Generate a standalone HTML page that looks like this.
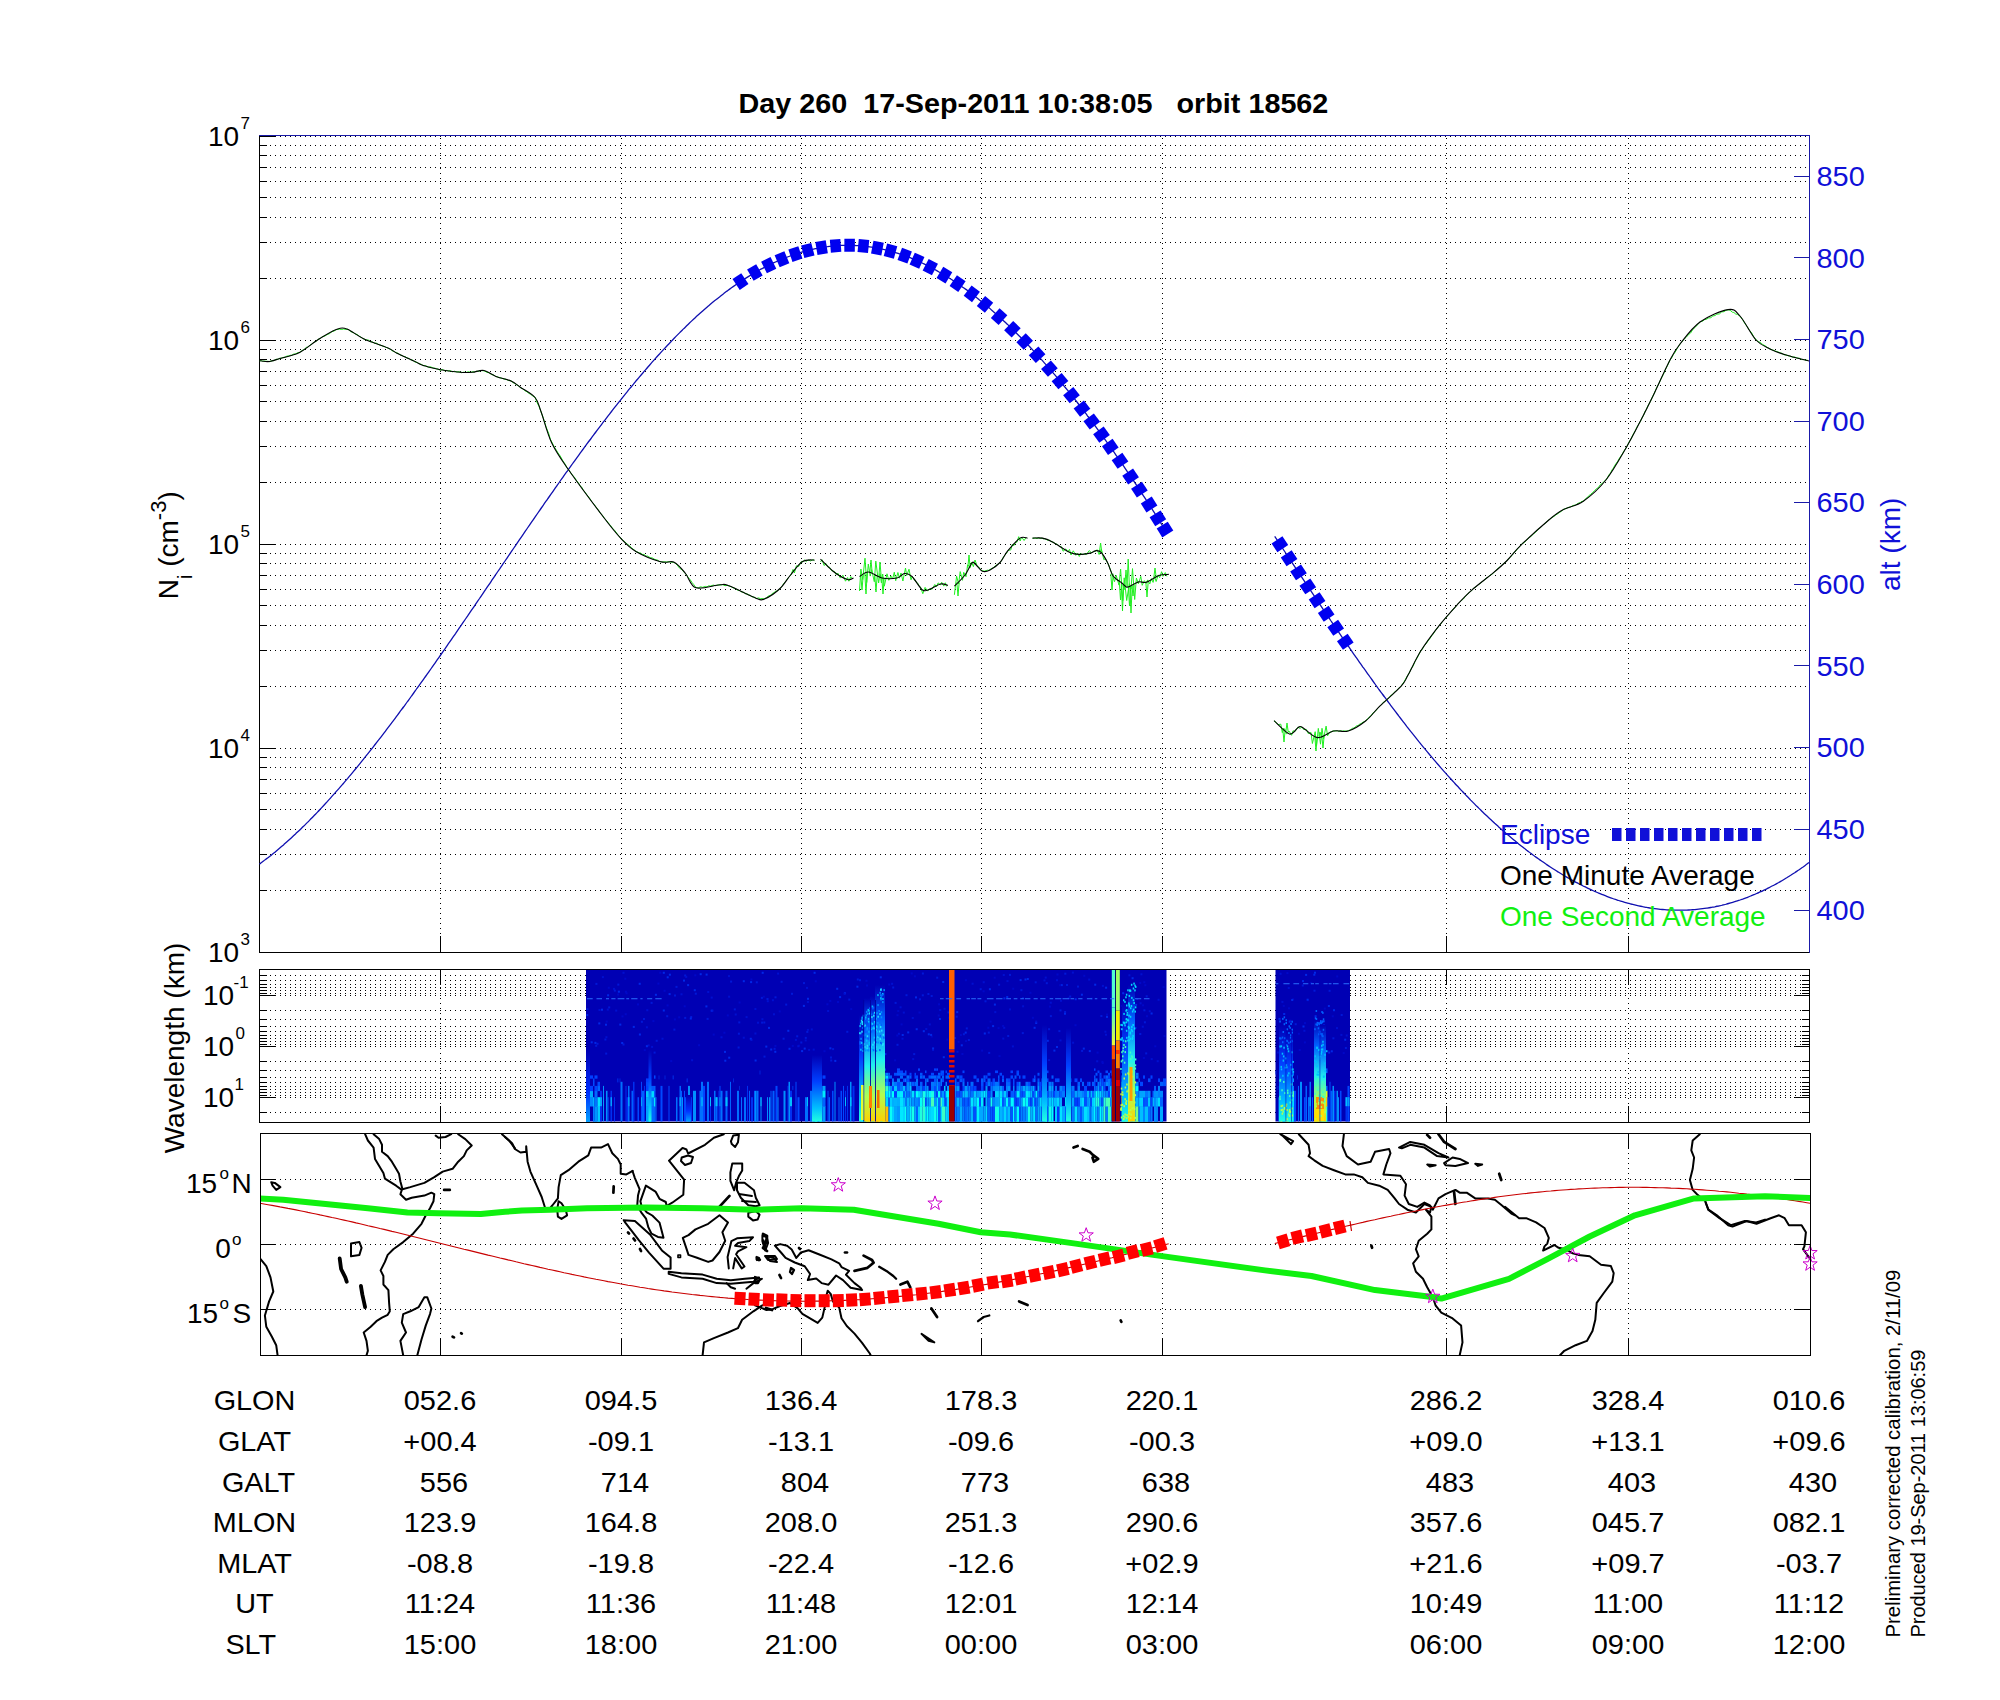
<!DOCTYPE html><html><head><meta charset="utf-8"><style>html,body{margin:0;padding:0;background:#fff;width:2000px;height:1700px;overflow:hidden}svg{display:block}text{font-family:"Liberation Sans",sans-serif;white-space:pre}</style></head><body>
<svg width="2000" height="1700" viewBox="0 0 2000 1700">
<rect width="2000" height="1700" fill="#fff"/>
<line x1="260" y1="890.5" x2="1809" y2="890.5" stroke="#000" stroke-width="1" stroke-dasharray="1 4"/>
<line x1="259" y1="890.5" x2="267" y2="890.5" stroke="#000" stroke-width="1"/>
<line x1="260" y1="854.5" x2="1809" y2="854.5" stroke="#000" stroke-width="1" stroke-dasharray="1 4"/>
<line x1="259" y1="854.5" x2="267" y2="854.5" stroke="#000" stroke-width="1"/>
<line x1="260" y1="829.5" x2="1809" y2="829.5" stroke="#000" stroke-width="1" stroke-dasharray="1 4"/>
<line x1="259" y1="829.5" x2="267" y2="829.5" stroke="#000" stroke-width="1"/>
<line x1="260" y1="809.5" x2="1809" y2="809.5" stroke="#000" stroke-width="1" stroke-dasharray="1 4"/>
<line x1="259" y1="809.5" x2="267" y2="809.5" stroke="#000" stroke-width="1"/>
<line x1="260" y1="793.5" x2="1809" y2="793.5" stroke="#000" stroke-width="1" stroke-dasharray="1 4"/>
<line x1="259" y1="793.5" x2="267" y2="793.5" stroke="#000" stroke-width="1"/>
<line x1="260" y1="779.5" x2="1809" y2="779.5" stroke="#000" stroke-width="1" stroke-dasharray="1 4"/>
<line x1="259" y1="779.5" x2="267" y2="779.5" stroke="#000" stroke-width="1"/>
<line x1="260" y1="767.5" x2="1809" y2="767.5" stroke="#000" stroke-width="1" stroke-dasharray="1 4"/>
<line x1="259" y1="767.5" x2="267" y2="767.5" stroke="#000" stroke-width="1"/>
<line x1="260" y1="757.5" x2="1809" y2="757.5" stroke="#000" stroke-width="1" stroke-dasharray="1 4"/>
<line x1="259" y1="757.5" x2="267" y2="757.5" stroke="#000" stroke-width="1"/>
<line x1="260" y1="748.5" x2="1809" y2="748.5" stroke="#000" stroke-width="1" stroke-dasharray="1 4"/>
<line x1="259" y1="748.5" x2="275" y2="748.5" stroke="#000" stroke-width="1"/>
<line x1="260" y1="686.5" x2="1809" y2="686.5" stroke="#000" stroke-width="1" stroke-dasharray="1 4"/>
<line x1="259" y1="686.5" x2="267" y2="686.5" stroke="#000" stroke-width="1"/>
<line x1="260" y1="650.5" x2="1809" y2="650.5" stroke="#000" stroke-width="1" stroke-dasharray="1 4"/>
<line x1="259" y1="650.5" x2="267" y2="650.5" stroke="#000" stroke-width="1"/>
<line x1="260" y1="625.5" x2="1809" y2="625.5" stroke="#000" stroke-width="1" stroke-dasharray="1 4"/>
<line x1="259" y1="625.5" x2="267" y2="625.5" stroke="#000" stroke-width="1"/>
<line x1="260" y1="605.5" x2="1809" y2="605.5" stroke="#000" stroke-width="1" stroke-dasharray="1 4"/>
<line x1="259" y1="605.5" x2="267" y2="605.5" stroke="#000" stroke-width="1"/>
<line x1="260" y1="589.5" x2="1809" y2="589.5" stroke="#000" stroke-width="1" stroke-dasharray="1 4"/>
<line x1="259" y1="589.5" x2="267" y2="589.5" stroke="#000" stroke-width="1"/>
<line x1="260" y1="575.5" x2="1809" y2="575.5" stroke="#000" stroke-width="1" stroke-dasharray="1 4"/>
<line x1="259" y1="575.5" x2="267" y2="575.5" stroke="#000" stroke-width="1"/>
<line x1="260" y1="563.5" x2="1809" y2="563.5" stroke="#000" stroke-width="1" stroke-dasharray="1 4"/>
<line x1="259" y1="563.5" x2="267" y2="563.5" stroke="#000" stroke-width="1"/>
<line x1="260" y1="553.5" x2="1809" y2="553.5" stroke="#000" stroke-width="1" stroke-dasharray="1 4"/>
<line x1="259" y1="553.5" x2="267" y2="553.5" stroke="#000" stroke-width="1"/>
<line x1="260" y1="544.5" x2="1809" y2="544.5" stroke="#000" stroke-width="1" stroke-dasharray="1 4"/>
<line x1="259" y1="544.5" x2="275" y2="544.5" stroke="#000" stroke-width="1"/>
<line x1="260" y1="482.5" x2="1809" y2="482.5" stroke="#000" stroke-width="1" stroke-dasharray="1 4"/>
<line x1="259" y1="482.5" x2="267" y2="482.5" stroke="#000" stroke-width="1"/>
<line x1="260" y1="446.5" x2="1809" y2="446.5" stroke="#000" stroke-width="1" stroke-dasharray="1 4"/>
<line x1="259" y1="446.5" x2="267" y2="446.5" stroke="#000" stroke-width="1"/>
<line x1="260" y1="421.5" x2="1809" y2="421.5" stroke="#000" stroke-width="1" stroke-dasharray="1 4"/>
<line x1="259" y1="421.5" x2="267" y2="421.5" stroke="#000" stroke-width="1"/>
<line x1="260" y1="401.5" x2="1809" y2="401.5" stroke="#000" stroke-width="1" stroke-dasharray="1 4"/>
<line x1="259" y1="401.5" x2="267" y2="401.5" stroke="#000" stroke-width="1"/>
<line x1="260" y1="385.5" x2="1809" y2="385.5" stroke="#000" stroke-width="1" stroke-dasharray="1 4"/>
<line x1="259" y1="385.5" x2="267" y2="385.5" stroke="#000" stroke-width="1"/>
<line x1="260" y1="371.5" x2="1809" y2="371.5" stroke="#000" stroke-width="1" stroke-dasharray="1 4"/>
<line x1="259" y1="371.5" x2="267" y2="371.5" stroke="#000" stroke-width="1"/>
<line x1="260" y1="359.5" x2="1809" y2="359.5" stroke="#000" stroke-width="1" stroke-dasharray="1 4"/>
<line x1="259" y1="359.5" x2="267" y2="359.5" stroke="#000" stroke-width="1"/>
<line x1="260" y1="349.5" x2="1809" y2="349.5" stroke="#000" stroke-width="1" stroke-dasharray="1 4"/>
<line x1="259" y1="349.5" x2="267" y2="349.5" stroke="#000" stroke-width="1"/>
<line x1="260" y1="340.5" x2="1809" y2="340.5" stroke="#000" stroke-width="1" stroke-dasharray="1 4"/>
<line x1="259" y1="340.5" x2="275" y2="340.5" stroke="#000" stroke-width="1"/>
<line x1="260" y1="278.5" x2="1809" y2="278.5" stroke="#000" stroke-width="1" stroke-dasharray="1 4"/>
<line x1="259" y1="278.5" x2="267" y2="278.5" stroke="#000" stroke-width="1"/>
<line x1="260" y1="242.5" x2="1809" y2="242.5" stroke="#000" stroke-width="1" stroke-dasharray="1 4"/>
<line x1="259" y1="242.5" x2="267" y2="242.5" stroke="#000" stroke-width="1"/>
<line x1="260" y1="217.5" x2="1809" y2="217.5" stroke="#000" stroke-width="1" stroke-dasharray="1 4"/>
<line x1="259" y1="217.5" x2="267" y2="217.5" stroke="#000" stroke-width="1"/>
<line x1="260" y1="197.5" x2="1809" y2="197.5" stroke="#000" stroke-width="1" stroke-dasharray="1 4"/>
<line x1="259" y1="197.5" x2="267" y2="197.5" stroke="#000" stroke-width="1"/>
<line x1="260" y1="181.5" x2="1809" y2="181.5" stroke="#000" stroke-width="1" stroke-dasharray="1 4"/>
<line x1="259" y1="181.5" x2="267" y2="181.5" stroke="#000" stroke-width="1"/>
<line x1="260" y1="167.5" x2="1809" y2="167.5" stroke="#000" stroke-width="1" stroke-dasharray="1 4"/>
<line x1="259" y1="167.5" x2="267" y2="167.5" stroke="#000" stroke-width="1"/>
<line x1="260" y1="155.5" x2="1809" y2="155.5" stroke="#000" stroke-width="1" stroke-dasharray="1 4"/>
<line x1="259" y1="155.5" x2="267" y2="155.5" stroke="#000" stroke-width="1"/>
<line x1="260" y1="145.5" x2="1809" y2="145.5" stroke="#000" stroke-width="1" stroke-dasharray="1 4"/>
<line x1="259" y1="145.5" x2="267" y2="145.5" stroke="#000" stroke-width="1"/>
<line x1="260" y1="136.5" x2="1809" y2="136.5" stroke="#000" stroke-width="1" stroke-dasharray="1 4"/>
<line x1="259" y1="136.5" x2="275" y2="136.5" stroke="#000" stroke-width="1"/>
<line x1="440.5" y1="138" x2="440.5" y2="952" stroke="#000" stroke-width="1" stroke-dasharray="1 4"/>
<line x1="440.5" y1="936" x2="440.5" y2="952" stroke="#000" stroke-width="1"/>
<line x1="621.5" y1="138" x2="621.5" y2="952" stroke="#000" stroke-width="1" stroke-dasharray="1 4"/>
<line x1="621.5" y1="936" x2="621.5" y2="952" stroke="#000" stroke-width="1"/>
<line x1="801.5" y1="138" x2="801.5" y2="952" stroke="#000" stroke-width="1" stroke-dasharray="1 4"/>
<line x1="801.5" y1="936" x2="801.5" y2="952" stroke="#000" stroke-width="1"/>
<line x1="981.5" y1="138" x2="981.5" y2="952" stroke="#000" stroke-width="1" stroke-dasharray="1 4"/>
<line x1="981.5" y1="936" x2="981.5" y2="952" stroke="#000" stroke-width="1"/>
<line x1="1162.5" y1="138" x2="1162.5" y2="952" stroke="#000" stroke-width="1" stroke-dasharray="1 4"/>
<line x1="1162.5" y1="936" x2="1162.5" y2="952" stroke="#000" stroke-width="1"/>
<line x1="1446.5" y1="138" x2="1446.5" y2="952" stroke="#000" stroke-width="1" stroke-dasharray="1 4"/>
<line x1="1446.5" y1="936" x2="1446.5" y2="952" stroke="#000" stroke-width="1"/>
<line x1="1628.5" y1="138" x2="1628.5" y2="952" stroke="#000" stroke-width="1" stroke-dasharray="1 4"/>
<line x1="1628.5" y1="936" x2="1628.5" y2="952" stroke="#000" stroke-width="1"/>
<line x1="1794" y1="910.5" x2="1809" y2="910.5" stroke="#1a1aa8" stroke-width="1"/>
<line x1="1794" y1="829.5" x2="1809" y2="829.5" stroke="#1a1aa8" stroke-width="1"/>
<line x1="1794" y1="747.5" x2="1809" y2="747.5" stroke="#1a1aa8" stroke-width="1"/>
<line x1="1794" y1="665.5" x2="1809" y2="665.5" stroke="#1a1aa8" stroke-width="1"/>
<line x1="1794" y1="584.5" x2="1809" y2="584.5" stroke="#1a1aa8" stroke-width="1"/>
<line x1="1794" y1="502.5" x2="1809" y2="502.5" stroke="#1a1aa8" stroke-width="1"/>
<line x1="1794" y1="421.5" x2="1809" y2="421.5" stroke="#1a1aa8" stroke-width="1"/>
<line x1="1794" y1="339.5" x2="1809" y2="339.5" stroke="#1a1aa8" stroke-width="1"/>
<line x1="1794" y1="257.5" x2="1809" y2="257.5" stroke="#1a1aa8" stroke-width="1"/>
<line x1="1794" y1="176.5" x2="1809" y2="176.5" stroke="#1a1aa8" stroke-width="1"/>
<line x1="259" y1="952.5" x2="1810" y2="952.5" stroke="#000" stroke-width="1"/>
<line x1="259.5" y1="135" x2="259.5" y2="953" stroke="#000" stroke-width="1"/>
<line x1="259" y1="135.5" x2="1810" y2="135.5" stroke="#1a1aa8" stroke-width="1"/>
<line x1="1809.5" y1="135" x2="1809.5" y2="953" stroke="#1a1aa8" stroke-width="1"/>
<path d="M259.5,864.1C260.2,863.6 262.2,862.1 263.5,861.1C264.8,860.1 266.2,859.1 267.5,858.1C268.8,857 270.2,856 271.5,854.9C272.8,853.8 274.2,852.8 275.5,851.7C276.8,850.6 278.2,849.4 279.5,848.3C280.8,847.2 282.2,846 283.5,844.9C284.8,843.7 286.2,842.5 287.5,841.3C288.8,840.1 290.2,838.9 291.5,837.7C292.8,836.5 294.2,835.2 295.5,834C296.8,832.7 298.2,831.5 299.5,830.2C300.8,828.9 302.2,827.6 303.5,826.3C304.8,825 306.2,823.7 307.5,822.4C308.8,821 310.2,819.7 311.5,818.3C312.8,816.9 314.2,815.6 315.5,814.2C316.8,812.8 318.2,811.4 319.5,810C320.8,808.6 322.2,807.1 323.5,805.7C324.8,804.3 326.2,802.8 327.5,801.4C328.8,799.9 330.2,798.4 331.5,796.9C332.8,795.4 334.2,793.9 335.5,792.4C336.8,790.9 338.2,789.4 339.5,787.9C340.8,786.3 342.2,784.8 343.5,783.3C344.8,781.7 346.2,780.1 347.5,778.6C348.8,777 350.2,775.4 351.5,773.8C352.8,772.2 354.2,770.6 355.5,769C356.8,767.4 358.2,765.7 359.5,764.1C360.8,762.5 362.2,760.8 363.5,759.2C364.8,757.5 366.2,755.8 367.5,754.2C368.8,752.5 370.2,750.8 371.5,749.1C372.8,747.4 374.2,745.7 375.5,744C376.8,742.3 378.2,740.6 379.5,738.9C380.8,737.2 382.2,735.4 383.5,733.7C384.8,731.9 386.2,730.2 387.5,728.4C388.8,726.7 390.2,724.9 391.5,723.1C392.8,721.4 394.2,719.6 395.5,717.8C396.8,716 398.2,714.2 399.5,712.4C400.8,710.6 402.2,708.8 403.5,707C404.8,705.2 406.2,703.4 407.5,701.5C408.8,699.7 410.2,697.9 411.5,696C412.8,694.2 414.2,692.3 415.5,690.5C416.8,688.6 418.2,686.8 419.5,684.9C420.8,683.1 422.2,681.2 423.5,679.3C424.8,677.4 426.2,675.6 427.5,673.7C428.8,671.8 430.2,669.9 431.5,668C432.8,666.1 434.2,664.2 435.5,662.3C436.8,660.4 438.2,658.5 439.5,656.6C440.8,654.7 442.2,652.8 443.5,650.9C444.8,649 446.2,647.1 447.5,645.1C448.8,643.2 450.2,641.3 451.5,639.3C452.8,637.4 454.2,635.5 455.5,633.6C456.8,631.6 458.2,629.7 459.5,627.7C460.8,625.8 462.2,623.9 463.5,621.9C464.8,620 466.2,618 467.5,616.1C468.8,614.1 470.2,612.2 471.5,610.2C472.8,608.3 474.2,606.3 475.5,604.3C476.8,602.4 478.2,600.4 479.5,598.5C480.8,596.5 482.2,594.6 483.5,592.6C484.8,590.6 486.2,588.7 487.5,586.7C488.8,584.8 490.2,582.8 491.5,580.8C492.8,578.9 494.2,576.9 495.5,574.9C496.8,573 498.2,571 499.5,569.1C500.8,567.1 502.2,565.1 503.5,563.2C504.8,561.2 506.2,559.3 507.5,557.3C508.8,555.3 510.2,553.4 511.5,551.4C512.8,549.5 514.2,547.5 515.5,545.6C516.8,543.6 518.2,541.7 519.5,539.7C520.8,537.8 522.2,535.8 523.5,533.9C524.8,531.9 526.2,530 527.5,528C528.8,526.1 530.2,524.1 531.5,522.2C532.8,520.3 534.2,518.3 535.5,516.4C536.8,514.5 538.2,512.5 539.5,510.6C540.8,508.7 542.2,506.8 543.5,504.9C544.8,502.9 546.2,501 547.5,499.1C548.8,497.2 550.2,495.3 551.5,493.4C552.8,491.5 554.2,489.6 555.5,487.7C556.8,485.8 558.2,483.9 559.5,482C560.8,480.1 562.2,478.3 563.5,476.4C564.8,474.5 566.2,472.6 567.5,470.8C568.8,468.9 570.2,467 571.5,465.2C572.8,463.3 574.2,461.5 575.5,459.6C576.8,457.8 578.2,456 579.5,454.1C580.8,452.3 582.2,450.5 583.5,448.7C584.8,446.8 586.2,445 587.5,443.2C588.8,441.4 590.2,439.6 591.5,437.8C592.8,436 594.2,434.3 595.5,432.5C596.8,430.7 598.2,428.9 599.5,427.2C600.8,425.4 602.2,423.7 603.5,421.9C604.8,420.2 606.2,418.4 607.5,416.7C608.8,415 610.2,413.2 611.5,411.5C612.8,409.8 614.2,408.1 615.5,406.4C616.8,404.7 618.2,403 619.5,401.3C620.8,399.7 622.2,398 623.5,396.3C624.8,394.7 626.2,393 627.5,391.4C628.8,389.7 630.2,388.1 631.5,386.5C632.8,384.9 634.2,383.3 635.5,381.6C636.8,380 638.2,378.5 639.5,376.9C640.8,375.3 642.2,373.7 643.5,372.2C644.8,370.6 646.2,369.1 647.5,367.5C648.8,366 650.2,364.4 651.5,362.9C652.8,361.4 654.2,359.9 655.5,358.4C656.8,356.9 658.2,355.4 659.5,354C660.8,352.5 662.2,351 663.5,349.6C664.8,348.2 666.2,346.7 667.5,345.3C668.8,343.9 670.2,342.5 671.5,341.1C672.8,339.7 674.2,338.3 675.5,336.9C676.8,335.6 678.2,334.2 679.5,332.9C680.8,331.5 682.2,330.2 683.5,328.9C684.8,327.6 686.2,326.3 687.5,325C688.8,323.7 690.2,322.4 691.5,321.1C692.8,319.9 694.2,318.6 695.5,317.4C696.8,316.2 698.2,315 699.5,313.8C700.8,312.6 702.2,311.4 703.5,310.2C704.8,309 706.2,307.9 707.5,306.7C708.8,305.6 710.2,304.5 711.5,303.3C712.8,302.2 714.2,301.1 715.5,300.1C716.8,299 718.2,297.9 719.5,296.9C720.8,295.8 722.2,294.8 723.5,293.8C724.8,292.7 726.2,291.7 727.5,290.7C728.8,289.8 730.2,288.8 731.5,287.8C732.8,286.9 734.2,285.9 735.5,285C736.8,284.1 738.2,283.2 739.5,282.3C740.8,281.4 742.2,280.5 743.5,279.6C744.8,278.8 746.2,277.9 747.5,277.1C748.8,276.3 750.2,275.5 751.5,274.7C752.8,273.9 754.2,273.1 755.5,272.3C756.8,271.5 758.2,270.8 759.5,270C760.8,269.3 762.2,268.6 763.5,267.9C764.8,267.2 766.2,266.5 767.5,265.8C768.8,265.2 770.2,264.5 771.5,263.9C772.8,263.2 774.2,262.6 775.5,262C776.8,261.4 778.2,260.8 779.5,260.2C780.8,259.6 782.2,259.1 783.5,258.5C784.8,258 786.2,257.5 787.5,257C788.8,256.5 790.2,256 791.5,255.5C792.8,255 794.2,254.6 795.5,254.1C796.8,253.7 798.2,253.2 799.5,252.8C800.8,252.4 802.2,252 803.5,251.7C804.8,251.3 806.2,250.9 807.5,250.6C808.8,250.2 810.2,249.9 811.5,249.6C812.8,249.3 814.2,249 815.5,248.7C816.8,248.4 818.2,248.2 819.5,247.9C820.8,247.7 822.2,247.5 823.5,247.2C824.8,247 826.2,246.8 827.5,246.7C828.8,246.5 830.2,246.3 831.5,246.2C832.8,246 834.2,245.9 835.5,245.8C836.8,245.7 838.2,245.6 839.5,245.5C840.8,245.5 842.2,245.4 843.5,245.4C844.8,245.3 846.2,245.3 847.5,245.3C848.8,245.3 850.2,245.3 851.5,245.3C852.8,245.4 854.2,245.4 855.5,245.5C856.8,245.5 858.2,245.6 859.5,245.7C860.8,245.8 862.2,245.9 863.5,246.1C864.8,246.2 866.2,246.3 867.5,246.5C868.8,246.7 870.2,246.9 871.5,247.1C872.8,247.3 874.2,247.5 875.5,247.7C876.8,248 878.2,248.2 879.5,248.5C880.8,248.8 882.2,249 883.5,249.4C884.8,249.7 886.2,250 887.5,250.3C888.8,250.7 890.2,251 891.5,251.4C892.8,251.8 894.2,252.2 895.5,252.6C896.8,253 898.2,253.4 899.5,253.9C900.8,254.3 902.2,254.8 903.5,255.3C904.8,255.7 906.2,256.2 907.5,256.7C908.8,257.3 910.2,257.8 911.5,258.3C912.8,258.9 914.2,259.4 915.5,260C916.8,260.6 918.2,261.2 919.5,261.8C920.8,262.4 922.2,263 923.5,263.7C924.8,264.3 926.2,265 927.5,265.7C928.8,266.3 930.2,267 931.5,267.7C932.8,268.4 934.2,269.2 935.5,269.9C936.8,270.6 938.2,271.4 939.5,272.2C940.8,272.9 942.2,273.7 943.5,274.5C944.8,275.3 946.2,276.1 947.5,277C948.8,277.8 950.2,278.7 951.5,279.5C952.8,280.4 954.2,281.3 955.5,282.2C956.8,283 958.2,284 959.5,284.9C960.8,285.8 962.2,286.7 963.5,287.7C964.8,288.7 966.2,289.6 967.5,290.6C968.8,291.6 970.2,292.6 971.5,293.6C972.8,294.6 974.2,295.6 975.5,296.7C976.8,297.7 978.2,298.8 979.5,299.9C980.8,300.9 982.2,302 983.5,303.1C984.8,304.2 986.2,305.3 987.5,306.5C988.8,307.6 990.2,308.7 991.5,309.9C992.8,311 994.2,312.2 995.5,313.4C996.8,314.6 998.2,315.8 999.5,317C1000.8,318.2 1002.2,319.4 1003.5,320.7C1004.8,321.9 1006.2,323.2 1007.5,324.4C1008.8,325.7 1010.2,327 1011.5,328.3C1012.8,329.6 1014.2,330.9 1015.5,332.2C1016.8,333.5 1018.2,334.9 1019.5,336.2C1020.8,337.6 1022.2,338.9 1023.5,340.3C1024.8,341.7 1026.2,343 1027.5,344.4C1028.8,345.8 1030.2,347.3 1031.5,348.7C1032.8,350.1 1034.2,351.5 1035.5,353C1036.8,354.5 1038.2,355.9 1039.5,357.4C1040.8,358.9 1042.2,360.4 1043.5,361.9C1044.8,363.4 1046.2,364.9 1047.5,366.4C1048.8,367.9 1050.2,369.5 1051.5,371C1052.8,372.6 1054.2,374.1 1055.5,375.7C1056.8,377.3 1058.2,378.9 1059.5,380.5C1060.8,382.1 1062.2,383.7 1063.5,385.3C1064.8,386.9 1066.2,388.6 1067.5,390.2C1068.8,391.8 1070.2,393.5 1071.5,395.2C1072.8,396.8 1074.2,398.5 1075.5,400.2C1076.8,401.9 1078.2,403.6 1079.5,405.3C1080.8,407 1082.2,408.8 1083.5,410.5C1084.8,412.2 1086.2,414 1087.5,415.8C1088.8,417.5 1090.2,419.3 1091.5,421.1C1092.8,422.8 1094.2,424.6 1095.5,426.4C1096.8,428.3 1098.2,430.1 1099.5,431.9C1100.8,433.7 1102.2,435.6 1103.5,437.4C1104.8,439.2 1106.2,441.1 1107.5,443C1108.8,444.8 1110.2,446.7 1111.5,448.6C1112.8,450.5 1114.2,452.4 1115.5,454.3C1116.8,456.2 1118.2,458.1 1119.5,460.1C1120.8,462 1122.2,463.9 1123.5,465.9C1124.8,467.8 1126.2,469.8 1127.5,471.8C1128.8,473.7 1130.2,475.7 1131.5,477.7C1132.8,479.7 1134.2,481.7 1135.5,483.7C1136.8,485.7 1138.2,487.7 1139.5,489.7C1140.8,491.8 1142.2,493.8 1143.5,495.9C1144.8,497.9 1146.2,500 1147.5,502C1148.8,504.1 1150.2,506.2 1151.5,508.2C1152.8,510.3 1154.2,512.4 1155.5,514.5C1156.8,516.6 1158.2,518.7 1159.5,520.8C1160.8,523 1162.6,525.8 1163.5,527.2C1164.4,528.7 1164.8,529.2 1165,529.6" fill="none" stroke="#1010b0" stroke-width="1.3"/>
<path d="M1274.7,536.4C1275.4,537.4 1277.4,540.4 1278.7,542.4C1280,544.4 1281.4,546.5 1282.7,548.5C1284,550.5 1285.4,552.5 1286.7,554.5C1288,556.5 1289.4,558.6 1290.7,560.6C1292,562.6 1293.4,564.6 1294.7,566.6C1296,568.6 1297.4,570.6 1298.7,572.7C1300,574.7 1301.4,576.7 1302.7,578.7C1304,580.7 1305.4,582.7 1306.7,584.7C1308,586.7 1309.4,588.7 1310.7,590.7C1312,592.7 1313.4,594.7 1314.7,596.7C1316,598.7 1317.4,600.7 1318.7,602.7C1320,604.7 1321.4,606.6 1322.7,608.6C1324,610.6 1325.4,612.6 1326.7,614.6C1328,616.5 1329.4,618.5 1330.7,620.5C1332,622.4 1333.4,624.4 1334.7,626.4C1336,628.3 1337.4,630.3 1338.7,632.2C1340,634.2 1341.4,636.1 1342.7,638.1C1344,640 1345.4,641.9 1346.7,643.9C1348,645.8 1349.4,647.7 1350.7,649.6C1352,651.6 1353.4,653.5 1354.7,655.4C1356,657.3 1357.4,659.2 1358.7,661.1C1360,663 1361.4,664.9 1362.7,666.8C1364,668.6 1365.4,670.5 1366.7,672.4C1368,674.3 1369.4,676.1 1370.7,678C1372,679.8 1373.4,681.7 1374.7,683.5C1376,685.4 1377.4,687.2 1378.7,689.1C1380,690.9 1381.4,692.7 1382.7,694.5C1384,696.3 1385.4,698.1 1386.7,699.9C1388,701.7 1389.4,703.5 1390.7,705.3C1392,707.1 1393.4,708.9 1394.7,710.6C1396,712.4 1397.4,714.1 1398.7,715.9C1400,717.6 1401.4,719.4 1402.7,721.1C1404,722.8 1405.4,724.5 1406.7,726.3C1408,728 1409.4,729.7 1410.7,731.4C1412,733 1413.4,734.7 1414.7,736.4C1416,738.1 1417.4,739.7 1418.7,741.4C1420,743 1421.4,744.7 1422.7,746.3C1424,747.9 1425.4,749.5 1426.7,751.1C1428,752.7 1429.4,754.3 1430.7,755.9C1432,757.5 1433.4,759.1 1434.7,760.6C1436,762.2 1437.4,763.8 1438.7,765.3C1440,766.8 1441.4,768.4 1442.7,769.9C1444,771.4 1445.4,772.9 1446.7,774.4C1448,775.9 1449.4,777.4 1450.7,778.8C1452,780.3 1453.4,781.8 1454.7,783.2C1456,784.7 1457.4,786.1 1458.7,787.5C1460,789 1461.4,790.4 1462.7,791.8C1464,793.2 1465.4,794.6 1466.7,796C1468,797.4 1469.4,798.7 1470.7,800.1C1472,801.4 1473.4,802.8 1474.7,804.1C1476,805.5 1477.4,806.8 1478.7,808.1C1480,809.4 1481.4,810.7 1482.7,812C1484,813.3 1485.4,814.6 1486.7,815.8C1488,817.1 1489.4,818.3 1490.7,819.6C1492,820.8 1493.4,822 1494.7,823.3C1496,824.5 1497.4,825.7 1498.7,826.9C1500,828.1 1501.4,829.3 1502.7,830.4C1504,831.6 1505.4,832.8 1506.7,833.9C1508,835 1509.4,836.2 1510.7,837.3C1512,838.4 1513.4,839.5 1514.7,840.6C1516,841.7 1517.4,842.8 1518.7,843.9C1520,844.9 1521.4,846 1522.7,847.1C1524,848.1 1525.4,849.1 1526.7,850.2C1528,851.2 1529.4,852.2 1530.7,853.2C1532,854.2 1533.4,855.2 1534.7,856.2C1536,857.1 1537.4,858.1 1538.7,859C1540,860 1541.4,860.9 1542.7,861.8C1544,862.8 1545.4,863.7 1546.7,864.6C1548,865.5 1549.4,866.4 1550.7,867.2C1552,868.1 1553.4,869 1554.7,869.8C1556,870.7 1557.4,871.5 1558.7,872.3C1560,873.1 1561.4,874 1562.7,874.8C1564,875.5 1565.4,876.3 1566.7,877.1C1568,877.9 1569.4,878.6 1570.7,879.4C1572,880.1 1573.4,880.9 1574.7,881.6C1576,882.3 1577.4,883 1578.7,883.7C1580,884.4 1581.4,885.1 1582.7,885.7C1584,886.4 1585.4,887 1586.7,887.7C1588,888.3 1589.4,889 1590.7,889.6C1592,890.2 1593.4,890.8 1594.7,891.4C1596,892 1597.4,892.5 1598.7,893.1C1600,893.7 1601.4,894.2 1602.7,894.7C1604,895.3 1605.4,895.8 1606.7,896.3C1608,896.8 1609.4,897.3 1610.7,897.8C1612,898.3 1613.4,898.7 1614.7,899.2C1616,899.6 1617.4,900.1 1618.7,900.5C1620,900.9 1621.4,901.3 1622.7,901.7C1624,902.1 1625.4,902.5 1626.7,902.9C1628,903.3 1629.4,903.6 1630.7,904C1632,904.3 1633.4,904.6 1634.7,904.9C1636,905.3 1637.4,905.6 1638.7,905.8C1640,906.1 1641.4,906.4 1642.7,906.7C1644,906.9 1645.4,907.2 1646.7,907.4C1648,907.6 1649.4,907.9 1650.7,908.1C1652,908.3 1653.4,908.5 1654.7,908.6C1656,908.8 1657.4,909 1658.7,909.1C1660,909.3 1661.4,909.4 1662.7,909.5C1664,909.6 1665.4,909.7 1666.7,909.8C1668,909.9 1669.4,910 1670.7,910C1672,910.1 1673.4,910.2 1674.7,910.2C1676,910.2 1677.4,910.2 1678.7,910.2C1680,910.2 1681.4,910.2 1682.7,910.2C1684,910.2 1685.4,910.1 1686.7,910.1C1688,910 1689.4,910 1690.7,909.9C1692,909.8 1693.4,909.7 1694.7,909.6C1696,909.5 1697.4,909.3 1698.7,909.2C1700,909.1 1701.4,908.9 1702.7,908.7C1704,908.6 1705.4,908.4 1706.7,908.2C1708,908 1709.4,907.8 1710.7,907.5C1712,907.3 1713.4,907 1714.7,906.8C1716,906.5 1717.4,906.2 1718.7,906C1720,905.7 1721.4,905.4 1722.7,905C1724,904.7 1725.4,904.4 1726.7,904C1728,903.7 1729.4,903.3 1730.7,902.9C1732,902.5 1733.4,902.1 1734.7,901.7C1736,901.3 1737.4,900.9 1738.7,900.4C1740,900 1741.4,899.5 1742.7,899.1C1744,898.6 1745.4,898.1 1746.7,897.6C1748,897.1 1749.4,896.6 1750.7,896C1752,895.5 1753.4,894.9 1754.7,894.4C1756,893.8 1757.4,893.2 1758.7,892.6C1760,892 1761.4,891.4 1762.7,890.8C1764,890.2 1765.4,889.5 1766.7,888.9C1768,888.2 1769.4,887.5 1770.7,886.8C1772,886.1 1773.4,885.4 1774.7,884.7C1776,884 1777.4,883.2 1778.7,882.5C1780,881.7 1781.4,881 1782.7,880.2C1784,879.4 1785.4,878.6 1786.7,877.8C1788,876.9 1789.4,876.1 1790.7,875.3C1792,874.4 1793.4,873.5 1794.7,872.7C1796,871.8 1797.4,870.9 1798.7,870C1800,869 1801.4,868.1 1802.7,867.2C1804,866.2 1805.6,865.1 1806.7,864.3C1807.8,863.5 1808.8,862.7 1809.2,862.4" fill="none" stroke="#1010b0" stroke-width="1.3"/>
<path d="M259.8,360.9 L261.2,360.5 L262.5,361.3 L264.3,361 L266.3,361.3 L268.2,361.3 L269.5,361.7 L272.1,360.7 L273.6,360.7 L276.3,359.2 L278.2,359.6 L279.4,358.2 L281.1,358.3 L282.5,357.6 L285,357.1 L287.1,356 L288.9,356 L290.2,355.3 L291.8,355.3 L293.6,354.1 L295.8,353.9 L297.5,352.7 L299.8,352.5 L301.9,350.6 L304.5,349.4 L306.2,347.3 L307.6,347.2 L310,345.1 L311.9,344 L314.2,341.9 L316.3,341.4 L318,339.3 L320.2,338.7 L322.1,336.8 L324.8,336.1 L327.1,334.5 L329.4,333.7 L332.2,331.4 L333.9,331.2 L336.1,329.6 L338.1,329.4 L339.5,329.2 L341.9,329.4 L343.5,329 L346.1,329.4 L348,329.2 L350.6,331.6 L353.2,332.4 L355,333.9 L357.7,334.7 L359.1,336.2 L360.7,336.9 L362.7,338.5 L364.3,339 L366.1,340 L368.2,340 L370.6,341.7 L372.7,341.9 L374,343.3 L376.5,343.2 L379,344.8 L380.8,345.2 L383,346.2 L384.3,346.5 L385.8,347.4 L387.1,347.6 L388.5,348.4 L390.3,349.2 L392.9,351.2 L394.3,351.5 L396.1,352.9 L397.5,353 L400.3,355 L402.2,355.5 L403.6,356.5 L405.2,356.5 L406.7,357.8 L409.4,358.6 L410.8,359.9 L412.1,359.9 L414.8,361.9 L417.2,362.4 L418.9,363.6 L421.4,364.4 L423.8,365.8 L425.4,365.5 L428.2,367.2 L430.6,366.8 L433,368 L435.1,368.2 L436.3,368.8 L438,369 L440.3,370.3 L442.2,369.4 L445,370.9 L446.7,370.4 L448.3,370.9 L449.8,370.6 L452.5,371.8 L454.4,371.2 L456.9,372 L459.2,371.7 L461.6,372.7 L463.6,372.2 L466.1,372.5 L468.5,371.7 L470.4,372.5 L473.1,371.7 L474.6,372 L476,371.2 L478.5,371.4 L481,370.4 L483.3,370.8 L485.3,371.1 L486.6,372.4 L488.8,372.6 L491.5,374.5 L494.1,375.1 L495.6,376.5 L497.3,376.7 L499.4,377.7 L501.3,378 L504,379.1 L505.9,379.2 L508.5,380.5 L511.2,380.9 L513.3,382.8 L514.5,383.1 L516,384.4 L518.5,385.8 L520.4,387.7 L522.5,388.6 L524.5,390.5 L527,391.8 L529.1,393.5 L530.7,394.1 L532.7,396.2 L535.2,397.3 L537.1,402.7 L539.1,406.7 L541.4,412.9 L543.4,418.4 L546.1,427 L548.8,433.8 L550.4,439.4 L553.1,444.5 L554.5,447.3 L556.4,450.2 L558,453 L560.3,456.1 L562.9,460.9 L565.2,464.2 L566.7,467.4 L569.4,470.8 L572.1,474.8 L574.1,476.7 L576.7,480.9 L578.5,483 L580.3,485.8 L582,487.6 L583.2,490 L585.1,492.2 L586.9,494.9 L588.9,497.2 L591.7,501.6 L594.4,504.7 L596,507.1 L598.5,510.2 L599.9,512.5 L602.5,515.4 L604.2,518 L606.8,520.9 L609.2,524.1 L610.4,525.2 L612.3,528 L615,530.8 L617.5,534.3 L620.1,537.3 L622.7,540.3 L624.4,541.3 L627.1,544.1 L628.5,544.8 L630.1,546.6 L631.5,547.6 L633.1,549.2 L634.7,550.1 L636.4,552 L637.9,552.1 L639.1,553 L640.3,552.9 L642.4,554.4 L644.4,554.5 L645.8,556.1 L647.6,556.1 L650.2,557.7 L652.2,557.9 L655,559.6 L657.5,560.1 L659.7,561.7 L661.5,561.7 L662.9,562 L665.3,561.8 L666.7,562.1 L669.3,561.6 L671.5,562.3 L673.1,562 L675.1,563.2 L677,564.8 L679.7,568.3 L681.8,569.6 L684.5,572.7 L686.3,574.5 L688.1,577.3 L690.1,579.6 L692.1,582.6 L693.8,584.6 L695.6,587.3 L696.8,587.5 L698.4,587.8 L700.5,586.8 L702.7,587.3 L705.3,586.4 L707,587 L708.5,585.8 L710.7,586 L713.2,585.1 L715.4,585.7 L717.9,584.9 L720,585 L722.5,584.6 L725,585.7 L727.7,585.3 L730,586.4 L731.2,586.7 L733,587.8 L735.5,588.5 L737.7,590.2 L740,590.6 L741.2,591.9 L743.6,592.3 L745.7,593.9 L747,593.7 L748.6,594.9 L750.2,595.2 L751.8,596.7 L754.5,597.3 L756.3,598.5 L758.6,597.9 L760.8,598.8 L762.1,598.4 L763.7,599.1 L765.4,598.1 L766.6,597.7 L768.3,596.1 L770.6,595.3 L772.2,593.5 L774.2,592.7 L775.6,591 L777.1,591.1 L779.8,588.5 L781.7,586.7 L784.5,582.5 L786.1,580.8 L788.8,577 L791,575.1 L793,569.4 L794.4,573 L796.4,565.8 L798.7,566.5 L801.4,561.4 L802.6,561.9 L804.6,560 L806.3,561.6 L808,559.9 L810.6,560.9 L813,559.7 L814.4,560.6" fill="none" stroke="#20f020" stroke-width="1"/>
<path d="M820.5,561.9 L822.2,559.8 L824,565.5 L826.1,563.6 L828,567.2 L829.3,567 L831.8,570.8 L834.5,571.5 L836.2,574.6 L837.7,573 L840.4,578.1 L842.9,575.2 L845.5,581.2 L847.6,577.5 L848.9,581.2 L850.8,576.6 L853.1,579" fill="none" stroke="#20f020" stroke-width="1"/>
<path d="M859.5,591 L860.9,569 L862.7,579.5 L865,558.2 L866.7,582.5 L868.3,564 L870.2,576.1 L871.6,569.7 L874.3,581.7 L875.8,561.1 L878.6,583 L880,573.6 L881.4,582.8 L882.7,574 L884.3,586.2 L887,573.8 L888.8,580.3 L890.9,575.9 L892.6,579 L894.3,572.2 L895.7,580.7 L897.9,572.5 L899.4,578.2 L901,573 L902.9,581 L905.5,568 L906.7,575.5 L909,569.2 L911,579.8 L912.2,576.5 L914.9,580.7 L917.5,582.9 L919.1,585.7 L920.5,587.1 L922.8,593.7 L925.1,587.4 L927.6,591.1 L929.6,588.7 L932.1,589.2 L934.8,584.5 L936.5,586.8 L938.1,582.9 L940.4,584.8 L941.7,582.3 L943.8,586.1 L945.4,582.8 L946.6,586.4" fill="none" stroke="#20f020" stroke-width="1"/>
<path d="M954.4,594.8 L956.6,576.2 L958.6,584 L960.2,571.6 L962.5,580.3 L963.7,572.3 L966,576.7 L967.6,564.9 L970.3,567 L971.6,562.1 L973.4,566.6 L975,560 L977.3,566.4 L978.9,567 L980.6,569.8 L982.1,570.8 L984.6,571.1 L987.3,570.2 L988.8,570.3 L990.7,569.1 L993.4,567.6 L995.2,566 L998,564.1 L999.2,563 L1001.1,561.4 L1003.7,556.6 L1006.5,553.3 L1008.2,550.4 L1010.9,549.8 L1012.2,544.5 L1014,545.5 L1015.7,542 L1016.9,542.2 L1018.7,536.7 L1020.1,541 L1021.6,537.1 L1024.1,540.5 L1026,537.6" fill="none" stroke="#20f020" stroke-width="1"/>
<path d="M1032.5,538.3 L1035.2,538 L1037,538.6 L1038.2,537.9 L1040.7,538.5 L1042,538 L1043.3,538.9 L1044.9,538.6 L1047.5,540.2 L1049.2,540.1 L1051.3,541.6 L1053.7,542.4 L1055.3,543.7 L1057.7,544.5 L1059.9,547 L1061.2,546.4 L1063.1,551.2 L1065.9,548.9 L1067.5,552.1 L1069.5,549.4 L1071,555 L1073.3,550.8 L1075.8,555.3 L1077.5,553 L1079.3,556.5 L1080.6,553.6 L1083,554.8 L1084.3,553.4 L1086.4,554.5 L1089.2,550.6 L1091.9,553.1 L1093.3,551.3 L1095.3,551.4 L1097.2,549.7 L1099.1,554.5 L1101.3,549.1 L1103.9,559.8 L1105.3,558.5 L1107,561.9 L1108.8,565.2 L1110.3,569.6 L1111.9,573.3 L1114.5,581.7 L1116.2,575.4 L1119,585.1 L1120.6,569 L1122.8,600.7 L1124.2,577.8 L1126.7,600.5 L1129.3,583.7 L1131,588.9 L1132.5,568.6 L1134.7,599.5 L1136.4,578 L1138.4,583.7 L1140.8,576.4 L1142.2,585.3 L1144.4,580.7 L1146.2,583.4 L1147.7,579.9 L1149.8,583.9 L1151.4,578.6 L1153.1,582.4 L1154.6,576 L1156.1,581.5 L1158.2,574.9 L1159.6,577.7 L1161.6,571.7 L1163,576.3 L1165.3,572.6 L1166.9,576.4" fill="none" stroke="#20f020" stroke-width="1"/>
<path d="M1274,720.9 L1276.1,722.3 L1278,724.6 L1280.8,724.2 L1282.3,732.6 L1283.8,728.1 L1286.5,734.1 L1289,731 L1291.6,735.3 L1293,730.8 L1295.1,731.5 L1297.8,727.2 L1300,728.4 L1302,726.8 L1303.6,729.5 L1306.3,729.4 L1308.3,733.6 L1311,732.5 L1312.4,743.5 L1315.2,731.7 L1316.5,746.1 L1318.3,728.4 L1320.5,744.2 L1322,728.3 L1323.5,738.8 L1326.1,726.1 L1327.6,735.8 L1329.4,732.4 L1331.2,732 L1332.8,730.9 L1335.4,731.1 L1337.5,730.6 L1338.8,731.5 L1340.2,730.7 L1342.3,731.3 L1344,730.8 L1346.1,731.2 L1348.4,730.7 L1350.3,729.9 L1352.4,728.3 L1354,728 L1356.5,725.9 L1358,725.6 L1359.3,724.4 L1361.2,723.5 L1363.1,722 L1364.4,721.9 L1365.7,720.4 L1368.2,718.6 L1369.5,716.7 L1371.3,715.6 L1372.7,713.1 L1375.5,711.1 L1378,707.9 L1380.7,705.5 L1383.5,702.1 L1384.9,701.7 L1387.6,698.7 L1389.4,697.6 L1390.8,695.3 L1392.5,694.7 L1393.9,692.6 L1396.6,690.5 L1398.2,688.6 L1399.9,687.4 L1401.4,685.6 L1404.1,681.8 L1406.7,677 L1409.2,673 L1411.2,668.7 L1413,666.2 L1415.1,661.4 L1417.7,656.9 L1420.5,651.2 L1422.3,649.3 L1424,646 L1426.1,643.8 L1428.5,640.1 L1430,638.7 L1431.3,636 L1432.9,634.6 L1435.6,630.1 L1437.9,627.5 L1439.1,625.6 L1440.6,624.3 L1442.4,621.5 L1445.1,618.9 L1446.6,616.6 L1447.9,615.6 L1449.6,613.4 L1451.4,611.6 L1453.5,608.7 L1455.1,607.6 L1457,604.8 L1459.7,602.3 L1461.2,600.6 L1463.4,599 L1465.8,595.8 L1467.5,594.5 L1469.7,591.9 L1471.5,590.8 L1473.4,588.3 L1475.7,587.1 L1478.4,584.7 L1480.4,583.4 L1482,581.8 L1484.5,580 L1486.5,577.7 L1488,577.3 L1490.1,575.1 L1492.4,574.1 L1493.9,572.2 L1495.5,570.9 L1498.2,568.1 L1500.5,566.5 L1503.1,563.7 L1505,562.8 L1506.9,560.5 L1508.3,559.3 L1509.6,557.6 L1512,555.5 L1514.5,551.9 L1516.1,550.8 L1518,548 L1520.1,546.3 L1522.3,543.3 L1523.8,543 L1525.1,541.3 L1526.6,540.4 L1529.4,537.1 L1531.1,536.5 L1532.8,534.3 L1535.5,532.4 L1537.8,529.6 L1540.5,527.7 L1543.1,524.8 L1545.6,523.1 L1548,520.4 L1549.7,519.4 L1551.9,517.6 L1554.6,516 L1555.8,514.9 L1558.5,513.3 L1559.9,512 L1561.2,511.6 L1563.4,509.3 L1565.8,508.7 L1567.9,507.5 L1570.4,507.1 L1573,505.5 L1575.6,505 L1578.3,503.2 L1579.9,502.8 L1581.1,501.6 L1583.6,501.2 L1586.1,498.2 L1587.8,497.1 L1589.2,495.3 L1590.7,494.4 L1592.6,492.4 L1594.2,491.2 L1596.5,488.6 L1598.2,487.8 L1600.2,484.8 L1602.4,483.3 L1604.3,481.3 L1606.7,478.9 L1609.1,474.7 L1610.6,473 L1612,469.9 L1613.4,468.1 L1614.9,465.2 L1617.7,461.3 L1619.7,457.8 L1622.2,454.2 L1624.2,450.7 L1626.7,446.9 L1629.4,441.4 L1630.9,439.1 L1632.9,434.9 L1635.2,430.9 L1637.6,425.8 L1640.1,421.9 L1641.9,418.1 L1643.7,415.1 L1645,411.4 L1646.3,409.6 L1647.9,405.7 L1649.9,402.4 L1652.5,396.8 L1654.4,393.1 L1656.8,387.3 L1659.1,383.2 L1660.8,379.3 L1663.4,374.4 L1665.7,368.9 L1667.6,365.4 L1669.8,360.4 L1671.7,357.8 L1673.3,354.6 L1675,352.4 L1677.5,347.8 L1679,345.8 L1680.7,343 L1682.1,341.8 L1683.7,339.4 L1686,337.5 L1688.8,334.3 L1690.6,333 L1693,329.2 L1694.9,327.7 L1697.2,325 L1698.7,323.7 L1699.9,321.8 L1702.4,321.3 L1704.4,319.7 L1706.4,319.3 L1708.5,318 L1710.9,317.7 L1712.8,316 L1715.2,315.5 L1716.8,314.2 L1719.4,313.9 L1721.7,311.9 L1724,311.7 L1725.9,310.4 L1728.1,309.8 L1730,310.2 L1732.3,312.2 L1733.9,312.5 L1735.8,314.1 L1737.7,314.4 L1740.4,316.7 L1742.6,319.5 L1744.5,322.9 L1747.2,326.7 L1749.3,330.1 L1751.7,333 L1753.8,336.8 L1755.9,339.5 L1758.2,341.7 L1760.5,342.4 L1762.5,344.4 L1765.2,345.8 L1767.5,347.6 L1769.9,348.8 L1772.7,350.2 L1774,350.3 L1775.8,351.3 L1777.7,351.7 L1780,353 L1781.6,353.2 L1784,354.8 L1786.1,354.9 L1788.6,355.9 L1790.1,356 L1792.5,357.2 L1794.7,357 L1796.8,358 L1799.6,358.3 L1801.8,359.6 L1804.3,359.5 L1806,360.5 L1807.4,360.1" fill="none" stroke="#20f020" stroke-width="1"/>
<path d="M1119.3,582 L1120.5,600 L1121.7,582" fill="none" stroke="#20f020" stroke-width="1"/>
<path d="M1121.3,583.6 L1122.5,611 L1123.7,583.6" fill="none" stroke="#20f020" stroke-width="1"/>
<path d="M1122.8,584.9 L1124,590 L1125.2,584.9" fill="none" stroke="#20f020" stroke-width="1"/>
<path d="M1124.8,586.7 L1126,570 L1127.2,586.7" fill="none" stroke="#20f020" stroke-width="1"/>
<path d="M1127,586.6 L1128.2,559 L1129.4,586.6" fill="none" stroke="#20f020" stroke-width="1"/>
<path d="M1128.3,586.3 L1129.5,606 L1130.7,586.3" fill="none" stroke="#20f020" stroke-width="1"/>
<path d="M1129.8,585.8 L1131,613 L1132.2,585.8" fill="none" stroke="#20f020" stroke-width="1"/>
<path d="M1131.8,584.8 L1133,596 L1134.2,584.8" fill="none" stroke="#20f020" stroke-width="1"/>
<path d="M956.8,582.4 L958,596 L959.2,582.4" fill="none" stroke="#20f020" stroke-width="1"/>
<path d="M1099.4,552.3 L1100.6,543 L1101.8,552.3" fill="none" stroke="#20f020" stroke-width="1"/>
<path d="M967.8,568.1 L969,555 L970.2,568.1" fill="none" stroke="#20f020" stroke-width="1"/>
<path d="M864.8,573.2 L866,594 L867.2,573.2" fill="none" stroke="#20f020" stroke-width="1"/>
<path d="M869.8,573.1 L871,560 L872.2,573.1" fill="none" stroke="#20f020" stroke-width="1"/>
<path d="M874.8,575.3 L876,592 L877.2,575.3" fill="none" stroke="#20f020" stroke-width="1"/>
<path d="M878.8,577.1 L880,562 L881.2,577.1" fill="none" stroke="#20f020" stroke-width="1"/>
<path d="M860.8,575.2 L862,590 L863.2,575.2" fill="none" stroke="#20f020" stroke-width="1"/>
<path d="M1282.8,729.3 L1284,742 L1285.2,729.3" fill="none" stroke="#20f020" stroke-width="1"/>
<path d="M1285.8,731.9 L1287,723 L1288.2,731.9" fill="none" stroke="#20f020" stroke-width="1"/>
<path d="M1314.8,736.6 L1316,751 L1317.2,736.6" fill="none" stroke="#20f020" stroke-width="1"/>
<path d="M1318.8,736.5 L1320,732 L1321.2,736.5" fill="none" stroke="#20f020" stroke-width="1"/>
<path d="M1321.8,735.3 L1323,748 L1324.2,735.3" fill="none" stroke="#20f020" stroke-width="1"/>
<path d="M881.8,578 L883,594 L884.2,578" fill="none" stroke="#20f020" stroke-width="1"/>
<path d="M1110.8,573.8 L1112,590 L1113.2,573.8" fill="none" stroke="#20f020" stroke-width="1"/>
<path d="M1145.8,581.9 L1147,597 L1148.2,581.9" fill="none" stroke="#20f020" stroke-width="1"/>
<path d="M1153.8,577.6 L1155,568 L1156.2,577.6" fill="none" stroke="#20f020" stroke-width="1"/>
<path d="M259.8,360.8C261.4,360.9 266.1,361.9 269.5,361.5C272.9,361.1 275,360 280,358.5C285,357 293,355.8 299.5,352.5C306,349.2 312.8,342.9 319,339C325.2,335.1 332.2,330.9 337,329.2C341.8,327.6 343,327.6 347.5,329.2C352,330.9 357.2,335.9 364,339C370.8,342.1 382.5,345.6 388,348C393.5,350.4 392.5,351 397,353.2C401.5,355.5 410.8,359.5 415,361.5C419.2,363.5 418.2,363.9 422.5,365.2C426.8,366.6 434.2,368.6 440.5,369.8C446.8,370.9 454.8,371.9 460,372.3C465.2,372.7 468,372.6 472,372.3C476,372 480,369.8 484,370.5C488,371.2 491.5,374.8 496,376.5C500.5,378.2 507,379.2 511,381C515,382.8 516,384.2 520,387C524,389.8 531.5,393.4 535,397.5C538.5,401.6 538.2,404 541,411.5C543.8,419 547,432.8 551.5,442.4C556,452 559.4,456.6 568,469C576.6,481.4 594.1,504.8 603,516.5C611.9,528.2 616,533.3 621.5,539.1C627,544.9 629.4,547.7 635.9,551.5C642.4,555.3 654.2,560 660.6,561.8C667,563.6 670.1,560.3 674.2,562.2C678.4,564.2 681.9,569.2 685.5,573.5C689.1,577.8 690.2,585.9 696,587.8C701.8,589.6 714.5,585.1 720,584.8C725.5,584.4 723,583.5 729,585.8C735,588 750,596.1 756,598.2C762,600.4 761,600.3 765,598.7C769,597.1 775.8,592.5 780,588.5C784.2,584.5 786.8,579.5 790.5,575C794.2,570.5 798.5,564 802.5,561.5C806.5,559 812.5,560.2 814.5,560" fill="none" stroke="#000" stroke-width="1.1"/>
<path d="M820.5,559.2C822.8,561.4 829.5,568.6 834,572C838.5,575.4 844.2,578.5 847.5,579.5C850.8,580.5 852.5,578.2 853.5,578" fill="none" stroke="#000" stroke-width="1.1"/>
<path d="M859.5,576.5C861,575.8 864.8,571.8 868.5,572C872.2,572.2 877.2,577 882,578C886.8,579 893.2,578.8 897,578C900.8,577.2 902,573.8 904.5,573.5C907,573.2 909,573.8 912,576.5C915,579.2 919.5,587.9 922.5,590C925.5,592.1 927,590.2 930,589.2C933,588.2 937.5,584.6 940.5,584C943.5,583.4 946.8,585.2 948,585.5" fill="none" stroke="#000" stroke-width="1.1"/>
<path d="M954.4,586.2C956.2,584.4 962.1,578.9 965,575C967.9,571.1 970.2,565 971.9,563.1C973.6,561.2 973.2,562.4 975,563.8C976.8,565.1 980,570.2 982.5,571.2C985,572.3 987.1,571.5 990,570C992.9,568.5 997.1,565.6 1000,562.5C1002.9,559.4 1004.2,555.3 1007.5,551.2C1010.8,547.2 1016.7,540.3 1020,538.1C1023.3,535.9 1026.2,538.1 1027.5,538.1" fill="none" stroke="#000" stroke-width="1.1"/>
<path d="M1032.5,538.1C1034.2,538.1 1039.2,537.5 1042.5,538.1C1045.8,538.7 1047.9,539.5 1052.5,541.9C1057.1,544.3 1065.4,550.4 1070,552.5C1074.6,554.6 1076.7,554.3 1080,554.4C1083.3,554.5 1087.3,553.7 1090,553.1C1092.7,552.5 1094.4,550.7 1096.2,550.6C1098.1,550.5 1099.4,550.5 1101.2,552.5C1103.1,554.5 1105.6,558.8 1107.5,562.5C1109.4,566.2 1110.8,572.1 1112.5,575C1114.2,577.9 1116,578.8 1117.5,580C1119,581.2 1119.8,581.4 1121.2,582.5C1122.7,583.6 1124.8,586.3 1126.2,586.9C1127.7,587.5 1127.9,587.1 1130,586.2C1132.1,585.4 1136,582.6 1138.8,581.9C1141.5,581.2 1142.9,583.3 1146.2,582.2C1149.6,581.2 1155,576.9 1158.8,575.6C1162.5,574.3 1167.1,574.6 1168.8,574.4" fill="none" stroke="#000" stroke-width="1.1"/>
<path d="M1274,720.7C1276.6,722.9 1285.4,732.9 1289.4,734C1293.4,735.1 1296,728.5 1298.2,727.4C1300.4,726.3 1299.4,725.7 1302.6,727.4C1305.8,729.1 1312.2,737 1317.4,737.6C1322.6,738.2 1328.4,732.1 1333.5,731C1338.6,729.9 1342.8,732.7 1348.2,731C1353.6,729.3 1360.6,724.9 1365.9,720.7C1371.2,716.5 1374.1,711.7 1380,705.9C1385.9,700.1 1396.5,691.3 1401.2,686.1C1405.9,680.9 1404.9,680.7 1408.2,674.8C1411.5,668.9 1415.7,659 1420.9,650.8C1426.1,642.6 1433.2,633.2 1439.3,625.4C1445.4,617.6 1452.3,610.1 1457.7,604.2C1463.1,598.3 1465.9,595.3 1471.8,590.1C1477.7,584.9 1487,578.1 1492.9,573.2C1498.8,568.3 1502.4,565.2 1507.1,560.5C1511.8,555.8 1514.2,551.7 1521.2,544.9C1528.2,538.1 1542.4,525.4 1549.4,519.5C1556.5,513.6 1557.8,512.6 1563.5,509.6C1569.2,506.6 1576.2,506.1 1583.3,501.2C1590.4,496.3 1598.8,488.9 1605.9,480C1613,471.1 1620,458.3 1626,448C1632,437.7 1637.7,426.3 1642,418C1646.3,409.7 1647.3,407.7 1652,398C1656.7,388.3 1665.3,369 1670,360C1674.7,351 1675,350.3 1680,344C1685,337.7 1692,327.7 1700,322C1708,316.3 1721.3,310.6 1728,309.6C1734.7,308.6 1735.3,310.9 1740,316C1744.7,321.1 1751,334.5 1756,340C1761,345.5 1765,346.5 1770,349C1775,351.5 1779.5,353 1786,355C1792.5,357 1805.2,360 1809,361" fill="none" stroke="#000" stroke-width="1.1"/>
<rect x="-5.25" y="-6.5" width="10.5" height="13" fill="#0000f0" transform="translate(740.5,281.6) rotate(-33.6)"/>
<rect x="-5.25" y="-6.5" width="10.5" height="13" fill="#0000f0" transform="translate(754.9,272.6) rotate(-30.1)"/>
<rect x="-5.25" y="-6.5" width="10.5" height="13" fill="#0000f0" transform="translate(768.7,265.2) rotate(-26.4)"/>
<rect x="-5.25" y="-6.5" width="10.5" height="13" fill="#0000f0" transform="translate(782,259.2) rotate(-22.6)"/>
<rect x="-5.25" y="-6.5" width="10.5" height="13" fill="#0000f0" transform="translate(795.4,254.1) rotate(-18.4)"/>
<rect x="-5.25" y="-6.5" width="10.5" height="13" fill="#0000f0" transform="translate(807.8,250.5) rotate(-14.4)"/>
<rect x="-5.25" y="-6.5" width="10.5" height="13" fill="#0000f0" transform="translate(821.6,247.6) rotate(-9.6)"/>
<rect x="-5.25" y="-6.5" width="10.5" height="13" fill="#0000f0" transform="translate(835.6,245.8) rotate(-4.6)"/>
<rect x="-5.25" y="-6.5" width="10.5" height="13" fill="#0000f0" transform="translate(849.6,245.3) rotate(0.5)"/>
<rect x="-5.25" y="-6.5" width="10.5" height="13" fill="#0000f0" transform="translate(863.4,246) rotate(5.6)"/>
<rect x="-5.25" y="-6.5" width="10.5" height="13" fill="#0000f0" transform="translate(877.4,248.1) rotate(10.8)"/>
<rect x="-5.25" y="-6.5" width="10.5" height="13" fill="#0000f0" transform="translate(890.5,251.1) rotate(15.4)"/>
<rect x="-5.25" y="-6.5" width="10.5" height="13" fill="#0000f0" transform="translate(904.7,255.7) rotate(20.1)"/>
<rect x="-5.25" y="-6.5" width="10.5" height="13" fill="#0000f0" transform="translate(917,260.7) rotate(23.9)"/>
<rect x="-5.25" y="-6.5" width="10.5" height="13" fill="#0000f0" transform="translate(930.3,267.1) rotate(27.6)"/>
<rect x="-5.25" y="-6.5" width="10.5" height="13" fill="#0000f0" transform="translate(944.4,275.1) rotate(31.2)"/>
<rect x="-5.25" y="-6.5" width="10.5" height="13" fill="#0000f0" transform="translate(957.6,283.6) rotate(34.3)"/>
<rect x="-5.25" y="-6.5" width="10.5" height="13" fill="#0000f0" transform="translate(971.8,293.8) rotate(37.3)"/>
<rect x="-5.25" y="-6.5" width="10.5" height="13" fill="#0000f0" transform="translate(985,304.4) rotate(39.8)"/>
<rect x="-5.25" y="-6.5" width="10.5" height="13" fill="#0000f0" transform="translate(999.1,316.6) rotate(42.2)"/>
<rect x="-5.25" y="-6.5" width="10.5" height="13" fill="#0000f0" transform="translate(1012.4,329.2) rotate(44.3)"/>
<rect x="-5.25" y="-6.5" width="10.5" height="13" fill="#0000f0" transform="translate(1024.7,341.5) rotate(46)"/>
<rect x="-5.25" y="-6.5" width="10.5" height="13" fill="#0000f0" transform="translate(1037.1,354.7) rotate(47.6)"/>
<rect x="-5.25" y="-6.5" width="10.5" height="13" fill="#0000f0" transform="translate(1049.4,368.6) rotate(49.1)"/>
<rect x="-5.25" y="-6.5" width="10.5" height="13" fill="#0000f0" transform="translate(1060,381.1) rotate(50.2)"/>
<rect x="-5.25" y="-6.5" width="10.5" height="13" fill="#0000f0" transform="translate(1071.5,395.2) rotate(51.4)"/>
<rect x="-5.25" y="-6.5" width="10.5" height="13" fill="#0000f0" transform="translate(1082,408.6) rotate(52.4)"/>
<rect x="-5.25" y="-6.5" width="10.5" height="13" fill="#0000f0" transform="translate(1091.8,421.5) rotate(53.2)"/>
<rect x="-5.25" y="-6.5" width="10.5" height="13" fill="#0000f0" transform="translate(1101.5,434.6) rotate(54)"/>
<rect x="-5.25" y="-6.5" width="10.5" height="13" fill="#0000f0" transform="translate(1110.3,446.9) rotate(54.7)"/>
<rect x="-5.25" y="-6.5" width="10.5" height="13" fill="#0000f0" transform="translate(1120,460.8) rotate(55.4)"/>
<rect x="-5.25" y="-6.5" width="10.5" height="13" fill="#0000f0" transform="translate(1130.6,476.4) rotate(56.1)"/>
<rect x="-5.25" y="-6.5" width="10.5" height="13" fill="#0000f0" transform="translate(1139.4,489.6) rotate(56.7)"/>
<rect x="-5.25" y="-6.5" width="10.5" height="13" fill="#0000f0" transform="translate(1149.1,504.5) rotate(57.2)"/>
<rect x="-5.25" y="-6.5" width="10.5" height="13" fill="#0000f0" transform="translate(1157.9,518.3) rotate(57.7)"/>
<rect x="-5.25" y="-6.5" width="10.5" height="13" fill="#0000f0" transform="translate(1165,529.6) rotate(58.1)"/>
<rect x="-5.25" y="-6.5" width="10.5" height="13" fill="#0000f0" transform="translate(1279.9,544.2) rotate(56.6)"/>
<rect x="-5.25" y="-6.5" width="10.5" height="13" fill="#0000f0" transform="translate(1289.1,558.2) rotate(56.5)"/>
<rect x="-5.25" y="-6.5" width="10.5" height="13" fill="#0000f0" transform="translate(1298.5,572.4) rotate(56.5)"/>
<rect x="-5.25" y="-6.5" width="10.5" height="13" fill="#0000f0" transform="translate(1307.8,586.4) rotate(56.3)"/>
<rect x="-5.25" y="-6.5" width="10.5" height="13" fill="#0000f0" transform="translate(1317.1,600.3) rotate(56.2)"/>
<rect x="-5.25" y="-6.5" width="10.5" height="13" fill="#0000f0" transform="translate(1326.2,613.8) rotate(56)"/>
<rect x="-5.25" y="-6.5" width="10.5" height="13" fill="#0000f0" transform="translate(1335.7,627.8) rotate(55.7)"/>
<rect x="-5.25" y="-6.5" width="10.5" height="13" fill="#0000f0" transform="translate(1345.3,641.8) rotate(55.4)"/>
<line x1="260" y1="975.5" x2="1809" y2="975.5" stroke="#000" stroke-width="1" stroke-dasharray="1 4"/>
<line x1="260" y1="980.5" x2="1809" y2="980.5" stroke="#000" stroke-width="1" stroke-dasharray="1 4"/>
<line x1="260" y1="984.5" x2="1809" y2="984.5" stroke="#000" stroke-width="1" stroke-dasharray="1 4"/>
<line x1="260" y1="987.5" x2="1809" y2="987.5" stroke="#000" stroke-width="1" stroke-dasharray="1 4"/>
<line x1="260" y1="990.5" x2="1809" y2="990.5" stroke="#000" stroke-width="1" stroke-dasharray="1 4"/>
<line x1="260" y1="993.5" x2="1809" y2="993.5" stroke="#000" stroke-width="1" stroke-dasharray="1 4"/>
<line x1="260" y1="995.5" x2="1809" y2="995.5" stroke="#000" stroke-width="1" stroke-dasharray="1 4"/>
<line x1="260" y1="1010.5" x2="1809" y2="1010.5" stroke="#000" stroke-width="1" stroke-dasharray="1 4"/>
<line x1="260" y1="1019.5" x2="1809" y2="1019.5" stroke="#000" stroke-width="1" stroke-dasharray="1 4"/>
<line x1="260" y1="1026.5" x2="1809" y2="1026.5" stroke="#000" stroke-width="1" stroke-dasharray="1 4"/>
<line x1="260" y1="1031.5" x2="1809" y2="1031.5" stroke="#000" stroke-width="1" stroke-dasharray="1 4"/>
<line x1="260" y1="1035.5" x2="1809" y2="1035.5" stroke="#000" stroke-width="1" stroke-dasharray="1 4"/>
<line x1="260" y1="1038.5" x2="1809" y2="1038.5" stroke="#000" stroke-width="1" stroke-dasharray="1 4"/>
<line x1="260" y1="1041.5" x2="1809" y2="1041.5" stroke="#000" stroke-width="1" stroke-dasharray="1 4"/>
<line x1="260" y1="1044.5" x2="1809" y2="1044.5" stroke="#000" stroke-width="1" stroke-dasharray="1 4"/>
<line x1="260" y1="1046.5" x2="1809" y2="1046.5" stroke="#000" stroke-width="1" stroke-dasharray="1 4"/>
<line x1="260" y1="1061.5" x2="1809" y2="1061.5" stroke="#000" stroke-width="1" stroke-dasharray="1 4"/>
<line x1="260" y1="1070.5" x2="1809" y2="1070.5" stroke="#000" stroke-width="1" stroke-dasharray="1 4"/>
<line x1="260" y1="1077.5" x2="1809" y2="1077.5" stroke="#000" stroke-width="1" stroke-dasharray="1 4"/>
<line x1="260" y1="1082.5" x2="1809" y2="1082.5" stroke="#000" stroke-width="1" stroke-dasharray="1 4"/>
<line x1="260" y1="1086.5" x2="1809" y2="1086.5" stroke="#000" stroke-width="1" stroke-dasharray="1 4"/>
<line x1="260" y1="1089.5" x2="1809" y2="1089.5" stroke="#000" stroke-width="1" stroke-dasharray="1 4"/>
<line x1="260" y1="1092.5" x2="1809" y2="1092.5" stroke="#000" stroke-width="1" stroke-dasharray="1 4"/>
<line x1="260" y1="1095.5" x2="1809" y2="1095.5" stroke="#000" stroke-width="1" stroke-dasharray="1 4"/>
<line x1="260" y1="1097.5" x2="1809" y2="1097.5" stroke="#000" stroke-width="1" stroke-dasharray="1 4"/>
<line x1="260" y1="1112.5" x2="1809" y2="1112.5" stroke="#000" stroke-width="1" stroke-dasharray="1 4"/>
<line x1="440.5" y1="973" x2="440.5" y2="1122" stroke="#000" stroke-width="1" stroke-dasharray="1 4"/>
<line x1="621.5" y1="973" x2="621.5" y2="1122" stroke="#000" stroke-width="1" stroke-dasharray="1 4"/>
<line x1="801.5" y1="973" x2="801.5" y2="1122" stroke="#000" stroke-width="1" stroke-dasharray="1 4"/>
<line x1="981.5" y1="973" x2="981.5" y2="1122" stroke="#000" stroke-width="1" stroke-dasharray="1 4"/>
<line x1="1162.5" y1="973" x2="1162.5" y2="1122" stroke="#000" stroke-width="1" stroke-dasharray="1 4"/>
<line x1="1446.5" y1="973" x2="1446.5" y2="1122" stroke="#000" stroke-width="1" stroke-dasharray="1 4"/>
<line x1="1628.5" y1="973" x2="1628.5" y2="1122" stroke="#000" stroke-width="1" stroke-dasharray="1 4"/>
<line x1="259" y1="975.5" x2="267" y2="975.5" stroke="#000" stroke-width="1"/>
<line x1="1802" y1="975.5" x2="1810" y2="975.5" stroke="#000" stroke-width="1"/>
<line x1="259" y1="980.5" x2="267" y2="980.5" stroke="#000" stroke-width="1"/>
<line x1="1802" y1="980.5" x2="1810" y2="980.5" stroke="#000" stroke-width="1"/>
<line x1="259" y1="984.5" x2="267" y2="984.5" stroke="#000" stroke-width="1"/>
<line x1="1802" y1="984.5" x2="1810" y2="984.5" stroke="#000" stroke-width="1"/>
<line x1="259" y1="987.5" x2="267" y2="987.5" stroke="#000" stroke-width="1"/>
<line x1="1802" y1="987.5" x2="1810" y2="987.5" stroke="#000" stroke-width="1"/>
<line x1="259" y1="990.5" x2="267" y2="990.5" stroke="#000" stroke-width="1"/>
<line x1="1802" y1="990.5" x2="1810" y2="990.5" stroke="#000" stroke-width="1"/>
<line x1="259" y1="993.5" x2="267" y2="993.5" stroke="#000" stroke-width="1"/>
<line x1="1802" y1="993.5" x2="1810" y2="993.5" stroke="#000" stroke-width="1"/>
<line x1="259" y1="995.5" x2="275" y2="995.5" stroke="#000" stroke-width="1"/>
<line x1="1794" y1="995.5" x2="1810" y2="995.5" stroke="#000" stroke-width="1"/>
<line x1="259" y1="1010.5" x2="267" y2="1010.5" stroke="#000" stroke-width="1"/>
<line x1="1802" y1="1010.5" x2="1810" y2="1010.5" stroke="#000" stroke-width="1"/>
<line x1="259" y1="1019.5" x2="267" y2="1019.5" stroke="#000" stroke-width="1"/>
<line x1="1802" y1="1019.5" x2="1810" y2="1019.5" stroke="#000" stroke-width="1"/>
<line x1="259" y1="1026.5" x2="267" y2="1026.5" stroke="#000" stroke-width="1"/>
<line x1="1802" y1="1026.5" x2="1810" y2="1026.5" stroke="#000" stroke-width="1"/>
<line x1="259" y1="1031.5" x2="267" y2="1031.5" stroke="#000" stroke-width="1"/>
<line x1="1802" y1="1031.5" x2="1810" y2="1031.5" stroke="#000" stroke-width="1"/>
<line x1="259" y1="1035.5" x2="267" y2="1035.5" stroke="#000" stroke-width="1"/>
<line x1="1802" y1="1035.5" x2="1810" y2="1035.5" stroke="#000" stroke-width="1"/>
<line x1="259" y1="1038.5" x2="267" y2="1038.5" stroke="#000" stroke-width="1"/>
<line x1="1802" y1="1038.5" x2="1810" y2="1038.5" stroke="#000" stroke-width="1"/>
<line x1="259" y1="1041.5" x2="267" y2="1041.5" stroke="#000" stroke-width="1"/>
<line x1="1802" y1="1041.5" x2="1810" y2="1041.5" stroke="#000" stroke-width="1"/>
<line x1="259" y1="1044.5" x2="267" y2="1044.5" stroke="#000" stroke-width="1"/>
<line x1="1802" y1="1044.5" x2="1810" y2="1044.5" stroke="#000" stroke-width="1"/>
<line x1="259" y1="1046.5" x2="275" y2="1046.5" stroke="#000" stroke-width="1"/>
<line x1="1794" y1="1046.5" x2="1810" y2="1046.5" stroke="#000" stroke-width="1"/>
<line x1="259" y1="1061.5" x2="267" y2="1061.5" stroke="#000" stroke-width="1"/>
<line x1="1802" y1="1061.5" x2="1810" y2="1061.5" stroke="#000" stroke-width="1"/>
<line x1="259" y1="1070.5" x2="267" y2="1070.5" stroke="#000" stroke-width="1"/>
<line x1="1802" y1="1070.5" x2="1810" y2="1070.5" stroke="#000" stroke-width="1"/>
<line x1="259" y1="1077.5" x2="267" y2="1077.5" stroke="#000" stroke-width="1"/>
<line x1="1802" y1="1077.5" x2="1810" y2="1077.5" stroke="#000" stroke-width="1"/>
<line x1="259" y1="1082.5" x2="267" y2="1082.5" stroke="#000" stroke-width="1"/>
<line x1="1802" y1="1082.5" x2="1810" y2="1082.5" stroke="#000" stroke-width="1"/>
<line x1="259" y1="1086.5" x2="267" y2="1086.5" stroke="#000" stroke-width="1"/>
<line x1="1802" y1="1086.5" x2="1810" y2="1086.5" stroke="#000" stroke-width="1"/>
<line x1="259" y1="1089.5" x2="267" y2="1089.5" stroke="#000" stroke-width="1"/>
<line x1="1802" y1="1089.5" x2="1810" y2="1089.5" stroke="#000" stroke-width="1"/>
<line x1="259" y1="1092.5" x2="267" y2="1092.5" stroke="#000" stroke-width="1"/>
<line x1="1802" y1="1092.5" x2="1810" y2="1092.5" stroke="#000" stroke-width="1"/>
<line x1="259" y1="1095.5" x2="267" y2="1095.5" stroke="#000" stroke-width="1"/>
<line x1="1802" y1="1095.5" x2="1810" y2="1095.5" stroke="#000" stroke-width="1"/>
<line x1="259" y1="1097.5" x2="275" y2="1097.5" stroke="#000" stroke-width="1"/>
<line x1="1794" y1="1097.5" x2="1810" y2="1097.5" stroke="#000" stroke-width="1"/>
<line x1="259" y1="1112.5" x2="267" y2="1112.5" stroke="#000" stroke-width="1"/>
<line x1="1802" y1="1112.5" x2="1810" y2="1112.5" stroke="#000" stroke-width="1"/>
<line x1="440.5" y1="969" x2="440.5" y2="985" stroke="#000" stroke-width="1"/>
<line x1="440.5" y1="1106" x2="440.5" y2="1122" stroke="#000" stroke-width="1"/>
<line x1="621.5" y1="969" x2="621.5" y2="985" stroke="#000" stroke-width="1"/>
<line x1="621.5" y1="1106" x2="621.5" y2="1122" stroke="#000" stroke-width="1"/>
<line x1="801.5" y1="969" x2="801.5" y2="985" stroke="#000" stroke-width="1"/>
<line x1="801.5" y1="1106" x2="801.5" y2="1122" stroke="#000" stroke-width="1"/>
<line x1="981.5" y1="969" x2="981.5" y2="985" stroke="#000" stroke-width="1"/>
<line x1="981.5" y1="1106" x2="981.5" y2="1122" stroke="#000" stroke-width="1"/>
<line x1="1162.5" y1="969" x2="1162.5" y2="985" stroke="#000" stroke-width="1"/>
<line x1="1162.5" y1="1106" x2="1162.5" y2="1122" stroke="#000" stroke-width="1"/>
<line x1="1446.5" y1="969" x2="1446.5" y2="985" stroke="#000" stroke-width="1"/>
<line x1="1446.5" y1="1106" x2="1446.5" y2="1122" stroke="#000" stroke-width="1"/>
<line x1="1628.5" y1="969" x2="1628.5" y2="985" stroke="#000" stroke-width="1"/>
<line x1="1628.5" y1="1106" x2="1628.5" y2="1122" stroke="#000" stroke-width="1"/>
<defs><linearGradient id="sg1" x1="0" y1="0" x2="0" y2="1"><stop offset="0" stop-color="#0000b4"/><stop offset="0.6" stop-color="#0030ff"/><stop offset="1" stop-color="#00a0ff"/></linearGradient><linearGradient id="sg2" x1="0" y1="0" x2="0" y2="1"><stop offset="0" stop-color="#0000b4"/><stop offset="0.4" stop-color="#0040ff"/><stop offset="0.8" stop-color="#00c0ff"/><stop offset="1" stop-color="#20ffe0"/></linearGradient><linearGradient id="sg3" x1="0" y1="0" x2="0" y2="1"><stop offset="0" stop-color="#0000b4"/><stop offset="0.25" stop-color="#0060ff"/><stop offset="0.55" stop-color="#20f0f0"/><stop offset="0.8" stop-color="#b0ff50"/><stop offset="1" stop-color="#ffd000"/></linearGradient><linearGradient id="sgA" x1="0" y1="0" x2="0" y2="1"><stop offset="0" stop-color="#40ffd0"/><stop offset="1" stop-color="#f0ff30"/></linearGradient></defs>
<rect x="586" y="969.5" width="580.5" height="152.0" fill="#0000b4"/>
<rect x="1275.5" y="969.5" width="74.5" height="152.0" fill="#0000b4"/>
<rect x="946.3" y="1038.6" width="2" height="2" fill="#0008c8"/>
<rect x="1072.1" y="1041.7" width="2" height="2" fill="#0010d0"/>
<rect x="961.4" y="1053.0" width="2" height="2" fill="#0008c8"/>
<rect x="801.1" y="1050.1" width="2" height="2" fill="#0028e8"/>
<rect x="900.6" y="1023.4" width="2" height="2" fill="#0008c8"/>
<rect x="1009.0" y="1008.4" width="2" height="2" fill="#0010d0"/>
<rect x="1116.1" y="1040.8" width="2" height="2" fill="#0010d0"/>
<rect x="1026.8" y="978.0" width="2" height="2" fill="#0028e8"/>
<rect x="659.3" y="971.7" width="2" height="2" fill="#0008c8"/>
<rect x="707.2" y="991.0" width="2" height="2" fill="#0010d0"/>
<rect x="1090.7" y="997.7" width="2" height="2" fill="#0010d0"/>
<rect x="897.9" y="1032.8" width="2" height="2" fill="#0010d0"/>
<rect x="691.1" y="1059.2" width="2" height="2" fill="#0010d0"/>
<rect x="1145.2" y="1052.4" width="2" height="2" fill="#0018d8"/>
<rect x="598.5" y="1009.0" width="2" height="2" fill="#0010d0"/>
<rect x="738.6" y="1001.5" width="2" height="2" fill="#0008c8"/>
<rect x="930.8" y="1035.5" width="2" height="2" fill="#0008c8"/>
<rect x="765.3" y="1045.6" width="2" height="2" fill="#0028e8"/>
<rect x="988.9" y="988.2" width="2" height="2" fill="#0028e8"/>
<rect x="993.7" y="976.7" width="2" height="2" fill="#0008c8"/>
<rect x="1135.1" y="1003.9" width="2" height="2" fill="#0028e8"/>
<rect x="596.5" y="1042.8" width="2" height="2" fill="#0018d8"/>
<rect x="803.7" y="1047.6" width="2" height="2" fill="#0028e8"/>
<rect x="613.0" y="987.9" width="2" height="2" fill="#0010d0"/>
<rect x="654.9" y="993.8" width="2" height="2" fill="#0028e8"/>
<rect x="785.2" y="1003.6" width="2" height="2" fill="#0018d8"/>
<rect x="1034.7" y="981.3" width="2" height="2" fill="#0018d8"/>
<rect x="1083.3" y="974.8" width="2" height="2" fill="#0008c8"/>
<rect x="706.6" y="1017.9" width="2" height="2" fill="#0018d8"/>
<rect x="1117.1" y="1002.3" width="2" height="2" fill="#0008c8"/>
<rect x="766.8" y="1000.2" width="2" height="2" fill="#0010d0"/>
<rect x="1048.1" y="1028.2" width="2" height="2" fill="#0018d8"/>
<rect x="1162.6" y="986.1" width="2" height="2" fill="#0008c8"/>
<rect x="632.8" y="1025.9" width="2" height="2" fill="#0028e8"/>
<rect x="604.4" y="1038.5" width="2" height="2" fill="#0018d8"/>
<rect x="1064.0" y="1012.7" width="2" height="2" fill="#0028e8"/>
<rect x="670.2" y="1060.1" width="2" height="2" fill="#0008c8"/>
<rect x="1049.8" y="1001.7" width="2" height="2" fill="#0010d0"/>
<rect x="661.5" y="1037.7" width="2" height="2" fill="#0010d0"/>
<rect x="950.7" y="1042.8" width="2" height="2" fill="#0008c8"/>
<rect x="683.7" y="1005.3" width="2" height="2" fill="#0008c8"/>
<rect x="1074.7" y="998.2" width="2" height="2" fill="#0028e8"/>
<rect x="1119.4" y="1027.6" width="2" height="2" fill="#0010d0"/>
<rect x="1150.6" y="1012.5" width="2" height="2" fill="#0028e8"/>
<rect x="984.5" y="1000.3" width="2" height="2" fill="#0018d8"/>
<rect x="754.4" y="1008.0" width="2" height="2" fill="#0010d0"/>
<rect x="651.1" y="1045.9" width="2" height="2" fill="#0010d0"/>
<rect x="948.7" y="1016.7" width="2" height="2" fill="#0018d8"/>
<rect x="690.2" y="1016.0" width="2" height="2" fill="#0018d8"/>
<rect x="622.5" y="1043.5" width="2" height="2" fill="#0018d8"/>
<rect x="987.8" y="1031.6" width="2" height="2" fill="#0018d8"/>
<rect x="796.2" y="1035.3" width="2" height="2" fill="#0018d8"/>
<rect x="1069.2" y="995.5" width="2" height="2" fill="#0018d8"/>
<rect x="1139.6" y="1002.3" width="2" height="2" fill="#0010d0"/>
<rect x="921.9" y="972.5" width="2" height="2" fill="#0018d8"/>
<rect x="774.5" y="996.3" width="2" height="2" fill="#0018d8"/>
<rect x="1058.4" y="1030.1" width="2" height="2" fill="#0018d8"/>
<rect x="787.3" y="1029.8" width="2" height="2" fill="#0028e8"/>
<rect x="788.5" y="1047.8" width="2" height="2" fill="#0028e8"/>
<rect x="1150.7" y="1058.1" width="2" height="2" fill="#0010d0"/>
<rect x="892.2" y="986.5" width="2" height="2" fill="#0018d8"/>
<rect x="1128.3" y="1014.7" width="2" height="2" fill="#0008c8"/>
<rect x="1002.3" y="1037.6" width="2" height="2" fill="#0010d0"/>
<rect x="942.8" y="1056.2" width="2" height="2" fill="#0028e8"/>
<rect x="761.1" y="1021.6" width="2" height="2" fill="#0018d8"/>
<rect x="1002.8" y="974.0" width="2" height="2" fill="#0010d0"/>
<rect x="925.3" y="1028.0" width="2" height="2" fill="#0010d0"/>
<rect x="712.7" y="1033.6" width="2" height="2" fill="#0008c8"/>
<rect x="1156.7" y="1060.2" width="2" height="2" fill="#0010d0"/>
<rect x="617.3" y="983.6" width="2" height="2" fill="#0018d8"/>
<rect x="1146.0" y="1015.2" width="2" height="2" fill="#0008c8"/>
<rect x="826.4" y="1003.3" width="2" height="2" fill="#0008c8"/>
<rect x="927.4" y="993.0" width="2" height="2" fill="#0018d8"/>
<rect x="586.4" y="1008.2" width="2" height="2" fill="#0018d8"/>
<rect x="1081.1" y="1049.9" width="2" height="2" fill="#0018d8"/>
<rect x="1143.9" y="1021.3" width="2" height="2" fill="#0018d8"/>
<rect x="640.9" y="1020.8" width="2" height="2" fill="#0018d8"/>
<rect x="1136.2" y="998.0" width="2" height="2" fill="#0018d8"/>
<rect x="1059.5" y="1009.4" width="2" height="2" fill="#0018d8"/>
<rect x="856.4" y="985.7" width="2" height="2" fill="#0028e8"/>
<rect x="912.2" y="1058.1" width="2" height="2" fill="#0010d0"/>
<rect x="938.1" y="1003.3" width="2" height="2" fill="#0008c8"/>
<rect x="806.9" y="1001.0" width="2" height="2" fill="#0010d0"/>
<rect x="774.3" y="1050.8" width="2" height="2" fill="#0028e8"/>
<rect x="834.3" y="1059.9" width="2" height="2" fill="#0028e8"/>
<rect x="754.6" y="1059.5" width="2" height="2" fill="#0028e8"/>
<rect x="808.1" y="1048.9" width="2" height="2" fill="#0010d0"/>
<rect x="930.7" y="995.0" width="2" height="2" fill="#0018d8"/>
<rect x="873.1" y="1009.1" width="2" height="2" fill="#0018d8"/>
<rect x="1132.8" y="999.3" width="2" height="2" fill="#0018d8"/>
<rect x="668.9" y="973.7" width="2" height="2" fill="#0028e8"/>
<rect x="728.0" y="975.1" width="2" height="2" fill="#0010d0"/>
<rect x="1064.3" y="972.7" width="2" height="2" fill="#0018d8"/>
<rect x="726.8" y="1014.4" width="2" height="2" fill="#0008c8"/>
<rect x="728.1" y="995.7" width="2" height="2" fill="#0010d0"/>
<rect x="1003.4" y="997.4" width="2" height="2" fill="#0028e8"/>
<rect x="937.7" y="1014.5" width="2" height="2" fill="#0008c8"/>
<rect x="595.4" y="982.9" width="2" height="2" fill="#0018d8"/>
<rect x="894.6" y="1001.9" width="2" height="2" fill="#0018d8"/>
<rect x="1009.0" y="973.9" width="2" height="2" fill="#0018d8"/>
<rect x="794.9" y="1038.9" width="2" height="2" fill="#0010d0"/>
<rect x="607.1" y="994.3" width="2" height="2" fill="#0028e8"/>
<rect x="982.7" y="981.2" width="2" height="2" fill="#0010d0"/>
<rect x="594.4" y="1041.9" width="2" height="2" fill="#0028e8"/>
<rect x="930.1" y="1033.9" width="2" height="2" fill="#0028e8"/>
<rect x="1082.8" y="1047.6" width="2" height="2" fill="#0028e8"/>
<rect x="812.7" y="1048.6" width="2" height="2" fill="#0010d0"/>
<rect x="1106.0" y="1013.6" width="2" height="2" fill="#0008c8"/>
<rect x="761.7" y="971.8" width="2" height="2" fill="#0028e8"/>
<rect x="922.8" y="1030.2" width="2" height="2" fill="#0028e8"/>
<rect x="1112.8" y="984.4" width="2" height="2" fill="#0028e8"/>
<rect x="988.2" y="1051.9" width="2" height="2" fill="#0018d8"/>
<rect x="897.2" y="1010.0" width="2" height="2" fill="#0008c8"/>
<rect x="625.6" y="992.3" width="2" height="2" fill="#0008c8"/>
<rect x="1044.0" y="1031.6" width="2" height="2" fill="#0008c8"/>
<rect x="778.7" y="1010.4" width="2" height="2" fill="#0008c8"/>
<rect x="1163.5" y="1035.0" width="2" height="2" fill="#0008c8"/>
<rect x="657.4" y="982.6" width="2" height="2" fill="#0008c8"/>
<rect x="998.1" y="983.7" width="2" height="2" fill="#0018d8"/>
<rect x="994.3" y="1011.1" width="2" height="2" fill="#0010d0"/>
<rect x="939.2" y="1009.0" width="2" height="2" fill="#0010d0"/>
<rect x="624.9" y="990.8" width="2" height="2" fill="#0008c8"/>
<rect x="967.9" y="1039.0" width="2" height="2" fill="#0018d8"/>
<rect x="619.3" y="1023.6" width="2" height="2" fill="#0028e8"/>
<rect x="1094.2" y="983.7" width="2" height="2" fill="#0028e8"/>
<rect x="638.9" y="1033.5" width="2" height="2" fill="#0028e8"/>
<rect x="869.2" y="1056.4" width="2" height="2" fill="#0018d8"/>
<rect x="1115.2" y="984.0" width="2" height="2" fill="#0018d8"/>
<rect x="673.4" y="1028.6" width="2" height="2" fill="#0018d8"/>
<rect x="1112.7" y="1021.7" width="2" height="2" fill="#0010d0"/>
<rect x="738.3" y="1021.4" width="2" height="2" fill="#0018d8"/>
<rect x="1067.7" y="997.2" width="2" height="2" fill="#0010d0"/>
<rect x="1053.4" y="1049.6" width="2" height="2" fill="#0028e8"/>
<rect x="1012.2" y="987.7" width="2" height="2" fill="#0008c8"/>
<rect x="964.9" y="979.2" width="2" height="2" fill="#0008c8"/>
<rect x="638.7" y="982.8" width="2" height="2" fill="#0028e8"/>
<rect x="724.0" y="1050.9" width="2" height="2" fill="#0028e8"/>
<rect x="1143.3" y="981.2" width="2" height="2" fill="#0008c8"/>
<rect x="899.6" y="1006.3" width="2" height="2" fill="#0010d0"/>
<rect x="1132.5" y="1010.4" width="2" height="2" fill="#0010d0"/>
<rect x="1019.6" y="979.1" width="2" height="2" fill="#0028e8"/>
<rect x="1060.7" y="984.1" width="2" height="2" fill="#0028e8"/>
<rect x="791.0" y="992.8" width="2" height="2" fill="#0018d8"/>
<rect x="1124.3" y="1035.3" width="2" height="2" fill="#0028e8"/>
<rect x="804.8" y="1036.9" width="2" height="2" fill="#0018d8"/>
<rect x="960.8" y="1044.3" width="2" height="2" fill="#0028e8"/>
<rect x="1142.1" y="1004.3" width="2" height="2" fill="#0008c8"/>
<rect x="928.8" y="1023.4" width="2" height="2" fill="#0010d0"/>
<rect x="814.8" y="980.3" width="2" height="2" fill="#0008c8"/>
<rect x="693.8" y="989.2" width="2" height="2" fill="#0028e8"/>
<rect x="1100.4" y="1015.0" width="2" height="2" fill="#0018d8"/>
<rect x="586.3" y="1014.1" width="2" height="2" fill="#0028e8"/>
<rect x="773.0" y="1013.3" width="2" height="2" fill="#0010d0"/>
<rect x="675.5" y="985.9" width="2" height="2" fill="#0018d8"/>
<rect x="1088.8" y="1050.1" width="2" height="2" fill="#0028e8"/>
<rect x="674.0" y="994.5" width="2" height="2" fill="#0018d8"/>
<rect x="1059.5" y="1039.4" width="2" height="2" fill="#0010d0"/>
<rect x="605.2" y="1052.6" width="2" height="2" fill="#0018d8"/>
<rect x="1120.8" y="1004.9" width="2" height="2" fill="#0008c8"/>
<rect x="983.8" y="1032.5" width="2" height="2" fill="#0028e8"/>
<rect x="1077.0" y="985.6" width="2" height="2" fill="#0018d8"/>
<rect x="754.4" y="1032.5" width="2" height="2" fill="#0010d0"/>
<rect x="605.4" y="1036.2" width="2" height="2" fill="#0010d0"/>
<rect x="965.8" y="1027.4" width="2" height="2" fill="#0018d8"/>
<rect x="979.7" y="988.2" width="2" height="2" fill="#0018d8"/>
<rect x="749.8" y="1037.8" width="2" height="2" fill="#0028e8"/>
<rect x="680.5" y="993.3" width="2" height="2" fill="#0010d0"/>
<rect x="1130.1" y="1030.0" width="2" height="2" fill="#0028e8"/>
<rect x="1006.2" y="996.0" width="2" height="2" fill="#0028e8"/>
<rect x="621.2" y="1042.0" width="2" height="2" fill="#0028e8"/>
<rect x="684.2" y="974.5" width="2" height="2" fill="#0018d8"/>
<rect x="1129.5" y="1036.3" width="2" height="2" fill="#0010d0"/>
<rect x="1106.0" y="1015.9" width="2" height="2" fill="#0028e8"/>
<rect x="617.1" y="993.5" width="2" height="2" fill="#0008c8"/>
<rect x="873.8" y="1042.2" width="2" height="2" fill="#0008c8"/>
<rect x="733.8" y="1008.4" width="2" height="2" fill="#0018d8"/>
<rect x="956.5" y="1050.7" width="2" height="2" fill="#0010d0"/>
<rect x="689.8" y="1017.5" width="2" height="2" fill="#0028e8"/>
<rect x="694.8" y="992.7" width="2" height="2" fill="#0018d8"/>
<rect x="1043.5" y="979.4" width="2" height="2" fill="#0010d0"/>
<rect x="932.1" y="1049.0" width="2" height="2" fill="#0010d0"/>
<rect x="947.5" y="1011.4" width="2" height="2" fill="#0018d8"/>
<rect x="867.5" y="1023.2" width="2" height="2" fill="#0028e8"/>
<rect x="888.2" y="983.5" width="2" height="2" fill="#0008c8"/>
<rect x="1114.2" y="999.3" width="2" height="2" fill="#0028e8"/>
<rect x="1101.7" y="1062.0" width="2" height="2" fill="#0008c8"/>
<rect x="666.2" y="1015.2" width="2" height="2" fill="#0018d8"/>
<rect x="1060.0" y="999.8" width="2" height="2" fill="#0010d0"/>
<rect x="896.5" y="1014.2" width="2" height="2" fill="#0008c8"/>
<rect x="1048.1" y="1059.1" width="2" height="2" fill="#0010d0"/>
<rect x="745.6" y="1016.1" width="2" height="2" fill="#0010d0"/>
<rect x="613.8" y="989.6" width="2" height="2" fill="#0018d8"/>
<rect x="1096.6" y="1051.6" width="2" height="2" fill="#0008c8"/>
<rect x="829.3" y="999.9" width="2" height="2" fill="#0008c8"/>
<rect x="1104.4" y="1030.7" width="2" height="2" fill="#0010d0"/>
<rect x="918.5" y="1011.5" width="2" height="2" fill="#0008c8"/>
<rect x="1007.2" y="1035.0" width="2" height="2" fill="#0018d8"/>
<rect x="647.6" y="1044.4" width="2" height="2" fill="#0010d0"/>
<rect x="771.9" y="999.2" width="2" height="2" fill="#0010d0"/>
<rect x="737.9" y="1032.7" width="2" height="2" fill="#0018d8"/>
<rect x="605.7" y="1020.6" width="2" height="2" fill="#0008c8"/>
<rect x="601.9" y="976.1" width="2" height="2" fill="#0010d0"/>
<rect x="1064.1" y="1011.0" width="2" height="2" fill="#0018d8"/>
<rect x="1135.1" y="1026.9" width="2" height="2" fill="#0010d0"/>
<rect x="891.1" y="982.8" width="2" height="2" fill="#0010d0"/>
<rect x="777.1" y="972.6" width="2" height="2" fill="#0010d0"/>
<rect x="1006.5" y="980.1" width="2" height="2" fill="#0010d0"/>
<rect x="950.8" y="984.5" width="2" height="2" fill="#0028e8"/>
<rect x="1045.8" y="982.2" width="2" height="2" fill="#0018d8"/>
<rect x="843.9" y="992.2" width="2" height="2" fill="#0028e8"/>
<rect x="685.2" y="975.9" width="2" height="2" fill="#0010d0"/>
<rect x="894.1" y="1059.3" width="2" height="2" fill="#0008c8"/>
<rect x="645.9" y="1045.2" width="2" height="2" fill="#0028e8"/>
<rect x="982.6" y="990.3" width="2" height="2" fill="#0008c8"/>
<rect x="605.0" y="1023.7" width="2" height="2" fill="#0028e8"/>
<rect x="993.9" y="1003.6" width="2" height="2" fill="#0028e8"/>
<rect x="710.7" y="996.6" width="2" height="2" fill="#0010d0"/>
<rect x="761.4" y="1018.2" width="2" height="2" fill="#0010d0"/>
<rect x="798.1" y="1044.7" width="2" height="2" fill="#0008c8"/>
<rect x="943.6" y="1007.8" width="2" height="2" fill="#0010d0"/>
<rect x="668.6" y="993.1" width="2" height="2" fill="#0028e8"/>
<rect x="607.8" y="986.8" width="2" height="2" fill="#0008c8"/>
<rect x="1022.0" y="997.0" width="2" height="2" fill="#0010d0"/>
<rect x="1046.8" y="1039.8" width="2" height="2" fill="#0028e8"/>
<rect x="981.1" y="1049.6" width="2" height="2" fill="#0008c8"/>
<rect x="1049.0" y="1005.6" width="2" height="2" fill="#0008c8"/>
<rect x="645.9" y="1026.3" width="2" height="2" fill="#0010d0"/>
<rect x="1056.5" y="973.5" width="2" height="2" fill="#0008c8"/>
<rect x="939.0" y="1018.0" width="2" height="2" fill="#0028e8"/>
<rect x="901.7" y="1034.0" width="2" height="2" fill="#0028e8"/>
<rect x="1154.3" y="1045.3" width="2" height="2" fill="#0008c8"/>
<rect x="896.5" y="1043.8" width="2" height="2" fill="#0018d8"/>
<rect x="1140.4" y="973.3" width="2" height="2" fill="#0010d0"/>
<rect x="750.4" y="978.5" width="2" height="2" fill="#0008c8"/>
<rect x="1033.6" y="1026.8" width="2" height="2" fill="#0028e8"/>
<rect x="763.5" y="1055.6" width="2" height="2" fill="#0018d8"/>
<rect x="1123.5" y="992.7" width="2" height="2" fill="#0008c8"/>
<rect x="1021.8" y="1032.1" width="2" height="2" fill="#0018d8"/>
<rect x="1105.0" y="1033.7" width="2" height="2" fill="#0010d0"/>
<rect x="865.5" y="979.8" width="2" height="2" fill="#0008c8"/>
<rect x="724.3" y="1059.7" width="2" height="2" fill="#0028e8"/>
<rect x="813.6" y="971.8" width="2" height="2" fill="#0028e8"/>
<rect x="804.7" y="1039.4" width="2" height="2" fill="#0010d0"/>
<rect x="1112.5" y="1027.0" width="2" height="2" fill="#0028e8"/>
<rect x="773.6" y="1047.8" width="2" height="2" fill="#0018d8"/>
<rect x="730.1" y="980.6" width="2" height="2" fill="#0018d8"/>
<rect x="762.8" y="995.7" width="2" height="2" fill="#0008c8"/>
<rect x="1105.1" y="986.7" width="2" height="2" fill="#0028e8"/>
<rect x="1029.4" y="991.8" width="2" height="2" fill="#0008c8"/>
<rect x="915.7" y="1028.2" width="2" height="2" fill="#0028e8"/>
<rect x="827.1" y="1010.0" width="2" height="2" fill="#0010d0"/>
<rect x="760.9" y="996.9" width="2" height="2" fill="#0018d8"/>
<rect x="694.3" y="974.3" width="2" height="2" fill="#0008c8"/>
<rect x="757.0" y="1021.7" width="2" height="2" fill="#0010d0"/>
<rect x="837.0" y="1001.0" width="2" height="2" fill="#0008c8"/>
<rect x="959.9" y="1034.0" width="2" height="2" fill="#0008c8"/>
<rect x="621.5" y="1015.4" width="2" height="2" fill="#0008c8"/>
<rect x="770.2" y="1048.5" width="2" height="2" fill="#0028e8"/>
<rect x="1122.1" y="992.2" width="2" height="2" fill="#0028e8"/>
<rect x="1071.9" y="971.6" width="2" height="2" fill="#0010d0"/>
<rect x="650.6" y="1001.9" width="2" height="2" fill="#0018d8"/>
<rect x="942.2" y="981.0" width="2" height="2" fill="#0028e8"/>
<rect x="1011.9" y="1045.4" width="2" height="2" fill="#0010d0"/>
<rect x="998.5" y="1055.1" width="2" height="2" fill="#0008c8"/>
<rect x="797.3" y="1045.2" width="2" height="2" fill="#0010d0"/>
<rect x="705.4" y="1005.4" width="2" height="2" fill="#0028e8"/>
<rect x="1101.4" y="1060.9" width="2" height="2" fill="#0008c8"/>
<rect x="728.2" y="1056.7" width="2" height="2" fill="#0028e8"/>
<rect x="803.0" y="982.1" width="2" height="2" fill="#0018d8"/>
<rect x="662.8" y="971.8" width="2" height="2" fill="#0028e8"/>
<rect x="1142.9" y="1057.0" width="2" height="2" fill="#0008c8"/>
<rect x="869.9" y="1056.4" width="2" height="2" fill="#0018d8"/>
<rect x="595.2" y="1044.8" width="2" height="2" fill="#0018d8"/>
<rect x="1020.4" y="989.2" width="2" height="2" fill="#0018d8"/>
<rect x="807.0" y="997.8" width="2" height="2" fill="#0028e8"/>
<rect x="957.7" y="1040.8" width="2" height="2" fill="#0008c8"/>
<rect x="919.0" y="998.3" width="2" height="2" fill="#0018d8"/>
<rect x="1131.6" y="977.2" width="2" height="2" fill="#0028e8"/>
<rect x="615.2" y="1009.6" width="2" height="2" fill="#0010d0"/>
<rect x="742.8" y="1036.7" width="2" height="2" fill="#0010d0"/>
<rect x="742.8" y="980.2" width="2" height="2" fill="#0028e8"/>
<rect x="836.2" y="987.8" width="2" height="2" fill="#0028e8"/>
<rect x="1080.9" y="993.7" width="2" height="2" fill="#0028e8"/>
<rect x="791.8" y="1044.9" width="2" height="2" fill="#0008c8"/>
<rect x="1059.2" y="984.2" width="2" height="2" fill="#0008c8"/>
<rect x="598.3" y="1022.4" width="2" height="2" fill="#0028e8"/>
<rect x="1088.2" y="978.6" width="2" height="2" fill="#0010d0"/>
<rect x="698.1" y="1044.2" width="2" height="2" fill="#0008c8"/>
<rect x="859.0" y="979.2" width="2" height="2" fill="#0018d8"/>
<rect x="932.1" y="1047.4" width="2" height="2" fill="#0028e8"/>
<rect x="879.8" y="976.3" width="2" height="2" fill="#0028e8"/>
<rect x="1031.9" y="1016.8" width="2" height="2" fill="#0008c8"/>
<rect x="710.7" y="1009.7" width="2" height="2" fill="#0028e8"/>
<rect x="1056.0" y="1046.0" width="2" height="2" fill="#0028e8"/>
<rect x="1115.5" y="1005.8" width="2" height="2" fill="#0010d0"/>
<rect x="1101.9" y="984.9" width="2" height="2" fill="#0010d0"/>
<rect x="830.2" y="1059.5" width="2" height="2" fill="#0018d8"/>
<rect x="711.4" y="1009.6" width="2" height="2" fill="#0018d8"/>
<rect x="666.6" y="1004.4" width="2" height="2" fill="#0008c8"/>
<rect x="971.6" y="982.7" width="2" height="2" fill="#0010d0"/>
<rect x="1024.5" y="978.5" width="2" height="2" fill="#0028e8"/>
<rect x="606.8" y="1008.6" width="2" height="2" fill="#0010d0"/>
<rect x="699.7" y="973.2" width="2" height="2" fill="#0028e8"/>
<rect x="1141.8" y="1025.7" width="2" height="2" fill="#0010d0"/>
<rect x="856.8" y="978.5" width="2" height="2" fill="#0018d8"/>
<rect x="1128.4" y="974.3" width="2" height="2" fill="#0010d0"/>
<rect x="1056.0" y="979.2" width="2" height="2" fill="#0010d0"/>
<rect x="1022.1" y="1005.3" width="2" height="2" fill="#0010d0"/>
<rect x="673.9" y="1018.4" width="2" height="2" fill="#0008c8"/>
<rect x="750.1" y="981.1" width="2" height="2" fill="#0028e8"/>
<rect x="802.9" y="1004.9" width="2" height="2" fill="#0028e8"/>
<rect x="902.8" y="1011.6" width="2" height="2" fill="#0010d0"/>
<rect x="1144.3" y="984.2" width="2" height="2" fill="#0008c8"/>
<rect x="901.5" y="1037.7" width="2" height="2" fill="#0010d0"/>
<rect x="723.4" y="1031.7" width="2" height="2" fill="#0008c8"/>
<rect x="590.7" y="1041.3" width="2" height="2" fill="#0028e8"/>
<rect x="720.5" y="1036.3" width="2" height="2" fill="#0010d0"/>
<rect x="1044.7" y="976.6" width="2" height="2" fill="#0010d0"/>
<rect x="608.2" y="1006.4" width="2" height="2" fill="#0018d8"/>
<rect x="1035.2" y="1022.0" width="2" height="2" fill="#0028e8"/>
<rect x="846.3" y="1030.8" width="2" height="2" fill="#0018d8"/>
<rect x="915.0" y="996.4" width="2" height="2" fill="#0028e8"/>
<rect x="1157.6" y="998.8" width="2" height="2" fill="#0010d0"/>
<rect x="927.8" y="1033.3" width="2" height="2" fill="#0028e8"/>
<rect x="617.9" y="990.7" width="2" height="2" fill="#0028e8"/>
<rect x="643.0" y="1018.0" width="2" height="2" fill="#0018d8"/>
<rect x="1066.0" y="984.0" width="2" height="2" fill="#0018d8"/>
<rect x="622.5" y="971.8" width="2" height="2" fill="#0010d0"/>
<rect x="913.9" y="975.3" width="2" height="2" fill="#0008c8"/>
<rect x="653.6" y="1051.6" width="2" height="2" fill="#0018d8"/>
<rect x="1145.7" y="995.3" width="2" height="2" fill="#0018d8"/>
<rect x="866.0" y="984.5" width="2" height="2" fill="#0008c8"/>
<rect x="737.6" y="1046.5" width="2" height="2" fill="#0018d8"/>
<rect x="810.8" y="1028.4" width="2" height="2" fill="#0010d0"/>
<rect x="992.1" y="1025.1" width="2" height="2" fill="#0028e8"/>
<rect x="1115.4" y="1047.2" width="2" height="2" fill="#0010d0"/>
<rect x="913.2" y="1053.1" width="2" height="2" fill="#0018d8"/>
<rect x="910.7" y="972.4" width="2" height="2" fill="#0008c8"/>
<rect x="987.3" y="1026.8" width="2" height="2" fill="#0008c8"/>
<rect x="601.0" y="1008.7" width="2" height="2" fill="#0028e8"/>
<rect x="1003.2" y="1026.8" width="2" height="2" fill="#0010d0"/>
<rect x="896.3" y="1034.5" width="2" height="2" fill="#0008c8"/>
<rect x="1002.1" y="1025.0" width="2" height="2" fill="#0008c8"/>
<rect x="624.7" y="1013.2" width="2" height="2" fill="#0008c8"/>
<rect x="1139.3" y="1033.0" width="2" height="2" fill="#0018d8"/>
<rect x="655.7" y="1039.8" width="2" height="2" fill="#0018d8"/>
<rect x="848.3" y="998.6" width="2" height="2" fill="#0018d8"/>
<rect x="884.4" y="1053.1" width="2" height="2" fill="#0028e8"/>
<rect x="806.3" y="1030.9" width="2" height="2" fill="#0018d8"/>
<rect x="768.0" y="1026.9" width="2" height="2" fill="#0028e8"/>
<rect x="637.0" y="1003.4" width="2" height="2" fill="#0008c8"/>
<rect x="956.2" y="1011.1" width="2" height="2" fill="#0028e8"/>
<rect x="687.1" y="984.1" width="2" height="2" fill="#0028e8"/>
<rect x="684.2" y="1016.9" width="2" height="2" fill="#0018d8"/>
<rect x="1113.7" y="984.6" width="2" height="2" fill="#0018d8"/>
<rect x="911.8" y="1017.0" width="2" height="2" fill="#0010d0"/>
<rect x="907.2" y="1031.4" width="2" height="2" fill="#0028e8"/>
<rect x="905.5" y="994.2" width="2" height="2" fill="#0018d8"/>
<rect x="755.8" y="981.3" width="2" height="2" fill="#0018d8"/>
<rect x="832.1" y="1048.1" width="2" height="2" fill="#0018d8"/>
<rect x="867.5" y="1035.7" width="2" height="2" fill="#0008c8"/>
<rect x="1139.2" y="982.0" width="2" height="2" fill="#0008c8"/>
<rect x="780.6" y="980.8" width="2" height="2" fill="#0018d8"/>
<rect x="1074.5" y="1024.2" width="2" height="2" fill="#0008c8"/>
<rect x="1035.2" y="1020.6" width="2" height="2" fill="#0010d0"/>
<rect x="954.1" y="1037.0" width="2" height="2" fill="#0018d8"/>
<rect x="643.8" y="1049.1" width="2" height="2" fill="#0008c8"/>
<rect x="766.5" y="998.0" width="2" height="2" fill="#0018d8"/>
<rect x="823.5" y="1050.2" width="2" height="2" fill="#0008c8"/>
<rect x="624.3" y="977.7" width="2" height="2" fill="#0008c8"/>
<rect x="1131.8" y="1043.0" width="2" height="2" fill="#0028e8"/>
<rect x="646.3" y="1009.2" width="2" height="2" fill="#0010d0"/>
<rect x="830.0" y="1056.5" width="2" height="2" fill="#0018d8"/>
<rect x="962.9" y="1033.2" width="2" height="2" fill="#0018d8"/>
<rect x="1125.8" y="1057.1" width="2" height="2" fill="#0028e8"/>
<rect x="806.0" y="986.9" width="2" height="2" fill="#0010d0"/>
<rect x="652.4" y="1020.1" width="2" height="2" fill="#0008c8"/>
<rect x="964.7" y="1031.6" width="2" height="2" fill="#0028e8"/>
<rect x="839.1" y="996.1" width="2" height="2" fill="#0028e8"/>
<rect x="1148.8" y="1010.2" width="2" height="2" fill="#0010d0"/>
<rect x="1096.2" y="1060.3" width="2" height="2" fill="#0010d0"/>
<rect x="806.9" y="1028.9" width="2" height="2" fill="#0010d0"/>
<rect x="774.4" y="1044.9" width="2" height="2" fill="#0008c8"/>
<rect x="666.7" y="976.3" width="2" height="2" fill="#0028e8"/>
<rect x="763.3" y="1021.5" width="2" height="2" fill="#0018d8"/>
<rect x="750.4" y="1038.8" width="2" height="2" fill="#0018d8"/>
<rect x="850.2" y="1008.1" width="2" height="2" fill="#0008c8"/>
<rect x="663.6" y="989.8" width="2" height="2" fill="#0008c8"/>
<rect x="843.6" y="992.7" width="2" height="2" fill="#0010d0"/>
<rect x="683.0" y="979.6" width="2" height="2" fill="#0028e8"/>
<rect x="734.7" y="1013.5" width="2" height="2" fill="#0010d0"/>
<rect x="1049.9" y="1015.1" width="2" height="2" fill="#0018d8"/>
<rect x="921.8" y="994.3" width="2" height="2" fill="#0018d8"/>
<rect x="989.6" y="1020.6" width="2" height="2" fill="#0008c8"/>
<rect x="705.6" y="973.6" width="2" height="2" fill="#0028e8"/>
<rect x="955.7" y="1015.7" width="2" height="2" fill="#0018d8"/>
<rect x="936.2" y="976.7" width="2" height="2" fill="#0018d8"/>
<rect x="662.8" y="1009.5" width="2" height="2" fill="#0028e8"/>
<rect x="800.3" y="1041.5" width="2" height="2" fill="#0018d8"/>
<rect x="965.0" y="1040.0" width="2" height="2" fill="#0008c8"/>
<rect x="586.6" y="1056.9" width="2" height="2" fill="#0018d8"/>
<rect x="1143.4" y="1009.3" width="2" height="2" fill="#0018d8"/>
<rect x="829.4" y="1047.3" width="2" height="2" fill="#0028e8"/>
<rect x="782.6" y="1037.7" width="2" height="2" fill="#0018d8"/>
<rect x="997.6" y="1027.1" width="2" height="2" fill="#0008c8"/>
<rect x="678.2" y="1016.3" width="2" height="2" fill="#0008c8"/>
<rect x="1314.6" y="1015.2" width="2" height="2" fill="#0028e8"/>
<rect x="1336.2" y="975.4" width="2" height="2" fill="#0008c8"/>
<rect x="1310.2" y="982.3" width="2" height="2" fill="#0010d0"/>
<rect x="1287.8" y="987.0" width="2" height="2" fill="#0010d0"/>
<rect x="1323.8" y="1007.6" width="2" height="2" fill="#0008c8"/>
<rect x="1303.4" y="1029.8" width="2" height="2" fill="#0010d0"/>
<rect x="1322.3" y="1054.8" width="2" height="2" fill="#0010d0"/>
<rect x="1323.1" y="1024.1" width="2" height="2" fill="#0018d8"/>
<rect x="1307.0" y="999.2" width="2" height="2" fill="#0008c8"/>
<rect x="1302.5" y="1025.5" width="2" height="2" fill="#0028e8"/>
<rect x="1332.4" y="1037.3" width="2" height="2" fill="#0018d8"/>
<rect x="1314.0" y="971.7" width="2" height="2" fill="#0028e8"/>
<rect x="1279.6" y="972.8" width="2" height="2" fill="#0010d0"/>
<rect x="1283.2" y="1013.0" width="2" height="2" fill="#0028e8"/>
<rect x="1340.7" y="1014.0" width="2" height="2" fill="#0018d8"/>
<rect x="1313.3" y="973.7" width="2" height="2" fill="#0028e8"/>
<rect x="1336.0" y="1027.1" width="2" height="2" fill="#0010d0"/>
<rect x="1277.0" y="1051.5" width="2" height="2" fill="#0010d0"/>
<rect x="1345.7" y="1034.5" width="2" height="2" fill="#0010d0"/>
<rect x="1282.8" y="1004.9" width="2" height="2" fill="#0008c8"/>
<rect x="1288.0" y="1007.3" width="2" height="2" fill="#0008c8"/>
<rect x="1306.6" y="998.7" width="2" height="2" fill="#0028e8"/>
<rect x="1303.9" y="1041.4" width="2" height="2" fill="#0008c8"/>
<rect x="1340.4" y="1033.9" width="2" height="2" fill="#0010d0"/>
<rect x="1285.1" y="1053.0" width="2" height="2" fill="#0010d0"/>
<rect x="1305.1" y="973.9" width="2" height="2" fill="#0028e8"/>
<rect x="1313.5" y="989.7" width="2" height="2" fill="#0018d8"/>
<rect x="1330.8" y="1050.3" width="2" height="2" fill="#0028e8"/>
<rect x="1333.0" y="1009.2" width="2" height="2" fill="#0028e8"/>
<rect x="1328.6" y="989.8" width="2" height="2" fill="#0018d8"/>
<rect x="1327.4" y="1050.0" width="2" height="2" fill="#0008c8"/>
<rect x="1289.4" y="1019.8" width="2" height="2" fill="#0010d0"/>
<rect x="1302.0" y="980.1" width="2" height="2" fill="#0028e8"/>
<rect x="1301.8" y="984.5" width="2" height="2" fill="#0018d8"/>
<rect x="1288.7" y="1020.7" width="2" height="2" fill="#0028e8"/>
<rect x="1344.2" y="1038.7" width="2" height="2" fill="#0028e8"/>
<rect x="1344.9" y="1047.0" width="2" height="2" fill="#0018d8"/>
<rect x="1328.2" y="1051.6" width="2" height="2" fill="#0028e8"/>
<rect x="1286.4" y="972.1" width="2" height="2" fill="#0008c8"/>
<rect x="1327.9" y="1005.0" width="2" height="2" fill="#0028e8"/>
<rect x="1294.7" y="1023.2" width="2" height="2" fill="#0018d8"/>
<rect x="1319.6" y="1020.1" width="2" height="2" fill="#0010d0"/>
<rect x="1304.0" y="1022.1" width="2" height="2" fill="#0008c8"/>
<rect x="1292.1" y="998.2" width="2" height="2" fill="#0008c8"/>
<rect x="1331.8" y="1015.3" width="2" height="2" fill="#0008c8"/>
<rect x="1323.7" y="1025.3" width="2" height="2" fill="#0008c8"/>
<rect x="1281.4" y="1000.9" width="2" height="2" fill="#0010d0"/>
<rect x="1298.7" y="1049.0" width="2" height="2" fill="#0008c8"/>
<rect x="1297.9" y="1032.8" width="2" height="2" fill="#0008c8"/>
<rect x="1342.7" y="1052.1" width="2" height="2" fill="#0008c8"/>
<rect x="1278.5" y="1017.9" width="2" height="2" fill="#0028e8"/>
<rect x="1291.2" y="999.0" width="2" height="2" fill="#0028e8"/>
<rect x="586" y="1106.1" width="2" height="15.7" fill="#009dff"/>
<rect x="586" y="1097.2" width="2" height="9.3" fill="#0095ff"/>
<rect x="586" y="1090.8" width="2" height="6.7" fill="#00bcff"/>
<rect x="586" y="1085.9" width="2" height="5.2" fill="#004cff"/>
<rect x="586" y="1081.8" width="2" height="4.3" fill="#0056ff"/>
<rect x="586" y="1078.4" width="2" height="3.7" fill="#0040ff"/>
<rect x="588" y="1106.1" width="2" height="15.7" fill="#00aaff"/>
<rect x="588" y="1097.2" width="2" height="9.3" fill="#007fff"/>
<rect x="588" y="1085.9" width="2" height="5.2" fill="#0075ff"/>
<rect x="590" y="1097.2" width="3" height="9.3" fill="#0089ff"/>
<rect x="590" y="1090.8" width="3" height="6.7" fill="#00adff"/>
<rect x="590" y="1085.9" width="3" height="5.2" fill="#003fff"/>
<rect x="590" y="1075.4" width="3" height="3.3" fill="#003fff"/>
<rect x="593" y="1106.1" width="1.5" height="15.7" fill="#007cff"/>
<rect x="593" y="1097.2" width="1.5" height="9.3" fill="#00b4ff"/>
<rect x="593" y="1081.8" width="1.5" height="4.3" fill="#004bff"/>
<rect x="593" y="1078.4" width="1.5" height="3.7" fill="#0046ff"/>
<rect x="594.5" y="1106.1" width="3" height="15.7" fill="#0093ff"/>
<rect x="594.5" y="1097.2" width="3" height="9.3" fill="#0072ff"/>
<rect x="594.5" y="1090.8" width="3" height="6.7" fill="#0069ff"/>
<rect x="594.5" y="1085.9" width="3" height="5.2" fill="#0045ff"/>
<rect x="594.5" y="1075.4" width="3" height="3.3" fill="#0044ff"/>
<rect x="597.5" y="1106.1" width="2.5" height="15.7" fill="#00cbff"/>
<rect x="597.5" y="1097.2" width="2.5" height="9.3" fill="#00e6ff"/>
<rect x="597.5" y="1085.9" width="2.5" height="5.2" fill="#0067ff"/>
<rect x="597.5" y="1081.8" width="2.5" height="4.3" fill="#0048ff"/>
<rect x="600.0" y="1090.8" width="2" height="30.7" fill="#0030f0"/>
<rect x="600.0" y="1097.2" width="2" height="9.0" fill="#00a0ff"/>
<rect x="603.0" y="1085.9" width="1" height="35.6" fill="#0090ff"/>
<rect x="603.0" y="1097.2" width="1" height="9.0" fill="#00a0ff"/>
<rect x="606.0" y="1090.8" width="1.5" height="30.7" fill="#0090ff"/>
<rect x="607.5" y="1097.2" width="1" height="24.3" fill="#0060ff"/>
<rect x="610.5" y="1090.8" width="1.5" height="30.7" fill="#0030f0"/>
<rect x="610.5" y="1097.2" width="1.5" height="9.0" fill="#00a0ff"/>
<rect x="614.0" y="1097.2" width="1" height="24.3" fill="#0030f0"/>
<rect x="617.0" y="1078.4" width="1.5" height="4" fill="#0020d8"/>
<rect x="619.5" y="1078.4" width="1" height="4" fill="#0020d8"/>
<rect x="620.5" y="1081.8" width="2" height="39.7" fill="#0070ff"/>
<rect x="625.5" y="1085.9" width="1" height="35.6" fill="#0030f0"/>
<rect x="626.5" y="1097.2" width="1.5" height="24.3" fill="#0030f0"/>
<rect x="628.0" y="1085.9" width="1.5" height="35.6" fill="#0070ff"/>
<rect x="628.0" y="1097.2" width="1.5" height="9.0" fill="#00a0ff"/>
<rect x="631.5" y="1090.8" width="1.5" height="30.7" fill="#0060ff"/>
<rect x="633.0" y="1081.8" width="1.5" height="39.7" fill="#0030f0"/>
<rect x="637.5" y="1097.2" width="1.5" height="24.3" fill="#0048ff"/>
<rect x="641.0" y="1081.8" width="1" height="39.7" fill="#0048ff"/>
<rect x="641.0" y="1097.2" width="1" height="9.0" fill="#00a0ff"/>
<rect x="642.0" y="1090.8" width="2" height="30.7" fill="#0060ff"/>
<rect x="644.0" y="1085.9" width="1" height="35.6" fill="#0030f0"/>
<rect x="646.0" y="1106.1" width="3" height="15.7" fill="#00a1ff"/>
<rect x="646.0" y="1097.2" width="3" height="9.3" fill="#00acff"/>
<rect x="646.0" y="1090.8" width="3" height="6.7" fill="#00ccff"/>
<rect x="646.0" y="1085.9" width="3" height="5.2" fill="#0041ff"/>
<rect x="646.0" y="1081.8" width="3" height="4.3" fill="#0049ff"/>
<rect x="646.0" y="1078.4" width="3" height="3.7" fill="#003dff"/>
<rect x="649.0" y="1106.1" width="2" height="15.7" fill="#00dfff"/>
<rect x="649.0" y="1097.2" width="2" height="9.3" fill="#00c0ff"/>
<rect x="649.0" y="1090.8" width="2" height="6.7" fill="#00cdff"/>
<rect x="649.0" y="1085.9" width="2" height="5.2" fill="#0099ff"/>
<rect x="651.0" y="1106.1" width="3" height="15.7" fill="#0068ff"/>
<rect x="651.0" y="1097.2" width="3" height="9.3" fill="#0074ff"/>
<rect x="651.0" y="1090.8" width="3" height="6.7" fill="#00d8ff"/>
<rect x="651.0" y="1085.9" width="3" height="5.2" fill="#0055ff"/>
<rect x="654.0" y="1106.1" width="1.5" height="15.7" fill="#0062ff"/>
<rect x="654.0" y="1097.2" width="1.5" height="9.3" fill="#00e6ff"/>
<rect x="654.0" y="1090.8" width="1.5" height="6.7" fill="#005aff"/>
<rect x="654.0" y="1085.9" width="1.5" height="5.2" fill="#005eff"/>
<rect x="654.0" y="1075.4" width="1.5" height="3.3" fill="#0046ff"/>
<rect x="655.5" y="1097.2" width="1" height="24.3" fill="#0070ff"/>
<rect x="658.5" y="1075.4" width="1" height="4" fill="#0020d8"/>
<rect x="660.5" y="1085.9" width="2" height="35.6" fill="#0048ff"/>
<rect x="664.5" y="1075.4" width="1" height="4" fill="#0020d8"/>
<rect x="668.5" y="1085.9" width="1" height="35.6" fill="#0048ff"/>
<rect x="672.5" y="1075.4" width="1.5" height="4" fill="#0020d8"/>
<rect x="676.0" y="1097.2" width="1.5" height="24.3" fill="#0070ff"/>
<rect x="679.5" y="1085.9" width="1.5" height="35.6" fill="#0060ff"/>
<rect x="679.5" y="1097.2" width="1.5" height="9.0" fill="#00a0ff"/>
<rect x="681.0" y="1090.8" width="1" height="30.7" fill="#0060ff"/>
<rect x="682.0" y="1097.2" width="1" height="24.3" fill="#0090ff"/>
<rect x="684.0" y="1090.8" width="1" height="30.7" fill="#0048ff"/>
<rect x="685.0" y="1097.2" width="1.5" height="24.3" fill="#0048ff"/>
<rect x="686.5" y="1078.4" width="1.5" height="4" fill="#0020d8"/>
<rect x="688.0" y="1085.9" width="2" height="35.6" fill="#0090ff"/>
<rect x="690.0" y="1097.2" width="1" height="24.3" fill="#0030f0"/>
<rect x="691.0" y="1097.2" width="1" height="24.3" fill="#0030f0"/>
<rect x="693.0" y="1090.8" width="2" height="30.7" fill="#0090ff"/>
<rect x="695.0" y="1090.8" width="1" height="30.7" fill="#0090ff"/>
<rect x="699.5" y="1090.8" width="1.5" height="30.7" fill="#0070ff"/>
<rect x="701.0" y="1081.8" width="2" height="39.7" fill="#0070ff"/>
<rect x="701.0" y="1097.2" width="2" height="9.0" fill="#00a0ff"/>
<rect x="703.0" y="1085.9" width="2" height="35.6" fill="#0048ff"/>
<rect x="707.0" y="1081.8" width="2" height="39.7" fill="#0070ff"/>
<rect x="710.0" y="1097.2" width="1" height="24.3" fill="#0030f0"/>
<rect x="710.0" y="1097.2" width="1" height="9.0" fill="#00c0ff"/>
<rect x="714.0" y="1090.8" width="1.5" height="30.7" fill="#0070ff"/>
<rect x="715.5" y="1097.2" width="2" height="24.3" fill="#0060ff"/>
<rect x="715.5" y="1097.2" width="2" height="9.0" fill="#00c0ff"/>
<rect x="718.5" y="1090.8" width="1" height="30.7" fill="#0030f0"/>
<rect x="719.5" y="1085.9" width="1" height="35.6" fill="#0048ff"/>
<rect x="719.5" y="1097.2" width="1" height="9.0" fill="#00a0ff"/>
<rect x="720.5" y="1090.8" width="2" height="30.7" fill="#0070ff"/>
<rect x="725.5" y="1090.8" width="2" height="30.7" fill="#0060ff"/>
<rect x="725.5" y="1097.2" width="2" height="9.0" fill="#00c0ff"/>
<rect x="730.0" y="1081.8" width="1" height="39.7" fill="#0060ff"/>
<rect x="733.0" y="1078.4" width="1" height="4" fill="#0020d8"/>
<rect x="737.0" y="1090.8" width="2" height="30.7" fill="#0070ff"/>
<rect x="739.0" y="1085.9" width="1" height="4" fill="#0020d8"/>
<rect x="741.0" y="1097.2" width="1" height="24.3" fill="#0070ff"/>
<rect x="744.0" y="1097.2" width="2" height="24.3" fill="#0070ff"/>
<rect x="747.0" y="1085.9" width="1" height="35.6" fill="#0030f0"/>
<rect x="749.0" y="1090.8" width="1" height="30.7" fill="#0060ff"/>
<rect x="751.0" y="1097.2" width="2" height="24.3" fill="#0030f0"/>
<rect x="754.0" y="1090.8" width="1" height="30.7" fill="#0060ff"/>
<rect x="755.0" y="1090.8" width="1.5" height="30.7" fill="#0090ff"/>
<rect x="756.5" y="1090.8" width="2" height="30.7" fill="#0070ff"/>
<rect x="759.5" y="1070.5" width="1" height="4" fill="#0020d8"/>
<rect x="760.5" y="1097.2" width="1" height="24.3" fill="#0090ff"/>
<rect x="760.5" y="1097.2" width="1" height="9.0" fill="#00c0ff"/>
<rect x="767.0" y="1097.2" width="1" height="24.3" fill="#0090ff"/>
<rect x="769.0" y="1097.2" width="1.5" height="24.3" fill="#0090ff"/>
<rect x="770.5" y="1090.8" width="1" height="30.7" fill="#0060ff"/>
<rect x="772.5" y="1090.8" width="2" height="30.7" fill="#0060ff"/>
<rect x="775.5" y="1085.9" width="2" height="35.6" fill="#0048ff"/>
<rect x="777.5" y="1097.2" width="1" height="24.3" fill="#0090ff"/>
<rect x="783.5" y="1090.8" width="2" height="30.7" fill="#0090ff"/>
<rect x="787.5" y="1085.9" width="1" height="35.6" fill="#0030f0"/>
<rect x="788.5" y="1081.8" width="1.5" height="39.7" fill="#0090ff"/>
<rect x="790.0" y="1090.8" width="2" height="30.7" fill="#0030f0"/>
<rect x="790.0" y="1097.2" width="2" height="9.0" fill="#00c0ff"/>
<rect x="792.0" y="1085.9" width="1.5" height="4" fill="#0020d8"/>
<rect x="795.5" y="1081.8" width="1" height="39.7" fill="#0048ff"/>
<rect x="797.5" y="1097.2" width="2" height="24.3" fill="#0048ff"/>
<rect x="805.0" y="1097.2" width="2" height="24.3" fill="#0070ff"/>
<rect x="807.0" y="1097.2" width="1" height="24.3" fill="#0070ff"/>
<rect x="807.0" y="1097.2" width="1" height="9.0" fill="#00c0ff"/>
<rect x="810.0" y="1090.8" width="2" height="30.7" fill="#0070ff"/>
<rect x="813.0" y="1106.1" width="2" height="15.7" fill="#00a1ff"/>
<rect x="813.0" y="1097.2" width="2" height="9.3" fill="#0dfff1"/>
<rect x="813.0" y="1090.8" width="2" height="6.7" fill="#00e5ff"/>
<rect x="813.0" y="1081.8" width="2" height="4.3" fill="#005bff"/>
<rect x="813.0" y="1078.4" width="2" height="3.7" fill="#005cff"/>
<rect x="813.0" y="1075.4" width="2" height="3.3" fill="#0041ff"/>
<rect x="815.0" y="1106.1" width="2.5" height="15.7" fill="#19ffe5"/>
<rect x="815.0" y="1097.2" width="2.5" height="9.3" fill="#0082ff"/>
<rect x="815.0" y="1090.8" width="2.5" height="6.7" fill="#0074ff"/>
<rect x="815.0" y="1081.8" width="2.5" height="4.3" fill="#0057ff"/>
<rect x="815.0" y="1075.4" width="2.5" height="3.3" fill="#004aff"/>
<rect x="817.5" y="1106.1" width="2" height="15.7" fill="#0047ff"/>
<rect x="817.5" y="1097.2" width="2" height="9.3" fill="#00ccff"/>
<rect x="817.5" y="1090.8" width="2" height="6.7" fill="#00e7ff"/>
<rect x="817.5" y="1085.9" width="2" height="5.2" fill="#0042ff"/>
<rect x="817.5" y="1075.4" width="2" height="3.3" fill="#0046ff"/>
<rect x="819.5" y="1106.1" width="1.5" height="15.7" fill="#00d0ff"/>
<rect x="819.5" y="1097.2" width="1.5" height="9.3" fill="#00e9ff"/>
<rect x="819.5" y="1090.8" width="1.5" height="6.7" fill="#0089ff"/>
<rect x="819.5" y="1085.9" width="1.5" height="5.2" fill="#005dff"/>
<rect x="819.5" y="1081.8" width="1.5" height="4.3" fill="#003dff"/>
<rect x="819.5" y="1075.4" width="1.5" height="3.3" fill="#004cff"/>
<rect x="821.0" y="1106.1" width="1.5" height="15.7" fill="#00a1ff"/>
<rect x="821.0" y="1097.2" width="1.5" height="9.3" fill="#04fffa"/>
<rect x="821.0" y="1090.8" width="1.5" height="6.7" fill="#00ceff"/>
<rect x="821.0" y="1085.9" width="1.5" height="5.2" fill="#0063ff"/>
<rect x="822.5" y="1106.1" width="3" height="15.7" fill="#009eff"/>
<rect x="822.5" y="1097.2" width="3" height="9.3" fill="#0064ff"/>
<rect x="822.5" y="1090.8" width="3" height="6.7" fill="#00e9ff"/>
<rect x="822.5" y="1085.9" width="3" height="5.2" fill="#00a2ff"/>
<rect x="822.5" y="1075.4" width="3" height="3.3" fill="#0040ff"/>
<rect x="827.5" y="1090.8" width="1" height="30.7" fill="#0048ff"/>
<rect x="828.5" y="1097.2" width="1.5" height="24.3" fill="#0060ff"/>
<rect x="832.0" y="1090.8" width="1.5" height="30.7" fill="#0048ff"/>
<rect x="834.5" y="1081.8" width="1" height="39.7" fill="#0090ff"/>
<rect x="838.5" y="1097.2" width="1" height="24.3" fill="#0060ff"/>
<rect x="840.5" y="1090.8" width="1.5" height="30.7" fill="#0048ff"/>
<rect x="843.0" y="1085.9" width="1" height="35.6" fill="#0048ff"/>
<rect x="845.0" y="1090.8" width="1" height="30.7" fill="#0030f0"/>
<rect x="845.0" y="1097.2" width="1" height="9.0" fill="#00c0ff"/>
<rect x="847.0" y="1085.9" width="1" height="35.6" fill="#0030f0"/>
<rect x="850.0" y="1081.8" width="1.5" height="39.7" fill="#0090ff"/>
<rect x="850.0" y="1097.2" width="1.5" height="9.0" fill="#00c0ff"/>
<rect x="852.5" y="1085.9" width="2" height="35.6" fill="#0030f0"/>
<rect x="859.5" y="1090.8" width="1" height="30.7" fill="#0060ff"/>
<rect x="861.5" y="1106.1" width="2" height="15.7" fill="#00c4ff"/>
<rect x="861.5" y="1097.2" width="2" height="9.3" fill="#12ffec"/>
<rect x="861.5" y="1090.8" width="2" height="6.7" fill="#00afff"/>
<rect x="861.5" y="1085.9" width="2" height="5.2" fill="#007dff"/>
<rect x="861.5" y="1081.8" width="2" height="4.3" fill="#00efff"/>
<rect x="861.5" y="1072.8" width="2" height="2.9" fill="#0087ff"/>
<rect x="861.5" y="1068.4" width="2" height="2.4" fill="#0081ff"/>
<rect x="863.5" y="1106.1" width="2.5" height="15.7" fill="#00cdff"/>
<rect x="863.5" y="1097.2" width="2.5" height="9.3" fill="#24ffda"/>
<rect x="863.5" y="1090.8" width="2.5" height="6.7" fill="#ffd700"/>
<rect x="863.5" y="1085.9" width="2.5" height="5.2" fill="#00dcff"/>
<rect x="863.5" y="1081.8" width="2.5" height="4.3" fill="#0074ff"/>
<rect x="863.5" y="1078.4" width="2.5" height="3.7" fill="#00f1ff"/>
<rect x="863.5" y="1075.4" width="2.5" height="3.3" fill="#00d0ff"/>
<rect x="863.5" y="1070.5" width="2.5" height="2.6" fill="#00abff"/>
<rect x="863.5" y="1066.5" width="2.5" height="2.2" fill="#006dff"/>
<rect x="866.0" y="1106.1" width="2.5" height="15.7" fill="#c9ff35"/>
<rect x="866.0" y="1097.2" width="2.5" height="9.3" fill="#20ffde"/>
<rect x="866.0" y="1090.8" width="2.5" height="6.7" fill="#0efff0"/>
<rect x="866.0" y="1085.9" width="2.5" height="5.2" fill="#00f1ff"/>
<rect x="866.0" y="1078.4" width="2.5" height="3.7" fill="#007bff"/>
<rect x="866.0" y="1072.8" width="2.5" height="2.9" fill="#008dff"/>
<rect x="866.0" y="1070.5" width="2.5" height="2.6" fill="#009bff"/>
<rect x="866.0" y="1068.4" width="2.5" height="2.4" fill="#008aff"/>
<rect x="868.5" y="1106.1" width="3" height="15.7" fill="#e1ff1d"/>
<rect x="868.5" y="1097.2" width="3" height="9.3" fill="#97ff67"/>
<rect x="868.5" y="1090.8" width="3" height="6.7" fill="#007fff"/>
<rect x="868.5" y="1085.9" width="3" height="5.2" fill="#00eeff"/>
<rect x="868.5" y="1078.4" width="3" height="3.7" fill="#006eff"/>
<rect x="868.5" y="1072.8" width="3" height="2.9" fill="#00baff"/>
<rect x="871.5" y="1106.1" width="3" height="15.7" fill="#00ddff"/>
<rect x="871.5" y="1097.2" width="3" height="9.3" fill="#ffa700"/>
<rect x="871.5" y="1090.8" width="3" height="6.7" fill="#00e8ff"/>
<rect x="871.5" y="1085.9" width="3" height="5.2" fill="#18ffe6"/>
<rect x="871.5" y="1081.8" width="3" height="4.3" fill="#0065ff"/>
<rect x="871.5" y="1078.4" width="3" height="3.7" fill="#00e4ff"/>
<rect x="871.5" y="1075.4" width="3" height="3.3" fill="#00a8ff"/>
<rect x="871.5" y="1068.4" width="3" height="2.4" fill="#0067ff"/>
<rect x="871.5" y="1064.7" width="3" height="2.1" fill="#0066ff"/>
<rect x="874.5" y="1106.1" width="2" height="15.7" fill="#fff100"/>
<rect x="874.5" y="1097.2" width="2" height="9.3" fill="#50ffae"/>
<rect x="874.5" y="1090.8" width="2" height="6.7" fill="#00ccff"/>
<rect x="874.5" y="1085.9" width="2" height="5.2" fill="#47ffb7"/>
<rect x="874.5" y="1081.8" width="2" height="4.3" fill="#2affd4"/>
<rect x="874.5" y="1075.4" width="2" height="3.3" fill="#00a8ff"/>
<rect x="874.5" y="1070.5" width="2" height="2.6" fill="#00afff"/>
<rect x="874.5" y="1066.5" width="2" height="2.2" fill="#0074ff"/>
<rect x="876.5" y="1106.1" width="2" height="15.7" fill="#ff9e00"/>
<rect x="876.5" y="1097.2" width="2" height="9.3" fill="#fffc00"/>
<rect x="876.5" y="1090.8" width="2" height="6.7" fill="#3effc0"/>
<rect x="876.5" y="1085.9" width="2" height="5.2" fill="#00baff"/>
<rect x="876.5" y="1078.4" width="2" height="3.7" fill="#0099ff"/>
<rect x="876.5" y="1075.4" width="2" height="3.3" fill="#00b9ff"/>
<rect x="876.5" y="1070.5" width="2" height="2.6" fill="#0098ff"/>
<rect x="876.5" y="1068.4" width="2" height="2.4" fill="#008eff"/>
<rect x="878.5" y="1106.1" width="2" height="15.7" fill="#fdff01"/>
<rect x="878.5" y="1097.2" width="2" height="9.3" fill="#ff8c00"/>
<rect x="878.5" y="1090.8" width="2" height="6.7" fill="#00b8ff"/>
<rect x="878.5" y="1085.9" width="2" height="5.2" fill="#0071ff"/>
<rect x="878.5" y="1081.8" width="2" height="4.3" fill="#00e0ff"/>
<rect x="878.5" y="1078.4" width="2" height="3.7" fill="#0082ff"/>
<rect x="878.5" y="1075.4" width="2" height="3.3" fill="#007bff"/>
<rect x="878.5" y="1070.5" width="2" height="2.6" fill="#008cff"/>
<rect x="878.5" y="1068.4" width="2" height="2.4" fill="#007aff"/>
<rect x="880.5" y="1106.1" width="2" height="15.7" fill="#10ffee"/>
<rect x="880.5" y="1097.2" width="2" height="9.3" fill="#0095ff"/>
<rect x="880.5" y="1090.8" width="2" height="6.7" fill="#ffd200"/>
<rect x="880.5" y="1085.9" width="2" height="5.2" fill="#4affb4"/>
<rect x="880.5" y="1078.4" width="2" height="3.7" fill="#00d8ff"/>
<rect x="880.5" y="1072.8" width="2" height="2.9" fill="#00baff"/>
<rect x="880.5" y="1070.5" width="2" height="2.6" fill="#0074ff"/>
<rect x="882.5" y="1106.1" width="3" height="15.7" fill="#d5ff29"/>
<rect x="882.5" y="1097.2" width="3" height="9.3" fill="#ffa400"/>
<rect x="882.5" y="1090.8" width="3" height="6.7" fill="#00e3ff"/>
<rect x="882.5" y="1085.9" width="3" height="5.2" fill="#4effb0"/>
<rect x="882.5" y="1081.8" width="3" height="4.3" fill="#0098ff"/>
<rect x="882.5" y="1075.4" width="3" height="3.3" fill="#00baff"/>
<rect x="882.5" y="1072.8" width="3" height="2.9" fill="#0080ff"/>
<rect x="882.5" y="1068.4" width="3" height="2.4" fill="#0089ff"/>
<rect x="885.5" y="1106.1" width="3" height="15.7" fill="#ffbd00"/>
<rect x="885.5" y="1097.2" width="3" height="9.3" fill="#00d9ff"/>
<rect x="885.5" y="1090.8" width="3" height="6.7" fill="#00ebff"/>
<rect x="885.5" y="1085.9" width="3" height="5.2" fill="#39ffc5"/>
<rect x="885.5" y="1081.8" width="3" height="4.3" fill="#0090ff"/>
<rect x="885.5" y="1078.4" width="3" height="3.7" fill="#0074ff"/>
<rect x="885.5" y="1075.4" width="3" height="3.3" fill="#00dbff"/>
<rect x="885.5" y="1072.8" width="3" height="2.9" fill="#007eff"/>
<rect x="888.5" y="1106.1" width="1.5" height="15.7" fill="#009eff"/>
<rect x="888.5" y="1097.2" width="1.5" height="9.3" fill="#0065ff"/>
<rect x="888.5" y="1090.8" width="1.5" height="6.7" fill="#04fffa"/>
<rect x="888.5" y="1085.9" width="1.5" height="5.2" fill="#00cbff"/>
<rect x="888.5" y="1081.8" width="1.5" height="4.3" fill="#004aff"/>
<rect x="888.5" y="1075.4" width="1.5" height="3.3" fill="#0061ff"/>
<rect x="888.5" y="1072.8" width="1.5" height="2.9" fill="#0053ff"/>
<rect x="890.0" y="1106.1" width="2" height="15.7" fill="#09fff5"/>
<rect x="890.0" y="1097.2" width="2" height="9.3" fill="#00cfff"/>
<rect x="890.0" y="1090.8" width="2" height="6.7" fill="#009aff"/>
<rect x="890.0" y="1085.9" width="2" height="5.2" fill="#0092ff"/>
<rect x="890.0" y="1075.4" width="2" height="3.3" fill="#005bff"/>
<rect x="892.0" y="1106.1" width="2" height="15.7" fill="#00d2ff"/>
<rect x="892.0" y="1097.2" width="2" height="9.3" fill="#00afff"/>
<rect x="892.0" y="1090.8" width="2" height="6.7" fill="#03fffb"/>
<rect x="892.0" y="1085.9" width="2" height="5.2" fill="#003dff"/>
<rect x="892.0" y="1081.8" width="2" height="4.3" fill="#0090ff"/>
<rect x="892.0" y="1078.4" width="2" height="3.7" fill="#006dff"/>
<rect x="894.0" y="1106.1" width="3" height="15.7" fill="#00a7ff"/>
<rect x="894.0" y="1097.2" width="3" height="9.3" fill="#00b4ff"/>
<rect x="894.0" y="1090.8" width="3" height="6.7" fill="#003eff"/>
<rect x="894.0" y="1085.9" width="3" height="5.2" fill="#00c3ff"/>
<rect x="894.0" y="1081.8" width="3" height="4.3" fill="#0074ff"/>
<rect x="894.0" y="1072.8" width="3" height="2.9" fill="#004cff"/>
<rect x="897.0" y="1106.1" width="3" height="15.7" fill="#0097ff"/>
<rect x="897.0" y="1097.2" width="3" height="9.3" fill="#00aeff"/>
<rect x="897.0" y="1090.8" width="3" height="6.7" fill="#00e2ff"/>
<rect x="897.0" y="1085.9" width="3" height="5.2" fill="#0052ff"/>
<rect x="897.0" y="1081.8" width="3" height="4.3" fill="#004eff"/>
<rect x="897.0" y="1078.4" width="3" height="3.7" fill="#0079ff"/>
<rect x="897.0" y="1072.8" width="3" height="2.9" fill="#005bff"/>
<rect x="897.0" y="1070.5" width="3" height="2.6" fill="#004aff"/>
<rect x="897.0" y="1068.4" width="3" height="2.4" fill="#0046ff"/>
<rect x="900.0" y="1106.1" width="3" height="15.7" fill="#00e8ff"/>
<rect x="900.0" y="1097.2" width="3" height="9.3" fill="#00e3ff"/>
<rect x="900.0" y="1090.8" width="3" height="6.7" fill="#00efff"/>
<rect x="900.0" y="1085.9" width="3" height="5.2" fill="#0076ff"/>
<rect x="900.0" y="1081.8" width="3" height="4.3" fill="#006fff"/>
<rect x="900.0" y="1075.4" width="3" height="3.3" fill="#0066ff"/>
<rect x="900.0" y="1072.8" width="3" height="2.9" fill="#005cff"/>
<rect x="900.0" y="1070.5" width="3" height="2.6" fill="#0044ff"/>
<rect x="903.0" y="1106.1" width="2" height="15.7" fill="#00d8ff"/>
<rect x="903.0" y="1097.2" width="2" height="9.3" fill="#00b9ff"/>
<rect x="903.0" y="1090.8" width="2" height="6.7" fill="#0061ff"/>
<rect x="903.0" y="1085.9" width="2" height="5.2" fill="#00b7ff"/>
<rect x="903.0" y="1078.4" width="2" height="3.7" fill="#004dff"/>
<rect x="903.0" y="1072.8" width="2" height="2.9" fill="#004eff"/>
<rect x="905.0" y="1106.1" width="1.5" height="15.7" fill="#0bfff3"/>
<rect x="905.0" y="1097.2" width="1.5" height="9.3" fill="#0079ff"/>
<rect x="905.0" y="1090.8" width="1.5" height="6.7" fill="#00a8ff"/>
<rect x="905.0" y="1085.9" width="1.5" height="5.2" fill="#004dff"/>
<rect x="905.0" y="1078.4" width="1.5" height="3.7" fill="#0075ff"/>
<rect x="905.0" y="1072.8" width="1.5" height="2.9" fill="#004fff"/>
<rect x="905.0" y="1070.5" width="1.5" height="2.6" fill="#0046ff"/>
<rect x="906.5" y="1106.1" width="3" height="15.7" fill="#00b0ff"/>
<rect x="906.5" y="1097.2" width="3" height="9.3" fill="#00b6ff"/>
<rect x="906.5" y="1090.8" width="3" height="6.7" fill="#006eff"/>
<rect x="906.5" y="1085.9" width="3" height="5.2" fill="#008bff"/>
<rect x="906.5" y="1081.8" width="3" height="4.3" fill="#008bff"/>
<rect x="906.5" y="1078.4" width="3" height="3.7" fill="#0046ff"/>
<rect x="906.5" y="1075.4" width="3" height="3.3" fill="#006aff"/>
<rect x="909.5" y="1106.1" width="2" height="15.7" fill="#00f3ff"/>
<rect x="909.5" y="1097.2" width="2" height="9.3" fill="#00b9ff"/>
<rect x="909.5" y="1090.8" width="2" height="6.7" fill="#0091ff"/>
<rect x="909.5" y="1085.9" width="2" height="5.2" fill="#00c6ff"/>
<rect x="909.5" y="1081.8" width="2" height="4.3" fill="#0092ff"/>
<rect x="909.5" y="1075.4" width="2" height="3.3" fill="#005bff"/>
<rect x="909.5" y="1072.8" width="2" height="2.9" fill="#003fff"/>
<rect x="911.5" y="1106.1" width="3" height="15.7" fill="#17ffe7"/>
<rect x="911.5" y="1097.2" width="3" height="9.3" fill="#0094ff"/>
<rect x="911.5" y="1090.8" width="3" height="6.7" fill="#00dfff"/>
<rect x="911.5" y="1081.8" width="3" height="4.3" fill="#005bff"/>
<rect x="914.5" y="1106.1" width="1.5" height="15.7" fill="#00a6ff"/>
<rect x="914.5" y="1097.2" width="1.5" height="9.3" fill="#008aff"/>
<rect x="914.5" y="1090.8" width="1.5" height="6.7" fill="#007bff"/>
<rect x="914.5" y="1081.8" width="1.5" height="4.3" fill="#0066ff"/>
<rect x="914.5" y="1075.4" width="1.5" height="3.3" fill="#0047ff"/>
<rect x="914.5" y="1072.8" width="1.5" height="2.9" fill="#0040ff"/>
<rect x="916.0" y="1106.1" width="2" height="15.7" fill="#0063ff"/>
<rect x="916.0" y="1097.2" width="2" height="9.3" fill="#0087ff"/>
<rect x="916.0" y="1090.8" width="2" height="6.7" fill="#02fffc"/>
<rect x="916.0" y="1085.9" width="2" height="5.2" fill="#005bff"/>
<rect x="916.0" y="1081.8" width="2" height="4.3" fill="#006bff"/>
<rect x="916.0" y="1078.4" width="2" height="3.7" fill="#0073ff"/>
<rect x="916.0" y="1075.4" width="2" height="3.3" fill="#0047ff"/>
<rect x="918.0" y="1106.1" width="2" height="15.7" fill="#00cfff"/>
<rect x="918.0" y="1097.2" width="2" height="9.3" fill="#0078ff"/>
<rect x="918.0" y="1090.8" width="2" height="6.7" fill="#00d3ff"/>
<rect x="918.0" y="1085.9" width="2" height="5.2" fill="#004eff"/>
<rect x="918.0" y="1068.4" width="2" height="2.4" fill="#0043ff"/>
<rect x="920.0" y="1106.1" width="2.5" height="15.7" fill="#1fffdf"/>
<rect x="920.0" y="1097.2" width="2.5" height="9.3" fill="#03fffb"/>
<rect x="920.0" y="1090.8" width="2.5" height="6.7" fill="#00b2ff"/>
<rect x="920.0" y="1085.9" width="2.5" height="5.2" fill="#0077ff"/>
<rect x="920.0" y="1081.8" width="2.5" height="4.3" fill="#005cff"/>
<rect x="920.0" y="1075.4" width="2.5" height="3.3" fill="#0062ff"/>
<rect x="920.0" y="1072.8" width="2.5" height="2.9" fill="#0053ff"/>
<rect x="922.5" y="1106.1" width="2.5" height="15.7" fill="#2effd0"/>
<rect x="922.5" y="1097.2" width="2.5" height="9.3" fill="#23ffdb"/>
<rect x="922.5" y="1090.8" width="2.5" height="6.7" fill="#1affe4"/>
<rect x="922.5" y="1085.9" width="2.5" height="5.2" fill="#0041ff"/>
<rect x="922.5" y="1075.4" width="2.5" height="3.3" fill="#0058ff"/>
<rect x="925.0" y="1106.1" width="1.5" height="15.7" fill="#00dcff"/>
<rect x="925.0" y="1097.2" width="1.5" height="9.3" fill="#004aff"/>
<rect x="925.0" y="1090.8" width="1.5" height="6.7" fill="#00d5ff"/>
<rect x="925.0" y="1085.9" width="1.5" height="5.2" fill="#007cff"/>
<rect x="925.0" y="1081.8" width="1.5" height="4.3" fill="#0070ff"/>
<rect x="925.0" y="1078.4" width="1.5" height="3.7" fill="#005aff"/>
<rect x="925.0" y="1070.5" width="1.5" height="2.6" fill="#0047ff"/>
<rect x="926.5" y="1106.1" width="2" height="15.7" fill="#04fffa"/>
<rect x="926.5" y="1097.2" width="2" height="9.3" fill="#009fff"/>
<rect x="926.5" y="1090.8" width="2" height="6.7" fill="#00e0ff"/>
<rect x="926.5" y="1085.9" width="2" height="5.2" fill="#008dff"/>
<rect x="926.5" y="1078.4" width="2" height="3.7" fill="#006cff"/>
<rect x="928.5" y="1106.1" width="2.5" height="15.7" fill="#00cfff"/>
<rect x="928.5" y="1097.2" width="2.5" height="9.3" fill="#00a4ff"/>
<rect x="928.5" y="1090.8" width="2.5" height="6.7" fill="#00f3ff"/>
<rect x="928.5" y="1075.4" width="2.5" height="3.3" fill="#0056ff"/>
<rect x="931.0" y="1106.1" width="3" height="15.7" fill="#00daff"/>
<rect x="931.0" y="1097.2" width="3" height="9.3" fill="#49ffb5"/>
<rect x="931.0" y="1090.8" width="3" height="6.7" fill="#1affe4"/>
<rect x="931.0" y="1085.9" width="3" height="5.2" fill="#006eff"/>
<rect x="931.0" y="1081.8" width="3" height="4.3" fill="#0077ff"/>
<rect x="931.0" y="1075.4" width="3" height="3.3" fill="#0068ff"/>
<rect x="931.0" y="1072.8" width="3" height="2.9" fill="#0046ff"/>
<rect x="934.0" y="1106.1" width="2.5" height="15.7" fill="#0fffef"/>
<rect x="934.0" y="1097.2" width="2.5" height="9.3" fill="#0094ff"/>
<rect x="934.0" y="1090.8" width="2.5" height="6.7" fill="#0073ff"/>
<rect x="934.0" y="1085.9" width="2.5" height="5.2" fill="#004bff"/>
<rect x="934.0" y="1081.8" width="2.5" height="4.3" fill="#006eff"/>
<rect x="934.0" y="1078.4" width="2.5" height="3.7" fill="#0053ff"/>
<rect x="934.0" y="1075.4" width="2.5" height="3.3" fill="#0067ff"/>
<rect x="934.0" y="1068.4" width="2.5" height="2.4" fill="#003eff"/>
<rect x="936.5" y="1106.1" width="1.5" height="15.7" fill="#00efff"/>
<rect x="936.5" y="1097.2" width="1.5" height="9.3" fill="#00efff"/>
<rect x="936.5" y="1090.8" width="1.5" height="6.7" fill="#0048ff"/>
<rect x="936.5" y="1085.9" width="1.5" height="5.2" fill="#00a4ff"/>
<rect x="936.5" y="1081.8" width="1.5" height="4.3" fill="#0089ff"/>
<rect x="936.5" y="1078.4" width="1.5" height="3.7" fill="#0078ff"/>
<rect x="936.5" y="1075.4" width="1.5" height="3.3" fill="#0052ff"/>
<rect x="936.5" y="1068.4" width="1.5" height="2.4" fill="#0046ff"/>
<rect x="938.0" y="1106.1" width="2.5" height="15.7" fill="#0061ff"/>
<rect x="938.0" y="1097.2" width="2.5" height="9.3" fill="#0068ff"/>
<rect x="938.0" y="1090.8" width="2.5" height="6.7" fill="#0bfff3"/>
<rect x="938.0" y="1085.9" width="2.5" height="5.2" fill="#0051ff"/>
<rect x="938.0" y="1081.8" width="2.5" height="4.3" fill="#005aff"/>
<rect x="938.0" y="1075.4" width="2.5" height="3.3" fill="#0062ff"/>
<rect x="938.0" y="1072.8" width="2.5" height="2.9" fill="#005aff"/>
<rect x="940.5" y="1106.1" width="1.5" height="15.7" fill="#00d9ff"/>
<rect x="940.5" y="1097.2" width="1.5" height="9.3" fill="#3effc0"/>
<rect x="940.5" y="1090.8" width="1.5" height="6.7" fill="#005fff"/>
<rect x="940.5" y="1081.8" width="1.5" height="4.3" fill="#0070ff"/>
<rect x="940.5" y="1078.4" width="1.5" height="3.7" fill="#0078ff"/>
<rect x="940.5" y="1072.8" width="1.5" height="2.9" fill="#0054ff"/>
<rect x="940.5" y="1070.5" width="1.5" height="2.6" fill="#004aff"/>
<rect x="942.0" y="1106.1" width="2" height="15.7" fill="#39ffc5"/>
<rect x="942.0" y="1097.2" width="2" height="9.3" fill="#00d0ff"/>
<rect x="942.0" y="1090.8" width="2" height="6.7" fill="#0095ff"/>
<rect x="942.0" y="1078.4" width="2" height="3.7" fill="#004cff"/>
<rect x="942.0" y="1075.4" width="2" height="3.3" fill="#0064ff"/>
<rect x="942.0" y="1072.8" width="2" height="2.9" fill="#0041ff"/>
<rect x="942.0" y="1070.5" width="2" height="2.6" fill="#0051ff"/>
<rect x="944.0" y="1106.1" width="1.5" height="15.7" fill="#3cffc2"/>
<rect x="944.0" y="1097.2" width="1.5" height="9.3" fill="#0067ff"/>
<rect x="944.0" y="1090.8" width="1.5" height="6.7" fill="#0048ff"/>
<rect x="944.0" y="1085.9" width="1.5" height="5.2" fill="#00c8ff"/>
<rect x="945.5" y="1106.1" width="1.5" height="15.7" fill="#00d7ff"/>
<rect x="945.5" y="1097.2" width="1.5" height="9.3" fill="#006aff"/>
<rect x="945.5" y="1090.8" width="1.5" height="6.7" fill="#00deff"/>
<rect x="945.5" y="1081.8" width="1.5" height="4.3" fill="#007aff"/>
<rect x="945.5" y="1075.4" width="1.5" height="3.3" fill="#0062ff"/>
<rect x="945.5" y="1070.5" width="1.5" height="2.6" fill="#003eff"/>
<rect x="947.0" y="1106.1" width="3" height="15.7" fill="#00c4ff"/>
<rect x="947.0" y="1097.2" width="3" height="9.3" fill="#00d5ff"/>
<rect x="947.0" y="1090.8" width="3" height="6.7" fill="#01fffd"/>
<rect x="947.0" y="1085.9" width="3" height="5.2" fill="#009dff"/>
<rect x="947.0" y="1075.4" width="3" height="3.3" fill="#0062ff"/>
<rect x="947.0" y="1072.8" width="3" height="2.9" fill="#0045ff"/>
<rect x="955.0" y="1106.1" width="1.5" height="15.7" fill="#007bff"/>
<rect x="955.0" y="1097.2" width="1.5" height="9.3" fill="#0065ff"/>
<rect x="955.0" y="1090.8" width="1.5" height="6.7" fill="#0076ff"/>
<rect x="955.0" y="1085.9" width="1.5" height="5.2" fill="#008eff"/>
<rect x="955.0" y="1081.8" width="1.5" height="4.3" fill="#005eff"/>
<rect x="955.0" y="1078.4" width="1.5" height="3.7" fill="#0058ff"/>
<rect x="956.5" y="1106.1" width="3" height="15.7" fill="#0077ff"/>
<rect x="956.5" y="1097.2" width="3" height="9.3" fill="#00b5ff"/>
<rect x="956.5" y="1090.8" width="3" height="6.7" fill="#0048ff"/>
<rect x="956.5" y="1085.9" width="3" height="5.2" fill="#009cff"/>
<rect x="956.5" y="1081.8" width="3" height="4.3" fill="#0044ff"/>
<rect x="956.5" y="1075.4" width="3" height="3.3" fill="#0055ff"/>
<rect x="959.5" y="1106.1" width="3" height="15.7" fill="#00afff"/>
<rect x="959.5" y="1097.2" width="3" height="9.3" fill="#0095ff"/>
<rect x="959.5" y="1090.8" width="3" height="6.7" fill="#0058ff"/>
<rect x="959.5" y="1078.4" width="3" height="3.7" fill="#0052ff"/>
<rect x="959.5" y="1075.4" width="3" height="3.3" fill="#0045ff"/>
<rect x="962.5" y="1106.1" width="2" height="15.7" fill="#007eff"/>
<rect x="962.5" y="1097.2" width="2" height="9.3" fill="#0055ff"/>
<rect x="962.5" y="1090.8" width="2" height="6.7" fill="#00bbff"/>
<rect x="962.5" y="1085.9" width="2" height="5.2" fill="#003fff"/>
<rect x="962.5" y="1081.8" width="2" height="4.3" fill="#006dff"/>
<rect x="962.5" y="1078.4" width="2" height="3.7" fill="#004fff"/>
<rect x="962.5" y="1070.5" width="2" height="2.6" fill="#0041ff"/>
<rect x="964.5" y="1106.1" width="2.5" height="15.7" fill="#0067ff"/>
<rect x="964.5" y="1097.2" width="2.5" height="9.3" fill="#005eff"/>
<rect x="964.5" y="1090.8" width="2.5" height="6.7" fill="#00bcff"/>
<rect x="964.5" y="1085.9" width="2.5" height="5.2" fill="#0093ff"/>
<rect x="967.0" y="1106.1" width="1.5" height="15.7" fill="#007cff"/>
<rect x="967.0" y="1097.2" width="1.5" height="9.3" fill="#0051ff"/>
<rect x="967.0" y="1090.8" width="1.5" height="6.7" fill="#00aeff"/>
<rect x="967.0" y="1085.9" width="1.5" height="5.2" fill="#0067ff"/>
<rect x="967.0" y="1081.8" width="1.5" height="4.3" fill="#005aff"/>
<rect x="968.5" y="1106.1" width="2" height="15.7" fill="#007cff"/>
<rect x="968.5" y="1097.2" width="2" height="9.3" fill="#005dff"/>
<rect x="968.5" y="1090.8" width="2" height="6.7" fill="#007dff"/>
<rect x="968.5" y="1085.9" width="2" height="5.2" fill="#007cff"/>
<rect x="970.5" y="1106.1" width="3" height="15.7" fill="#00b4ff"/>
<rect x="970.5" y="1097.2" width="3" height="9.3" fill="#00e7ff"/>
<rect x="970.5" y="1090.8" width="3" height="6.7" fill="#0074ff"/>
<rect x="970.5" y="1085.9" width="3" height="5.2" fill="#0046ff"/>
<rect x="970.5" y="1081.8" width="3" height="4.3" fill="#0069ff"/>
<rect x="973.5" y="1106.1" width="3" height="15.7" fill="#004cff"/>
<rect x="973.5" y="1097.2" width="3" height="9.3" fill="#00bfff"/>
<rect x="973.5" y="1090.8" width="3" height="6.7" fill="#00c7ff"/>
<rect x="973.5" y="1085.9" width="3" height="5.2" fill="#003fff"/>
<rect x="973.5" y="1075.4" width="3" height="3.3" fill="#0043ff"/>
<rect x="976.5" y="1106.1" width="2.5" height="15.7" fill="#00f3ff"/>
<rect x="976.5" y="1097.2" width="2.5" height="9.3" fill="#00fffe"/>
<rect x="976.5" y="1090.8" width="2.5" height="6.7" fill="#0098ff"/>
<rect x="976.5" y="1078.4" width="2.5" height="3.7" fill="#0049ff"/>
<rect x="979.0" y="1106.1" width="2" height="15.7" fill="#00a8ff"/>
<rect x="979.0" y="1097.2" width="2" height="9.3" fill="#0052ff"/>
<rect x="979.0" y="1090.8" width="2" height="6.7" fill="#00a0ff"/>
<rect x="981.0" y="1106.1" width="2.5" height="15.7" fill="#00a8ff"/>
<rect x="981.0" y="1097.2" width="2.5" height="9.3" fill="#00ebff"/>
<rect x="981.0" y="1090.8" width="2.5" height="6.7" fill="#00caff"/>
<rect x="981.0" y="1085.9" width="2.5" height="5.2" fill="#0043ff"/>
<rect x="981.0" y="1081.8" width="2.5" height="4.3" fill="#0050ff"/>
<rect x="981.0" y="1078.4" width="2.5" height="3.7" fill="#005cff"/>
<rect x="983.5" y="1106.1" width="2" height="15.7" fill="#00a6ff"/>
<rect x="983.5" y="1090.8" width="2" height="6.7" fill="#00ebff"/>
<rect x="983.5" y="1078.4" width="2" height="3.7" fill="#004eff"/>
<rect x="983.5" y="1075.4" width="2" height="3.3" fill="#0051ff"/>
<rect x="985.5" y="1106.1" width="2" height="15.7" fill="#00daff"/>
<rect x="985.5" y="1097.2" width="2" height="9.3" fill="#00afff"/>
<rect x="985.5" y="1090.8" width="2" height="6.7" fill="#00caff"/>
<rect x="985.5" y="1085.9" width="2" height="5.2" fill="#0096ff"/>
<rect x="985.5" y="1081.8" width="2" height="4.3" fill="#003eff"/>
<rect x="985.5" y="1075.4" width="2" height="3.3" fill="#0041ff"/>
<rect x="987.5" y="1106.1" width="3" height="15.7" fill="#0066ff"/>
<rect x="987.5" y="1097.2" width="3" height="9.3" fill="#0060ff"/>
<rect x="987.5" y="1090.8" width="3" height="6.7" fill="#003dff"/>
<rect x="987.5" y="1081.8" width="3" height="4.3" fill="#0075ff"/>
<rect x="987.5" y="1078.4" width="3" height="3.7" fill="#005eff"/>
<rect x="987.5" y="1072.8" width="3" height="2.9" fill="#003fff"/>
<rect x="990.5" y="1106.1" width="2" height="15.7" fill="#005eff"/>
<rect x="990.5" y="1097.2" width="2" height="9.3" fill="#14ffea"/>
<rect x="990.5" y="1090.8" width="2" height="6.7" fill="#008cff"/>
<rect x="990.5" y="1085.9" width="2" height="5.2" fill="#0074ff"/>
<rect x="990.5" y="1081.8" width="2" height="4.3" fill="#004fff"/>
<rect x="992.5" y="1106.1" width="2.5" height="15.7" fill="#004dff"/>
<rect x="992.5" y="1097.2" width="2.5" height="9.3" fill="#0083ff"/>
<rect x="992.5" y="1085.9" width="2.5" height="5.2" fill="#0088ff"/>
<rect x="992.5" y="1081.8" width="2.5" height="4.3" fill="#0055ff"/>
<rect x="992.5" y="1078.4" width="2.5" height="3.7" fill="#0044ff"/>
<rect x="995.0" y="1106.1" width="3" height="15.7" fill="#16ffe8"/>
<rect x="995.0" y="1097.2" width="3" height="9.3" fill="#00a0ff"/>
<rect x="995.0" y="1090.8" width="3" height="6.7" fill="#00d2ff"/>
<rect x="995.0" y="1085.9" width="3" height="5.2" fill="#008fff"/>
<rect x="995.0" y="1081.8" width="3" height="4.3" fill="#0072ff"/>
<rect x="995.0" y="1070.5" width="3" height="2.6" fill="#003eff"/>
<rect x="998.0" y="1106.1" width="1.5" height="15.7" fill="#05fff9"/>
<rect x="998.0" y="1097.2" width="1.5" height="9.3" fill="#00a7ff"/>
<rect x="998.0" y="1090.8" width="1.5" height="6.7" fill="#00c1ff"/>
<rect x="998.0" y="1085.9" width="1.5" height="5.2" fill="#0099ff"/>
<rect x="998.0" y="1081.8" width="1.5" height="4.3" fill="#006dff"/>
<rect x="998.0" y="1078.4" width="1.5" height="3.7" fill="#004fff"/>
<rect x="998.0" y="1075.4" width="1.5" height="3.3" fill="#0056ff"/>
<rect x="999.5" y="1106.1" width="2.5" height="15.7" fill="#00b4ff"/>
<rect x="999.5" y="1097.2" width="2.5" height="9.3" fill="#00f1ff"/>
<rect x="999.5" y="1090.8" width="2.5" height="6.7" fill="#00daff"/>
<rect x="999.5" y="1085.9" width="2.5" height="5.2" fill="#0090ff"/>
<rect x="999.5" y="1072.8" width="2.5" height="2.9" fill="#0041ff"/>
<rect x="1002.0" y="1106.1" width="2" height="15.7" fill="#00a1ff"/>
<rect x="1002.0" y="1097.2" width="2" height="9.3" fill="#0054ff"/>
<rect x="1002.0" y="1090.8" width="2" height="6.7" fill="#008bff"/>
<rect x="1002.0" y="1085.9" width="2" height="5.2" fill="#005dff"/>
<rect x="1002.0" y="1078.4" width="2" height="3.7" fill="#0058ff"/>
<rect x="1002.0" y="1075.4" width="2" height="3.3" fill="#0041ff"/>
<rect x="1004.0" y="1106.1" width="2" height="15.7" fill="#00d5ff"/>
<rect x="1004.0" y="1097.2" width="2" height="9.3" fill="#007aff"/>
<rect x="1004.0" y="1090.8" width="2" height="6.7" fill="#00caff"/>
<rect x="1006.0" y="1106.1" width="2" height="15.7" fill="#009bff"/>
<rect x="1006.0" y="1097.2" width="2" height="9.3" fill="#00f7ff"/>
<rect x="1006.0" y="1090.8" width="2" height="6.7" fill="#0073ff"/>
<rect x="1006.0" y="1085.9" width="2" height="5.2" fill="#007eff"/>
<rect x="1006.0" y="1081.8" width="2" height="4.3" fill="#0064ff"/>
<rect x="1006.0" y="1078.4" width="2" height="3.7" fill="#0052ff"/>
<rect x="1008.0" y="1106.1" width="2.5" height="15.7" fill="#00bcff"/>
<rect x="1008.0" y="1097.2" width="2.5" height="9.3" fill="#006dff"/>
<rect x="1008.0" y="1085.9" width="2.5" height="5.2" fill="#0092ff"/>
<rect x="1008.0" y="1081.8" width="2.5" height="4.3" fill="#0062ff"/>
<rect x="1008.0" y="1078.4" width="2.5" height="3.7" fill="#0043ff"/>
<rect x="1010.5" y="1106.1" width="2.5" height="15.7" fill="#0057ff"/>
<rect x="1010.5" y="1097.2" width="2.5" height="9.3" fill="#00faff"/>
<rect x="1010.5" y="1090.8" width="2.5" height="6.7" fill="#005bff"/>
<rect x="1010.5" y="1075.4" width="2.5" height="3.3" fill="#0046ff"/>
<rect x="1010.5" y="1070.5" width="2.5" height="2.6" fill="#003fff"/>
<rect x="1013.0" y="1106.1" width="1.5" height="15.7" fill="#00feff"/>
<rect x="1013.0" y="1097.2" width="1.5" height="9.3" fill="#00d9ff"/>
<rect x="1013.0" y="1090.8" width="1.5" height="6.7" fill="#005fff"/>
<rect x="1013.0" y="1085.9" width="1.5" height="5.2" fill="#0086ff"/>
<rect x="1013.0" y="1081.8" width="1.5" height="4.3" fill="#004cff"/>
<rect x="1013.0" y="1078.4" width="1.5" height="3.7" fill="#0048ff"/>
<rect x="1014.5" y="1106.1" width="2" height="15.7" fill="#0079ff"/>
<rect x="1014.5" y="1097.2" width="2" height="9.3" fill="#003dff"/>
<rect x="1014.5" y="1090.8" width="2" height="6.7" fill="#004cff"/>
<rect x="1014.5" y="1075.4" width="2" height="3.3" fill="#0055ff"/>
<rect x="1016.5" y="1106.1" width="2.5" height="15.7" fill="#00fbff"/>
<rect x="1016.5" y="1097.2" width="2.5" height="9.3" fill="#004aff"/>
<rect x="1016.5" y="1090.8" width="2.5" height="6.7" fill="#00eaff"/>
<rect x="1016.5" y="1085.9" width="2.5" height="5.2" fill="#0073ff"/>
<rect x="1016.5" y="1081.8" width="2.5" height="4.3" fill="#004bff"/>
<rect x="1016.5" y="1072.8" width="2.5" height="2.9" fill="#0048ff"/>
<rect x="1016.5" y="1070.5" width="2.5" height="2.6" fill="#0040ff"/>
<rect x="1019.0" y="1106.1" width="1.5" height="15.7" fill="#004fff"/>
<rect x="1019.0" y="1097.2" width="1.5" height="9.3" fill="#0078ff"/>
<rect x="1019.0" y="1090.8" width="1.5" height="6.7" fill="#00adff"/>
<rect x="1019.0" y="1085.9" width="1.5" height="5.2" fill="#0094ff"/>
<rect x="1019.0" y="1081.8" width="1.5" height="4.3" fill="#007aff"/>
<rect x="1019.0" y="1075.4" width="1.5" height="3.3" fill="#0049ff"/>
<rect x="1020.5" y="1106.1" width="2" height="15.7" fill="#0080ff"/>
<rect x="1020.5" y="1097.2" width="2" height="9.3" fill="#0099ff"/>
<rect x="1020.5" y="1090.8" width="2" height="6.7" fill="#0050ff"/>
<rect x="1020.5" y="1085.9" width="2" height="5.2" fill="#006eff"/>
<rect x="1022.5" y="1106.1" width="3" height="15.7" fill="#0080ff"/>
<rect x="1022.5" y="1097.2" width="3" height="9.3" fill="#0afff4"/>
<rect x="1022.5" y="1090.8" width="3" height="6.7" fill="#005cff"/>
<rect x="1022.5" y="1085.9" width="3" height="5.2" fill="#00a5ff"/>
<rect x="1022.5" y="1075.4" width="3" height="3.3" fill="#0041ff"/>
<rect x="1025.5" y="1106.1" width="2.5" height="15.7" fill="#009aff"/>
<rect x="1025.5" y="1097.2" width="2.5" height="9.3" fill="#00f5ff"/>
<rect x="1025.5" y="1090.8" width="2.5" height="6.7" fill="#00ecff"/>
<rect x="1025.5" y="1085.9" width="2.5" height="5.2" fill="#00a3ff"/>
<rect x="1025.5" y="1081.8" width="2.5" height="4.3" fill="#0067ff"/>
<rect x="1028.0" y="1106.1" width="2.5" height="15.7" fill="#16ffe8"/>
<rect x="1028.0" y="1097.2" width="2.5" height="9.3" fill="#006eff"/>
<rect x="1028.0" y="1090.8" width="2.5" height="6.7" fill="#00d3ff"/>
<rect x="1028.0" y="1085.9" width="2.5" height="5.2" fill="#0082ff"/>
<rect x="1028.0" y="1081.8" width="2.5" height="4.3" fill="#004aff"/>
<rect x="1030.5" y="1106.1" width="2" height="15.7" fill="#00b0ff"/>
<rect x="1030.5" y="1097.2" width="2" height="9.3" fill="#0043ff"/>
<rect x="1030.5" y="1090.8" width="2" height="6.7" fill="#00b8ff"/>
<rect x="1030.5" y="1085.9" width="2" height="5.2" fill="#008aff"/>
<rect x="1032.5" y="1106.1" width="1.5" height="15.7" fill="#00cfff"/>
<rect x="1032.5" y="1097.2" width="1.5" height="9.3" fill="#00c8ff"/>
<rect x="1032.5" y="1090.8" width="1.5" height="6.7" fill="#0046ff"/>
<rect x="1032.5" y="1085.9" width="1.5" height="5.2" fill="#00a5ff"/>
<rect x="1032.5" y="1078.4" width="1.5" height="3.7" fill="#0040ff"/>
<rect x="1034.0" y="1106.1" width="1.5" height="15.7" fill="#00e9ff"/>
<rect x="1034.0" y="1097.2" width="1.5" height="9.3" fill="#005cff"/>
<rect x="1034.0" y="1090.8" width="1.5" height="6.7" fill="#006cff"/>
<rect x="1034.0" y="1085.9" width="1.5" height="5.2" fill="#0052ff"/>
<rect x="1034.0" y="1078.4" width="1.5" height="3.7" fill="#0061ff"/>
<rect x="1034.0" y="1075.4" width="1.5" height="3.3" fill="#003fff"/>
<rect x="1035.5" y="1106.1" width="2" height="15.7" fill="#006cff"/>
<rect x="1035.5" y="1097.2" width="2" height="9.3" fill="#0063ff"/>
<rect x="1035.5" y="1090.8" width="2" height="6.7" fill="#00ecff"/>
<rect x="1037.5" y="1106.1" width="2" height="15.7" fill="#00abff"/>
<rect x="1037.5" y="1097.2" width="2" height="9.3" fill="#0089ff"/>
<rect x="1037.5" y="1090.8" width="2" height="6.7" fill="#0062ff"/>
<rect x="1037.5" y="1085.9" width="2" height="5.2" fill="#009dff"/>
<rect x="1037.5" y="1081.8" width="2" height="4.3" fill="#0075ff"/>
<rect x="1037.5" y="1078.4" width="2" height="3.7" fill="#004bff"/>
<rect x="1037.5" y="1072.8" width="2" height="2.9" fill="#0048ff"/>
<rect x="1039.5" y="1106.1" width="2" height="15.7" fill="#00afff"/>
<rect x="1039.5" y="1097.2" width="2" height="9.3" fill="#00d9ff"/>
<rect x="1039.5" y="1090.8" width="2" height="6.7" fill="#003cff"/>
<rect x="1039.5" y="1085.9" width="2" height="5.2" fill="#004aff"/>
<rect x="1039.5" y="1081.8" width="2" height="4.3" fill="#0042ff"/>
<rect x="1041.5" y="1106.1" width="2" height="15.7" fill="#0069ff"/>
<rect x="1041.5" y="1097.2" width="2" height="9.3" fill="#00e8ff"/>
<rect x="1041.5" y="1090.8" width="2" height="6.7" fill="#004dff"/>
<rect x="1041.5" y="1081.8" width="2" height="4.3" fill="#003cff"/>
<rect x="1041.5" y="1078.4" width="2" height="3.7" fill="#0056ff"/>
<rect x="1043.5" y="1106.1" width="2" height="15.7" fill="#00afff"/>
<rect x="1043.5" y="1097.2" width="2" height="9.3" fill="#07fff7"/>
<rect x="1043.5" y="1090.8" width="2" height="6.7" fill="#00b8ff"/>
<rect x="1043.5" y="1085.9" width="2" height="5.2" fill="#005eff"/>
<rect x="1043.5" y="1081.8" width="2" height="4.3" fill="#004fff"/>
<rect x="1045.5" y="1106.1" width="1.5" height="15.7" fill="#05fff9"/>
<rect x="1045.5" y="1097.2" width="1.5" height="9.3" fill="#00a1ff"/>
<rect x="1045.5" y="1090.8" width="1.5" height="6.7" fill="#003fff"/>
<rect x="1045.5" y="1081.8" width="1.5" height="4.3" fill="#005bff"/>
<rect x="1047.0" y="1106.1" width="1.5" height="15.7" fill="#005dff"/>
<rect x="1047.0" y="1097.2" width="1.5" height="9.3" fill="#008bff"/>
<rect x="1047.0" y="1090.8" width="1.5" height="6.7" fill="#004fff"/>
<rect x="1047.0" y="1078.4" width="1.5" height="3.7" fill="#004bff"/>
<rect x="1047.0" y="1070.5" width="1.5" height="2.6" fill="#003fff"/>
<rect x="1048.5" y="1106.1" width="3" height="15.7" fill="#14ffea"/>
<rect x="1048.5" y="1097.2" width="3" height="9.3" fill="#00ccff"/>
<rect x="1048.5" y="1090.8" width="3" height="6.7" fill="#007cff"/>
<rect x="1048.5" y="1085.9" width="3" height="5.2" fill="#00a5ff"/>
<rect x="1048.5" y="1081.8" width="3" height="4.3" fill="#0073ff"/>
<rect x="1051.5" y="1106.1" width="2" height="15.7" fill="#00fffe"/>
<rect x="1051.5" y="1097.2" width="2" height="9.3" fill="#00ddff"/>
<rect x="1051.5" y="1090.8" width="2" height="6.7" fill="#0082ff"/>
<rect x="1051.5" y="1085.9" width="2" height="5.2" fill="#009fff"/>
<rect x="1051.5" y="1081.8" width="2" height="4.3" fill="#0074ff"/>
<rect x="1051.5" y="1075.4" width="2" height="3.3" fill="#0057ff"/>
<rect x="1053.5" y="1097.2" width="1.5" height="9.3" fill="#00bbff"/>
<rect x="1053.5" y="1090.8" width="1.5" height="6.7" fill="#0045ff"/>
<rect x="1055.0" y="1106.1" width="2" height="15.7" fill="#00cdff"/>
<rect x="1055.0" y="1097.2" width="2" height="9.3" fill="#00b6ff"/>
<rect x="1055.0" y="1090.8" width="2" height="6.7" fill="#0077ff"/>
<rect x="1055.0" y="1085.9" width="2" height="5.2" fill="#006bff"/>
<rect x="1055.0" y="1078.4" width="2" height="3.7" fill="#0041ff"/>
<rect x="1057.0" y="1106.1" width="2.5" height="15.7" fill="#003dff"/>
<rect x="1057.0" y="1097.2" width="2.5" height="9.3" fill="#00d6ff"/>
<rect x="1057.0" y="1090.8" width="2.5" height="6.7" fill="#007eff"/>
<rect x="1057.0" y="1078.4" width="2.5" height="3.7" fill="#0048ff"/>
<rect x="1059.5" y="1106.1" width="2.5" height="15.7" fill="#00e4ff"/>
<rect x="1059.5" y="1097.2" width="2.5" height="9.3" fill="#00adff"/>
<rect x="1059.5" y="1090.8" width="2.5" height="6.7" fill="#0062ff"/>
<rect x="1059.5" y="1085.9" width="2.5" height="5.2" fill="#0080ff"/>
<rect x="1062.0" y="1106.1" width="3" height="15.7" fill="#00aaff"/>
<rect x="1062.0" y="1090.8" width="3" height="6.7" fill="#007bff"/>
<rect x="1062.0" y="1085.9" width="3" height="5.2" fill="#005eff"/>
<rect x="1065.0" y="1106.1" width="3" height="15.7" fill="#005aff"/>
<rect x="1065.0" y="1097.2" width="3" height="9.3" fill="#00daff"/>
<rect x="1068.0" y="1106.1" width="1.5" height="15.7" fill="#005eff"/>
<rect x="1068.0" y="1097.2" width="1.5" height="9.3" fill="#00aeff"/>
<rect x="1068.0" y="1090.8" width="1.5" height="6.7" fill="#0082ff"/>
<rect x="1068.0" y="1085.9" width="1.5" height="5.2" fill="#0073ff"/>
<rect x="1068.0" y="1075.4" width="1.5" height="3.3" fill="#0042ff"/>
<rect x="1069.5" y="1090.8" width="2" height="6.7" fill="#007fff"/>
<rect x="1069.5" y="1085.9" width="2" height="5.2" fill="#0058ff"/>
<rect x="1069.5" y="1078.4" width="2" height="3.7" fill="#0040ff"/>
<rect x="1071.5" y="1106.1" width="3" height="15.7" fill="#007bff"/>
<rect x="1071.5" y="1097.2" width="3" height="9.3" fill="#00a4ff"/>
<rect x="1071.5" y="1090.8" width="3" height="6.7" fill="#0060ff"/>
<rect x="1071.5" y="1085.9" width="3" height="5.2" fill="#0074ff"/>
<rect x="1074.5" y="1106.1" width="3" height="15.7" fill="#00e4ff"/>
<rect x="1074.5" y="1097.2" width="3" height="9.3" fill="#003cff"/>
<rect x="1074.5" y="1090.8" width="3" height="6.7" fill="#00a1ff"/>
<rect x="1074.5" y="1078.4" width="3" height="3.7" fill="#0041ff"/>
<rect x="1077.5" y="1106.1" width="2.5" height="15.7" fill="#0089ff"/>
<rect x="1077.5" y="1097.2" width="2.5" height="9.3" fill="#0048ff"/>
<rect x="1077.5" y="1090.8" width="2.5" height="6.7" fill="#0096ff"/>
<rect x="1077.5" y="1085.9" width="2.5" height="5.2" fill="#0079ff"/>
<rect x="1077.5" y="1081.8" width="2.5" height="4.3" fill="#005cff"/>
<rect x="1080.0" y="1106.1" width="2" height="15.7" fill="#0056ff"/>
<rect x="1080.0" y="1097.2" width="2" height="9.3" fill="#00bcff"/>
<rect x="1080.0" y="1090.8" width="2" height="6.7" fill="#0095ff"/>
<rect x="1080.0" y="1078.4" width="2" height="3.7" fill="#0046ff"/>
<rect x="1082.0" y="1106.1" width="2" height="15.7" fill="#0092ff"/>
<rect x="1082.0" y="1097.2" width="2" height="9.3" fill="#00d6ff"/>
<rect x="1082.0" y="1090.8" width="2" height="6.7" fill="#007fff"/>
<rect x="1082.0" y="1081.8" width="2" height="4.3" fill="#005dff"/>
<rect x="1084.0" y="1106.1" width="3" height="15.7" fill="#00dfff"/>
<rect x="1084.0" y="1097.2" width="3" height="9.3" fill="#004fff"/>
<rect x="1084.0" y="1090.8" width="3" height="6.7" fill="#0061ff"/>
<rect x="1084.0" y="1085.9" width="3" height="5.2" fill="#0045ff"/>
<rect x="1087.0" y="1106.1" width="2" height="15.7" fill="#00c4ff"/>
<rect x="1087.0" y="1097.2" width="2" height="9.3" fill="#008dff"/>
<rect x="1087.0" y="1090.8" width="2" height="6.7" fill="#00bbff"/>
<rect x="1087.0" y="1081.8" width="2" height="4.3" fill="#003dff"/>
<rect x="1089.0" y="1106.1" width="1.5" height="15.7" fill="#0087ff"/>
<rect x="1089.0" y="1097.2" width="1.5" height="9.3" fill="#00a0ff"/>
<rect x="1089.0" y="1090.8" width="1.5" height="6.7" fill="#0055ff"/>
<rect x="1089.0" y="1081.8" width="1.5" height="4.3" fill="#0059ff"/>
<rect x="1090.5" y="1106.1" width="1.5" height="15.7" fill="#008aff"/>
<rect x="1090.5" y="1097.2" width="1.5" height="9.3" fill="#004cff"/>
<rect x="1090.5" y="1090.8" width="1.5" height="6.7" fill="#00bbff"/>
<rect x="1092.0" y="1106.1" width="2" height="15.7" fill="#00b5ff"/>
<rect x="1092.0" y="1097.2" width="2" height="9.3" fill="#00ceff"/>
<rect x="1092.0" y="1090.8" width="2" height="6.7" fill="#0065ff"/>
<rect x="1092.0" y="1081.8" width="2" height="4.3" fill="#005aff"/>
<rect x="1094.0" y="1106.1" width="1.5" height="15.7" fill="#00f4ff"/>
<rect x="1094.0" y="1097.2" width="1.5" height="9.3" fill="#00eaff"/>
<rect x="1094.0" y="1090.8" width="1.5" height="6.7" fill="#00a0ff"/>
<rect x="1094.0" y="1085.9" width="1.5" height="5.2" fill="#0067ff"/>
<rect x="1094.0" y="1081.8" width="1.5" height="4.3" fill="#0049ff"/>
<rect x="1094.0" y="1078.4" width="1.5" height="3.7" fill="#0051ff"/>
<rect x="1094.0" y="1075.4" width="1.5" height="3.3" fill="#004cff"/>
<rect x="1094.0" y="1068.4" width="1.5" height="2.4" fill="#003eff"/>
<rect x="1095.5" y="1106.1" width="2" height="15.7" fill="#00afff"/>
<rect x="1095.5" y="1097.2" width="2" height="9.3" fill="#22ffdc"/>
<rect x="1095.5" y="1090.8" width="2" height="6.7" fill="#06fff8"/>
<rect x="1095.5" y="1085.9" width="2" height="5.2" fill="#0065ff"/>
<rect x="1095.5" y="1078.4" width="2" height="3.7" fill="#0060ff"/>
<rect x="1095.5" y="1072.8" width="2" height="2.9" fill="#004fff"/>
<rect x="1097.5" y="1106.1" width="2" height="15.7" fill="#0081ff"/>
<rect x="1097.5" y="1097.2" width="2" height="9.3" fill="#23ffdb"/>
<rect x="1097.5" y="1090.8" width="2" height="6.7" fill="#00daff"/>
<rect x="1097.5" y="1085.9" width="2" height="5.2" fill="#0098ff"/>
<rect x="1097.5" y="1081.8" width="2" height="4.3" fill="#0079ff"/>
<rect x="1097.5" y="1070.5" width="2" height="2.6" fill="#003eff"/>
<rect x="1099.5" y="1106.1" width="2" height="15.7" fill="#00fbff"/>
<rect x="1099.5" y="1097.2" width="2" height="9.3" fill="#009fff"/>
<rect x="1099.5" y="1090.8" width="2" height="6.7" fill="#00d1ff"/>
<rect x="1099.5" y="1085.9" width="2" height="5.2" fill="#0041ff"/>
<rect x="1099.5" y="1081.8" width="2" height="4.3" fill="#0075ff"/>
<rect x="1099.5" y="1078.4" width="2" height="3.7" fill="#0060ff"/>
<rect x="1099.5" y="1075.4" width="2" height="3.3" fill="#0041ff"/>
<rect x="1099.5" y="1072.8" width="2" height="2.9" fill="#0047ff"/>
<rect x="1101.5" y="1106.1" width="2" height="15.7" fill="#00d2ff"/>
<rect x="1101.5" y="1097.2" width="2" height="9.3" fill="#0059ff"/>
<rect x="1101.5" y="1090.8" width="2" height="6.7" fill="#00aaff"/>
<rect x="1101.5" y="1085.9" width="2" height="5.2" fill="#00a6ff"/>
<rect x="1101.5" y="1081.8" width="2" height="4.3" fill="#004dff"/>
<rect x="1101.5" y="1078.4" width="2" height="3.7" fill="#0048ff"/>
<rect x="1103.5" y="1106.1" width="2" height="15.7" fill="#45ffb9"/>
<rect x="1103.5" y="1097.2" width="2" height="9.3" fill="#27ffd7"/>
<rect x="1103.5" y="1090.8" width="2" height="6.7" fill="#0097ff"/>
<rect x="1103.5" y="1085.9" width="2" height="5.2" fill="#0047ff"/>
<rect x="1103.5" y="1081.8" width="2" height="4.3" fill="#0052ff"/>
<rect x="1103.5" y="1075.4" width="2" height="3.3" fill="#0049ff"/>
<rect x="1105.5" y="1106.1" width="2.5" height="15.7" fill="#007cff"/>
<rect x="1105.5" y="1097.2" width="2.5" height="9.3" fill="#41ffbd"/>
<rect x="1105.5" y="1090.8" width="2.5" height="6.7" fill="#007eff"/>
<rect x="1105.5" y="1081.8" width="2.5" height="4.3" fill="#008aff"/>
<rect x="1105.5" y="1078.4" width="2.5" height="3.7" fill="#0057ff"/>
<rect x="1105.5" y="1075.4" width="2.5" height="3.3" fill="#0067ff"/>
<rect x="1105.5" y="1070.5" width="2.5" height="2.6" fill="#0047ff"/>
<rect x="1108.0" y="1106.1" width="2" height="15.7" fill="#44ffba"/>
<rect x="1108.0" y="1097.2" width="2" height="9.3" fill="#4dffb1"/>
<rect x="1108.0" y="1090.8" width="2" height="6.7" fill="#0041ff"/>
<rect x="1108.0" y="1085.9" width="2" height="5.2" fill="#0064ff"/>
<rect x="1108.0" y="1081.8" width="2" height="4.3" fill="#0078ff"/>
<rect x="1108.0" y="1078.4" width="2" height="3.7" fill="#0073ff"/>
<rect x="1108.0" y="1075.4" width="2" height="3.3" fill="#003cff"/>
<rect x="1108.0" y="1072.8" width="2" height="2.9" fill="#0054ff"/>
<rect x="1110.0" y="1106.1" width="1.5" height="15.7" fill="#35ffc9"/>
<rect x="1110.0" y="1097.2" width="1.5" height="9.3" fill="#0087ff"/>
<rect x="1110.0" y="1090.8" width="1.5" height="6.7" fill="#00ddff"/>
<rect x="1110.0" y="1085.9" width="1.5" height="5.2" fill="#00c5ff"/>
<rect x="1110.0" y="1081.8" width="1.5" height="4.3" fill="#0047ff"/>
<rect x="1110.0" y="1078.4" width="1.5" height="3.7" fill="#004dff"/>
<rect x="1110.0" y="1070.5" width="1.5" height="2.6" fill="#003eff"/>
<rect x="1111.5" y="1106.1" width="2" height="15.7" fill="#0062ff"/>
<rect x="1111.5" y="1097.2" width="2" height="9.3" fill="#00feff"/>
<rect x="1111.5" y="1090.8" width="2" height="6.7" fill="#0070ff"/>
<rect x="1111.5" y="1085.9" width="2" height="5.2" fill="#009cff"/>
<rect x="1111.5" y="1081.8" width="2" height="4.3" fill="#0059ff"/>
<rect x="1111.5" y="1072.8" width="2" height="2.9" fill="#0057ff"/>
<rect x="1111.5" y="1070.5" width="2" height="2.6" fill="#0043ff"/>
<rect x="1121.5" y="1106.1" width="3" height="15.7" fill="#00eeff"/>
<rect x="1121.5" y="1097.2" width="3" height="9.3" fill="#fff500"/>
<rect x="1121.5" y="1090.8" width="3" height="6.7" fill="#c4ff3a"/>
<rect x="1121.5" y="1085.9" width="3" height="5.2" fill="#18ffe6"/>
<rect x="1121.5" y="1081.8" width="3" height="4.3" fill="#00efff"/>
<rect x="1121.5" y="1078.4" width="3" height="3.7" fill="#0093ff"/>
<rect x="1121.5" y="1075.4" width="3" height="3.3" fill="#0084ff"/>
<rect x="1121.5" y="1070.5" width="3" height="2.6" fill="#006bff"/>
<rect x="1124.5" y="1106.1" width="3" height="15.7" fill="#4affb4"/>
<rect x="1124.5" y="1097.2" width="3" height="9.3" fill="#cfff2f"/>
<rect x="1124.5" y="1090.8" width="3" height="6.7" fill="#74ff8a"/>
<rect x="1124.5" y="1085.9" width="3" height="5.2" fill="#32ffcc"/>
<rect x="1124.5" y="1078.4" width="3" height="3.7" fill="#006cff"/>
<rect x="1124.5" y="1075.4" width="3" height="3.3" fill="#00aaff"/>
<rect x="1127.5" y="1106.1" width="3" height="15.7" fill="#7cff82"/>
<rect x="1127.5" y="1097.2" width="3" height="9.3" fill="#4bffb3"/>
<rect x="1127.5" y="1090.8" width="3" height="6.7" fill="#008dff"/>
<rect x="1127.5" y="1085.9" width="3" height="5.2" fill="#00ecff"/>
<rect x="1127.5" y="1072.8" width="3" height="2.9" fill="#0081ff"/>
<rect x="1127.5" y="1070.5" width="3" height="2.6" fill="#0084ff"/>
<rect x="1127.5" y="1068.4" width="3" height="2.4" fill="#0072ff"/>
<rect x="1130.5" y="1106.1" width="2.5" height="15.7" fill="#00d9ff"/>
<rect x="1130.5" y="1097.2" width="2.5" height="9.3" fill="#17ffe7"/>
<rect x="1130.5" y="1090.8" width="2.5" height="6.7" fill="#009cff"/>
<rect x="1130.5" y="1085.9" width="2.5" height="5.2" fill="#00edff"/>
<rect x="1130.5" y="1081.8" width="2.5" height="4.3" fill="#00b5ff"/>
<rect x="1130.5" y="1078.4" width="2.5" height="3.7" fill="#0089ff"/>
<rect x="1130.5" y="1075.4" width="2.5" height="3.3" fill="#0095ff"/>
<rect x="1133.0" y="1106.1" width="2.5" height="15.7" fill="#16ffe8"/>
<rect x="1133.0" y="1097.2" width="2.5" height="9.3" fill="#00cdff"/>
<rect x="1133.0" y="1090.8" width="2.5" height="6.7" fill="#b8ff46"/>
<rect x="1133.0" y="1085.9" width="2.5" height="5.2" fill="#00d8ff"/>
<rect x="1133.0" y="1081.8" width="2.5" height="4.3" fill="#00e5ff"/>
<rect x="1133.0" y="1078.4" width="2.5" height="3.7" fill="#0068ff"/>
<rect x="1133.0" y="1070.5" width="2.5" height="2.6" fill="#0083ff"/>
<rect x="1135.5" y="1106.1" width="3" height="15.7" fill="#7aff84"/>
<rect x="1135.5" y="1097.2" width="3" height="9.3" fill="#00b9ff"/>
<rect x="1135.5" y="1090.8" width="3" height="6.7" fill="#008fff"/>
<rect x="1135.5" y="1085.9" width="3" height="5.2" fill="#00fbff"/>
<rect x="1135.5" y="1081.8" width="3" height="4.3" fill="#0080ff"/>
<rect x="1135.5" y="1075.4" width="3" height="3.3" fill="#007eff"/>
<rect x="1135.5" y="1072.8" width="3" height="2.9" fill="#0077ff"/>
<rect x="1138.5" y="1106.1" width="1.5" height="15.7" fill="#0083ff"/>
<rect x="1138.5" y="1097.2" width="1.5" height="9.3" fill="#00c0ff"/>
<rect x="1138.5" y="1090.8" width="1.5" height="6.7" fill="#0091ff"/>
<rect x="1138.5" y="1078.4" width="1.5" height="3.7" fill="#0042ff"/>
<rect x="1140.0" y="1106.1" width="3" height="15.7" fill="#00c0ff"/>
<rect x="1140.0" y="1097.2" width="3" height="9.3" fill="#00d2ff"/>
<rect x="1140.0" y="1090.8" width="3" height="6.7" fill="#00a3ff"/>
<rect x="1140.0" y="1081.8" width="3" height="4.3" fill="#0046ff"/>
<rect x="1143.0" y="1106.1" width="2" height="15.7" fill="#0085ff"/>
<rect x="1143.0" y="1097.2" width="2" height="9.3" fill="#004eff"/>
<rect x="1143.0" y="1090.8" width="2" height="6.7" fill="#00a6ff"/>
<rect x="1143.0" y="1075.4" width="2" height="3.3" fill="#003eff"/>
<rect x="1145.0" y="1106.1" width="3" height="15.7" fill="#00c0ff"/>
<rect x="1145.0" y="1097.2" width="3" height="9.3" fill="#0057ff"/>
<rect x="1145.0" y="1090.8" width="3" height="6.7" fill="#0076ff"/>
<rect x="1148.0" y="1106.1" width="2.5" height="15.7" fill="#006eff"/>
<rect x="1148.0" y="1097.2" width="2.5" height="9.3" fill="#00c6ff"/>
<rect x="1148.0" y="1090.8" width="2.5" height="6.7" fill="#0090ff"/>
<rect x="1148.0" y="1078.4" width="2.5" height="3.7" fill="#004cff"/>
<rect x="1150.5" y="1106.1" width="2" height="15.7" fill="#007bff"/>
<rect x="1150.5" y="1097.2" width="2" height="9.3" fill="#0042ff"/>
<rect x="1150.5" y="1075.4" width="2" height="3.3" fill="#0042ff"/>
<rect x="1152.5" y="1097.2" width="1.5" height="9.3" fill="#00b6ff"/>
<rect x="1152.5" y="1090.8" width="1.5" height="6.7" fill="#0066ff"/>
<rect x="1154.0" y="1106.1" width="2" height="15.7" fill="#008eff"/>
<rect x="1154.0" y="1097.2" width="2" height="9.3" fill="#008aff"/>
<rect x="1154.0" y="1090.8" width="2" height="6.7" fill="#008eff"/>
<rect x="1154.0" y="1085.9" width="2" height="5.2" fill="#005aff"/>
<rect x="1156.0" y="1106.1" width="2" height="15.7" fill="#0082ff"/>
<rect x="1156.0" y="1097.2" width="2" height="9.3" fill="#00abff"/>
<rect x="1156.0" y="1090.8" width="2" height="6.7" fill="#0092ff"/>
<rect x="1158.0" y="1097.2" width="2" height="9.3" fill="#00daff"/>
<rect x="1158.0" y="1090.8" width="2" height="6.7" fill="#0080ff"/>
<rect x="1158.0" y="1085.9" width="2" height="5.2" fill="#007eff"/>
<rect x="1158.0" y="1078.4" width="2" height="3.7" fill="#0040ff"/>
<rect x="1160.0" y="1106.1" width="3" height="15.7" fill="#00aaff"/>
<rect x="1160.0" y="1097.2" width="3" height="9.3" fill="#0062ff"/>
<rect x="1160.0" y="1090.8" width="3" height="6.7" fill="#0086ff"/>
<rect x="1160.0" y="1081.8" width="3" height="4.3" fill="#005eff"/>
<rect x="1163.0" y="1081.8" width="3" height="4.3" fill="#0050ff"/>
<rect x="1163.0" y="1078.4" width="3" height="3.7" fill="#0045ff"/>
<rect x="1275.5" y="1070.5" width="1" height="4" fill="#0020d8"/>
<rect x="1277.5" y="1085.9" width="1" height="4" fill="#0020d8"/>
<rect x="1278.5" y="1097.2" width="1" height="24.3" fill="#0090ff"/>
<rect x="1280.5" y="1106.1" width="2" height="15.7" fill="#ffee00"/>
<rect x="1280.5" y="1097.2" width="2" height="9.3" fill="#00feff"/>
<rect x="1280.5" y="1090.8" width="2" height="6.7" fill="#83ff7b"/>
<rect x="1280.5" y="1085.9" width="2" height="5.2" fill="#15ffe9"/>
<rect x="1280.5" y="1081.8" width="2" height="4.3" fill="#0089ff"/>
<rect x="1280.5" y="1078.4" width="2" height="3.7" fill="#0078ff"/>
<rect x="1280.5" y="1072.8" width="2" height="2.9" fill="#007dff"/>
<rect x="1282.5" y="1106.1" width="3" height="15.7" fill="#008eff"/>
<rect x="1282.5" y="1097.2" width="3" height="9.3" fill="#85ff79"/>
<rect x="1282.5" y="1090.8" width="3" height="6.7" fill="#8eff70"/>
<rect x="1282.5" y="1085.9" width="3" height="5.2" fill="#0074ff"/>
<rect x="1282.5" y="1081.8" width="3" height="4.3" fill="#00ecff"/>
<rect x="1282.5" y="1070.5" width="3" height="2.6" fill="#0089ff"/>
<rect x="1285.5" y="1106.1" width="2" height="15.7" fill="#ffea00"/>
<rect x="1285.5" y="1097.2" width="2" height="9.3" fill="#5bffa3"/>
<rect x="1285.5" y="1090.8" width="2" height="6.7" fill="#66ff98"/>
<rect x="1285.5" y="1085.9" width="2" height="5.2" fill="#34ffca"/>
<rect x="1285.5" y="1081.8" width="2" height="4.3" fill="#00e6ff"/>
<rect x="1285.5" y="1070.5" width="2" height="2.6" fill="#008bff"/>
<rect x="1285.5" y="1068.4" width="2" height="2.4" fill="#006aff"/>
<rect x="1287.5" y="1106.1" width="1.5" height="15.7" fill="#83ff7b"/>
<rect x="1287.5" y="1097.2" width="1.5" height="9.3" fill="#00ecff"/>
<rect x="1287.5" y="1090.8" width="1.5" height="6.7" fill="#90ff6e"/>
<rect x="1287.5" y="1085.9" width="1.5" height="5.2" fill="#00d9ff"/>
<rect x="1287.5" y="1081.8" width="1.5" height="4.3" fill="#00acff"/>
<rect x="1287.5" y="1078.4" width="1.5" height="3.7" fill="#009dff"/>
<rect x="1287.5" y="1075.4" width="1.5" height="3.3" fill="#008cff"/>
<rect x="1287.5" y="1070.5" width="1.5" height="2.6" fill="#007dff"/>
<rect x="1289.0" y="1106.1" width="2" height="15.7" fill="#00eeff"/>
<rect x="1289.0" y="1097.2" width="2" height="9.3" fill="#00f7ff"/>
<rect x="1289.0" y="1090.8" width="2" height="6.7" fill="#a0ff5e"/>
<rect x="1289.0" y="1085.9" width="2" height="5.2" fill="#47ffb7"/>
<rect x="1289.0" y="1081.8" width="2" height="4.3" fill="#00b9ff"/>
<rect x="1291.0" y="1106.1" width="3" height="15.7" fill="#00d2ff"/>
<rect x="1291.0" y="1097.2" width="3" height="9.3" fill="#00e0ff"/>
<rect x="1291.0" y="1090.8" width="3" height="6.7" fill="#4fffaf"/>
<rect x="1291.0" y="1085.9" width="3" height="5.2" fill="#007fff"/>
<rect x="1291.0" y="1078.4" width="3" height="3.7" fill="#0097ff"/>
<rect x="1291.0" y="1072.8" width="3" height="2.9" fill="#006fff"/>
<rect x="1294.0" y="1090.8" width="2" height="30.7" fill="#0048ff"/>
<rect x="1297.0" y="1075.4" width="1" height="4" fill="#0020d8"/>
<rect x="1298.0" y="1085.9" width="1" height="35.6" fill="#0060ff"/>
<rect x="1300.0" y="1081.8" width="2" height="39.7" fill="#0090ff"/>
<rect x="1304.0" y="1097.2" width="1.5" height="24.3" fill="#0048ff"/>
<rect x="1305.5" y="1085.9" width="1.5" height="35.6" fill="#0060ff"/>
<rect x="1308.0" y="1097.2" width="1.5" height="24.3" fill="#0070ff"/>
<rect x="1309.5" y="1081.8" width="1.5" height="39.7" fill="#0070ff"/>
<rect x="1309.5" y="1097.2" width="1.5" height="9.0" fill="#00a0ff"/>
<rect x="1312.0" y="1097.2" width="1" height="24.3" fill="#0060ff"/>
<rect x="1314.0" y="1106.1" width="3" height="15.7" fill="#bbff43"/>
<rect x="1314.0" y="1097.2" width="3" height="9.3" fill="#00c2ff"/>
<rect x="1314.0" y="1090.8" width="3" height="6.7" fill="#00edff"/>
<rect x="1314.0" y="1085.9" width="3" height="5.2" fill="#00edff"/>
<rect x="1314.0" y="1081.8" width="3" height="4.3" fill="#00afff"/>
<rect x="1314.0" y="1078.4" width="3" height="3.7" fill="#0098ff"/>
<rect x="1314.0" y="1070.5" width="3" height="2.6" fill="#0083ff"/>
<rect x="1314.0" y="1068.4" width="3" height="2.4" fill="#008dff"/>
<rect x="1317.0" y="1106.1" width="3" height="15.7" fill="#a8ff56"/>
<rect x="1317.0" y="1097.2" width="3" height="9.3" fill="#ffc000"/>
<rect x="1317.0" y="1090.8" width="3" height="6.7" fill="#0081ff"/>
<rect x="1317.0" y="1081.8" width="3" height="4.3" fill="#00f6ff"/>
<rect x="1317.0" y="1078.4" width="3" height="3.7" fill="#0081ff"/>
<rect x="1317.0" y="1072.8" width="3" height="2.9" fill="#0097ff"/>
<rect x="1320.0" y="1106.1" width="2" height="15.7" fill="#00d1ff"/>
<rect x="1320.0" y="1097.2" width="2" height="9.3" fill="#feff00"/>
<rect x="1320.0" y="1090.8" width="2" height="6.7" fill="#00eaff"/>
<rect x="1320.0" y="1085.9" width="2" height="5.2" fill="#18ffe6"/>
<rect x="1320.0" y="1081.8" width="2" height="4.3" fill="#009eff"/>
<rect x="1320.0" y="1078.4" width="2" height="3.7" fill="#0083ff"/>
<rect x="1320.0" y="1075.4" width="2" height="3.3" fill="#00aeff"/>
<rect x="1320.0" y="1072.8" width="2" height="2.9" fill="#00b1ff"/>
<rect x="1320.0" y="1070.5" width="2" height="2.6" fill="#0067ff"/>
<rect x="1320.0" y="1066.5" width="2" height="2.2" fill="#0075ff"/>
<rect x="1322.0" y="1106.1" width="3" height="15.7" fill="#00fffe"/>
<rect x="1322.0" y="1097.2" width="3" height="9.3" fill="#d2ff2c"/>
<rect x="1322.0" y="1090.8" width="3" height="6.7" fill="#98ff66"/>
<rect x="1322.0" y="1085.9" width="3" height="5.2" fill="#0094ff"/>
<rect x="1322.0" y="1081.8" width="3" height="4.3" fill="#00beff"/>
<rect x="1322.0" y="1078.4" width="3" height="3.7" fill="#00b2ff"/>
<rect x="1322.0" y="1075.4" width="3" height="3.3" fill="#008aff"/>
<rect x="1322.0" y="1072.8" width="3" height="2.9" fill="#0072ff"/>
<rect x="1325.0" y="1106.1" width="2.5" height="15.7" fill="#35ffc9"/>
<rect x="1325.0" y="1097.2" width="2.5" height="9.3" fill="#ffc800"/>
<rect x="1325.0" y="1090.8" width="2.5" height="6.7" fill="#e0ff1e"/>
<rect x="1325.0" y="1085.9" width="2.5" height="5.2" fill="#007bff"/>
<rect x="1325.0" y="1070.5" width="2.5" height="2.6" fill="#006dff"/>
<rect x="1325.0" y="1068.4" width="2.5" height="2.4" fill="#0068ff"/>
<rect x="1327.5" y="1097.2" width="1" height="24.3" fill="#0060ff"/>
<rect x="1329.5" y="1081.8" width="1" height="39.7" fill="#0048ff"/>
<rect x="1330.5" y="1090.8" width="2" height="30.7" fill="#0060ff"/>
<rect x="1332.5" y="1085.9" width="1.5" height="35.6" fill="#0090ff"/>
<rect x="1334.0" y="1090.8" width="1.5" height="30.7" fill="#0030f0"/>
<rect x="1336.5" y="1090.8" width="1.5" height="30.7" fill="#0090ff"/>
<rect x="1338.0" y="1097.2" width="1" height="24.3" fill="#0090ff"/>
<rect x="1340.0" y="1090.8" width="1.5" height="30.7" fill="#0048ff"/>
<rect x="1345.5" y="1097.2" width="2" height="24.3" fill="#0030f0"/>
<rect x="1345.5" y="1097.2" width="2" height="9.0" fill="#00c0ff"/>
<rect x="1347.5" y="1085.9" width="2" height="35.6" fill="#0048ff"/>
<rect x="1347.5" y="1097.2" width="2" height="9.0" fill="#00a0ff"/>
<rect x="586" y="1050" width="4" height="71.5" fill="url(#sg1)"/>
<rect x="648.5" y="1050" width="3.0" height="71.5" fill="url(#sg2)"/>
<rect x="686" y="1095" width="5" height="26.5" fill="url(#sg1)"/>
<rect x="812" y="1055" width="10" height="66.5" fill="url(#sg2)"/>
<rect x="859" y="1015" width="5" height="106.5" fill="url(#sg2)"/>
<rect x="864" y="998" width="6" height="123.5" fill="url(#sg3)"/>
<rect x="870" y="996" width="5" height="125.5" fill="url(#sg3)"/>
<rect x="875" y="985" width="10" height="136.5" fill="url(#sg3)"/>
<rect x="1042" y="1025" width="5" height="96.5" fill="url(#sg2)"/>
<rect x="1066" y="1028" width="5" height="93.5" fill="url(#sg2)"/>
<rect x="1122" y="1000" width="6" height="121.5" fill="url(#sg2)"/>
<rect x="1128" y="985" width="7" height="136.5" fill="url(#sg3)"/>
<rect x="1279" y="1025" width="7" height="96.5" fill="url(#sg2)"/>
<rect x="1286" y="1030" width="7" height="91.5" fill="url(#sg2)"/>
<rect x="1314" y="1020" width="6" height="101.5" fill="url(#sg3)"/>
<rect x="1320" y="1025" width="6" height="96.5" fill="url(#sg3)"/>
<rect x="949" y="969.5" width="5.5" height="80" fill="#ff6000"/>
<rect x="949" y="1050" width="5.5" height="2.5" fill="#e01000"/>
<rect x="949" y="1055" width="5.5" height="2.5" fill="#e01000"/>
<rect x="949" y="1060" width="5.5" height="2.5" fill="#e01000"/>
<rect x="949" y="1065" width="5.5" height="2.5" fill="#e01000"/>
<rect x="949" y="1070" width="5.5" height="2.5" fill="#e01000"/>
<rect x="949" y="1075" width="5.5" height="2.5" fill="#e01000"/>
<rect x="949" y="1080" width="5.5" height="2.5" fill="#e01000"/>
<rect x="949" y="1085" width="5.5" height="2.5" fill="#e01000"/>
<rect x="949" y="1085.5" width="5.5" height="36" fill="#9a0000"/>
<rect x="1111.8" y="969.5" width="3.4" height="38" fill="#50ffd0"/>
<rect x="1111.8" y="1007.5" width="3.4" height="38" fill="url(#sgA)"/>
<rect x="1111.8" y="1045.5" width="3.4" height="14" fill="#ff5000"/>
<rect x="1111.8" y="1059.5" width="3.4" height="62" fill="#a00000"/>
<rect x="1115.2" y="969.5" width="0.8" height="152" fill="#000060"/>
<rect x="1116" y="969.5" width="3.8" height="41" fill="#a0ff60"/>
<rect x="1116" y="1010.5" width="3.8" height="30" fill="#f0f000"/>
<rect x="1116" y="1040.5" width="3.8" height="28" fill="#ff8000"/>
<rect x="1116" y="1050" width="3.8" height="4" fill="#ff3000"/>
<rect x="1116" y="1068.5" width="3.8" height="53" fill="#a00000"/>
<rect x="1116" y="1080" width="3.8" height="6" fill="#e00000"/>
<rect x="1128.5" y="1039.4" width="1.5" height="2" fill="#00d8ff"/>
<rect x="1120.7" y="1060.4" width="1.5" height="2" fill="#40ffc0"/>
<rect x="1133.4" y="1002.0" width="1.5" height="2" fill="#00d8ff"/>
<rect x="1128.6" y="994.9" width="1.5" height="2" fill="#00d8ff"/>
<rect x="1121.1" y="1028.2" width="1.5" height="2" fill="#00d8ff"/>
<rect x="1126.0" y="1004.5" width="1.5" height="2" fill="#00d8ff"/>
<rect x="1121.5" y="1024.2" width="1.5" height="2" fill="#00d8ff"/>
<rect x="1129.8" y="1015.8" width="1.5" height="2" fill="#00d8ff"/>
<rect x="1124.2" y="1000.9" width="1.5" height="2" fill="#00d8ff"/>
<rect x="1130.5" y="1097.1" width="1.5" height="2" fill="#c0ff40"/>
<rect x="1127.3" y="1072.4" width="1.5" height="2" fill="#c0ff40"/>
<rect x="1129.6" y="1051.6" width="1.5" height="2" fill="#40ffc0"/>
<rect x="1134.6" y="1081.4" width="1.5" height="2" fill="#c0ff40"/>
<rect x="1120.4" y="1109.0" width="1.5" height="2" fill="#c0ff40"/>
<rect x="1134.3" y="984.6" width="1.5" height="2" fill="#00d8ff"/>
<rect x="1134.5" y="1116.9" width="1.5" height="2" fill="#c0ff40"/>
<rect x="1121.8" y="1059.3" width="1.5" height="2" fill="#40ffc0"/>
<rect x="1127.6" y="1089.5" width="1.5" height="2" fill="#c0ff40"/>
<rect x="1123.2" y="1044.0" width="1.5" height="2" fill="#40ffc0"/>
<rect x="1131.5" y="1107.3" width="1.5" height="2" fill="#c0ff40"/>
<rect x="1134.9" y="1058.4" width="1.5" height="2" fill="#40ffc0"/>
<rect x="1121.4" y="1037.1" width="1.5" height="2" fill="#00d8ff"/>
<rect x="1131.9" y="1075.7" width="1.5" height="2" fill="#c0ff40"/>
<rect x="1120.2" y="1068.0" width="1.5" height="2" fill="#40ffc0"/>
<rect x="1126.3" y="1114.1" width="1.5" height="2" fill="#c0ff40"/>
<rect x="1124.5" y="1051.1" width="1.5" height="2" fill="#40ffc0"/>
<rect x="1134.0" y="1067.4" width="1.5" height="2" fill="#40ffc0"/>
<rect x="1122.0" y="1093.8" width="1.5" height="2" fill="#c0ff40"/>
<rect x="1133.2" y="1106.6" width="1.5" height="2" fill="#c0ff40"/>
<rect x="1130.8" y="1028.8" width="1.5" height="2" fill="#00d8ff"/>
<rect x="1132.3" y="1097.0" width="1.5" height="2" fill="#c0ff40"/>
<rect x="1130.0" y="1007.2" width="1.5" height="2" fill="#00d8ff"/>
<rect x="1135.0" y="985.9" width="1.5" height="2" fill="#00d8ff"/>
<rect x="1131.5" y="1070.6" width="1.5" height="2" fill="#c0ff40"/>
<rect x="1131.0" y="1095.9" width="1.5" height="2" fill="#c0ff40"/>
<rect x="1127.5" y="1115.8" width="1.5" height="2" fill="#c0ff40"/>
<rect x="1132.7" y="1087.8" width="1.5" height="2" fill="#c0ff40"/>
<rect x="1131.6" y="1038.0" width="1.5" height="2" fill="#00d8ff"/>
<rect x="1128.3" y="1014.6" width="1.5" height="2" fill="#00d8ff"/>
<rect x="1131.6" y="1056.5" width="1.5" height="2" fill="#40ffc0"/>
<rect x="1130.7" y="1005.0" width="1.5" height="2" fill="#00d8ff"/>
<rect x="1123.0" y="1118.0" width="1.5" height="2" fill="#c0ff40"/>
<rect x="1129.6" y="1032.5" width="1.5" height="2" fill="#00d8ff"/>
<rect x="1129.2" y="989.4" width="1.5" height="2" fill="#00d8ff"/>
<rect x="1133.8" y="1108.0" width="1.5" height="2" fill="#c0ff40"/>
<rect x="1133.3" y="982.6" width="1.5" height="2" fill="#00d8ff"/>
<rect x="1122.8" y="1115.2" width="1.5" height="2" fill="#c0ff40"/>
<rect x="1129.9" y="1117.1" width="1.5" height="2" fill="#c0ff40"/>
<rect x="1128.0" y="1027.2" width="1.5" height="2" fill="#00d8ff"/>
<rect x="1124.3" y="1024.4" width="1.5" height="2" fill="#00d8ff"/>
<rect x="1120.5" y="1107.1" width="1.5" height="2" fill="#c0ff40"/>
<rect x="1134.7" y="1064.3" width="1.5" height="2" fill="#40ffc0"/>
<rect x="1125.4" y="1009.7" width="1.5" height="2" fill="#00d8ff"/>
<rect x="1128.4" y="1026.7" width="1.5" height="2" fill="#00d8ff"/>
<rect x="1126.9" y="1019.3" width="1.5" height="2" fill="#00d8ff"/>
<rect x="1125.9" y="1018.1" width="1.5" height="2" fill="#00d8ff"/>
<rect x="1123.5" y="1022.4" width="1.5" height="2" fill="#00d8ff"/>
<rect x="1134.9" y="1006.3" width="1.5" height="2" fill="#00d8ff"/>
<rect x="1124.7" y="1046.0" width="1.5" height="2" fill="#40ffc0"/>
<rect x="1128.9" y="1063.5" width="1.5" height="2" fill="#40ffc0"/>
<rect x="1127.2" y="989.3" width="1.5" height="2" fill="#00d8ff"/>
<rect x="1123.9" y="1061.7" width="1.5" height="2" fill="#40ffc0"/>
<rect x="1130.0" y="1058.0" width="1.5" height="2" fill="#40ffc0"/>
<rect x="1131.8" y="1037.0" width="1.5" height="2" fill="#00d8ff"/>
<rect x="1123.4" y="1105.2" width="1.5" height="2" fill="#c0ff40"/>
<rect x="1130.3" y="1113.7" width="1.5" height="2" fill="#c0ff40"/>
<rect x="1127.6" y="1025.9" width="1.5" height="2" fill="#00d8ff"/>
<rect x="1126.2" y="1083.5" width="1.5" height="2" fill="#c0ff40"/>
<rect x="1126.0" y="1117.2" width="1.5" height="2" fill="#c0ff40"/>
<rect x="1124.1" y="1116.3" width="1.5" height="2" fill="#c0ff40"/>
<rect x="1128.4" y="1004.0" width="1.5" height="2" fill="#00d8ff"/>
<rect x="1125.2" y="996.3" width="1.5" height="2" fill="#00d8ff"/>
<rect x="1128.1" y="1002.4" width="1.5" height="2" fill="#00d8ff"/>
<rect x="1129.0" y="989.7" width="1.5" height="2" fill="#00d8ff"/>
<rect x="1132.8" y="1008.7" width="1.5" height="2" fill="#00d8ff"/>
<rect x="1126.6" y="1011.8" width="1.5" height="2" fill="#00d8ff"/>
<rect x="1128.7" y="1005.5" width="1.5" height="2" fill="#00d8ff"/>
<rect x="1125.9" y="1029.8" width="1.5" height="2" fill="#00d8ff"/>
<rect x="1120.4" y="1104.3" width="1.5" height="2" fill="#c0ff40"/>
<rect x="1125.6" y="1018.4" width="1.5" height="2" fill="#00d8ff"/>
<rect x="1127.1" y="1039.5" width="1.5" height="2" fill="#00d8ff"/>
<rect x="1122.5" y="1047.2" width="1.5" height="2" fill="#40ffc0"/>
<rect x="1125.0" y="1040.3" width="1.5" height="2" fill="#40ffc0"/>
<rect x="1131.1" y="996.9" width="1.5" height="2" fill="#00d8ff"/>
<rect x="1121.6" y="1103.7" width="1.5" height="2" fill="#c0ff40"/>
<rect x="1129.5" y="1031.5" width="1.5" height="2" fill="#00d8ff"/>
<rect x="1129.9" y="1109.0" width="1.5" height="2" fill="#c0ff40"/>
<rect x="1130.9" y="983.8" width="1.5" height="2" fill="#00d8ff"/>
<rect x="1120.8" y="1087.6" width="1.5" height="2" fill="#c0ff40"/>
<rect x="1122.3" y="1049.9" width="1.5" height="2" fill="#40ffc0"/>
<rect x="1134.5" y="1010.6" width="1.5" height="2" fill="#00d8ff"/>
<rect x="1121.8" y="1091.4" width="1.5" height="2" fill="#c0ff40"/>
<rect x="1131.9" y="1010.5" width="1.5" height="2" fill="#00d8ff"/>
<rect x="1123.5" y="1077.5" width="1.5" height="2" fill="#c0ff40"/>
<rect x="1124.9" y="1073.5" width="1.5" height="2" fill="#c0ff40"/>
<rect x="1125.9" y="993.7" width="1.5" height="2" fill="#00d8ff"/>
<rect x="1126.3" y="1090.5" width="1.5" height="2" fill="#c0ff40"/>
<rect x="1125.2" y="1101.8" width="1.5" height="2" fill="#c0ff40"/>
<rect x="1131.4" y="1030.2" width="1.5" height="2" fill="#00d8ff"/>
<rect x="1120.2" y="1108.2" width="1.5" height="2" fill="#c0ff40"/>
<rect x="1132.7" y="987.5" width="1.5" height="2" fill="#00d8ff"/>
<rect x="1120.3" y="1093.3" width="1.5" height="2" fill="#c0ff40"/>
<rect x="1128.4" y="1073.2" width="1.5" height="2" fill="#c0ff40"/>
<rect x="1126.0" y="1009.1" width="1.5" height="2" fill="#00d8ff"/>
<rect x="1132.4" y="1024.0" width="1.5" height="2" fill="#00d8ff"/>
<rect x="1124.4" y="1113.5" width="1.5" height="2" fill="#c0ff40"/>
<rect x="1125.8" y="1021.3" width="1.5" height="2" fill="#00d8ff"/>
<rect x="1128.1" y="1035.9" width="1.5" height="2" fill="#00d8ff"/>
<rect x="1122.8" y="1021.5" width="1.5" height="2" fill="#00d8ff"/>
<rect x="1132.3" y="1034.9" width="1.5" height="2" fill="#00d8ff"/>
<rect x="1124.4" y="1098.2" width="1.5" height="2" fill="#c0ff40"/>
<rect x="1123.0" y="999.3" width="1.5" height="2" fill="#00d8ff"/>
<rect x="1134.0" y="1101.5" width="1.5" height="2" fill="#c0ff40"/>
<rect x="1122.7" y="1039.7" width="1.5" height="2" fill="#00d8ff"/>
<rect x="1131.1" y="1025.9" width="1.5" height="2" fill="#00d8ff"/>
<rect x="1124.2" y="1021.7" width="1.5" height="2" fill="#00d8ff"/>
<rect x="1121.2" y="1051.2" width="1.5" height="2" fill="#40ffc0"/>
<rect x="1125.7" y="1100.1" width="1.5" height="2" fill="#c0ff40"/>
<rect x="1129.6" y="1037.8" width="1.5" height="2" fill="#00d8ff"/>
<rect x="1121.1" y="1038.6" width="1.5" height="2" fill="#00d8ff"/>
<rect x="1134.6" y="1094.2" width="1.5" height="2" fill="#c0ff40"/>
<rect x="1120.4" y="1023.9" width="1.5" height="2" fill="#00d8ff"/>
<rect x="1128.1" y="1109.4" width="1.5" height="2" fill="#c0ff40"/>
<rect x="1122.0" y="1055.3" width="1.5" height="2" fill="#40ffc0"/>
<rect x="1129.8" y="989.9" width="1.5" height="2" fill="#00d8ff"/>
<rect x="1124.7" y="1086.5" width="1.5" height="2" fill="#c0ff40"/>
<rect x="1134.2" y="989.4" width="1.5" height="2" fill="#00d8ff"/>
<rect x="1120.0" y="1038.5" width="1.5" height="2" fill="#00d8ff"/>
<rect x="1126.4" y="1014.0" width="1.5" height="2" fill="#00d8ff"/>
<rect x="1133.9" y="1027.5" width="1.5" height="2" fill="#00d8ff"/>
<rect x="1131.1" y="1055.3" width="1.5" height="2" fill="#40ffc0"/>
<rect x="1126.1" y="1036.8" width="1.5" height="2" fill="#00d8ff"/>
<rect x="1134.6" y="1067.6" width="1.5" height="2" fill="#40ffc0"/>
<rect x="1132.7" y="999.2" width="1.5" height="2" fill="#00d8ff"/>
<rect x="1127.6" y="1019.4" width="1.5" height="2" fill="#00d8ff"/>
<rect x="1125.5" y="1103.0" width="1.5" height="2" fill="#c0ff40"/>
<rect x="1128.4" y="1112.7" width="1.5" height="2" fill="#c0ff40"/>
<rect x="1128.9" y="1112.5" width="1.5" height="2" fill="#c0ff40"/>
<rect x="1120.8" y="1116.5" width="1.5" height="2" fill="#c0ff40"/>
<rect x="1123.3" y="1012.9" width="1.5" height="2" fill="#00d8ff"/>
<rect x="1129.5" y="1067" width="3" height="34" fill="#ffa000"/>
<rect x="1316" y="1097" width="8" height="12" fill="#ff9000"/>
<rect x="1315" y="1109" width="9" height="12" fill="#ffe000"/>
<rect x="1280.1" y="1037.5" width="1.5" height="2" fill="#0060ff"/>
<rect x="1322.3" y="1043.7" width="1.5" height="2" fill="#00c0ff"/>
<rect x="1291.5" y="1031.6" width="1.5" height="2" fill="#0060ff"/>
<rect x="1319.0" y="1096.7" width="1.5" height="2" fill="#40ffc0"/>
<rect x="1286.6" y="1040.2" width="1.5" height="2" fill="#0060ff"/>
<rect x="1315.3" y="1102.8" width="1.5" height="2" fill="#b0ff50"/>
<rect x="1279.4" y="1098.1" width="1.5" height="2" fill="#40ffc0"/>
<rect x="1321.6" y="1020.4" width="1.5" height="2" fill="#0060ff"/>
<rect x="1286.3" y="1109.0" width="1.5" height="2" fill="#b0ff50"/>
<rect x="1322.1" y="1035.2" width="1.5" height="2" fill="#0060ff"/>
<rect x="1285.9" y="1044.0" width="1.5" height="2" fill="#0060ff"/>
<rect x="1320.9" y="1051.0" width="1.5" height="2" fill="#00c0ff"/>
<rect x="1290.0" y="1040.9" width="1.5" height="2" fill="#0060ff"/>
<rect x="1314.6" y="1105.4" width="1.5" height="2" fill="#b0ff50"/>
<rect x="1282.6" y="1059.6" width="1.5" height="2" fill="#00c0ff"/>
<rect x="1323.1" y="1102.1" width="1.5" height="2" fill="#b0ff50"/>
<rect x="1286.0" y="1039.7" width="1.5" height="2" fill="#0060ff"/>
<rect x="1319.6" y="1032.8" width="1.5" height="2" fill="#0060ff"/>
<rect x="1288.5" y="1025.3" width="1.5" height="2" fill="#0060ff"/>
<rect x="1321.8" y="1048.4" width="1.5" height="2" fill="#00c0ff"/>
<rect x="1291.5" y="1028.7" width="1.5" height="2" fill="#0060ff"/>
<rect x="1318.4" y="1023.1" width="1.5" height="2" fill="#0060ff"/>
<rect x="1286.4" y="1118.1" width="1.5" height="2" fill="#b0ff50"/>
<rect x="1317.0" y="1088.9" width="1.5" height="2" fill="#40ffc0"/>
<rect x="1288.1" y="1113.4" width="1.5" height="2" fill="#b0ff50"/>
<rect x="1316.5" y="1073.6" width="1.5" height="2" fill="#00c0ff"/>
<rect x="1287.2" y="1047.8" width="1.5" height="2" fill="#00c0ff"/>
<rect x="1314.7" y="1117.9" width="1.5" height="2" fill="#b0ff50"/>
<rect x="1279.7" y="1078.8" width="1.5" height="2" fill="#40ffc0"/>
<rect x="1324.2" y="1111.3" width="1.5" height="2" fill="#b0ff50"/>
<rect x="1282.9" y="1055.4" width="1.5" height="2" fill="#00c0ff"/>
<rect x="1318.0" y="1101.7" width="1.5" height="2" fill="#b0ff50"/>
<rect x="1290.8" y="1039.6" width="1.5" height="2" fill="#0060ff"/>
<rect x="1316.2" y="1046.6" width="1.5" height="2" fill="#00c0ff"/>
<rect x="1280.5" y="1105.2" width="1.5" height="2" fill="#b0ff50"/>
<rect x="1314.3" y="1092.8" width="1.5" height="2" fill="#40ffc0"/>
<rect x="1292.2" y="1068.4" width="1.5" height="2" fill="#00c0ff"/>
<rect x="1319.5" y="1108.9" width="1.5" height="2" fill="#b0ff50"/>
<rect x="1284.9" y="1057.4" width="1.5" height="2" fill="#00c0ff"/>
<rect x="1314.8" y="1017.2" width="1.5" height="2" fill="#0060ff"/>
<rect x="1283.0" y="1080.9" width="1.5" height="2" fill="#40ffc0"/>
<rect x="1315.4" y="1023.4" width="1.5" height="2" fill="#0060ff"/>
<rect x="1286.7" y="1045.4" width="1.5" height="2" fill="#00c0ff"/>
<rect x="1318.0" y="1049.1" width="1.5" height="2" fill="#00c0ff"/>
<rect x="1282.1" y="1108.7" width="1.5" height="2" fill="#b0ff50"/>
<rect x="1315.6" y="1060.9" width="1.5" height="2" fill="#00c0ff"/>
<rect x="1288.2" y="1032.0" width="1.5" height="2" fill="#0060ff"/>
<rect x="1321.2" y="1101.5" width="1.5" height="2" fill="#b0ff50"/>
<rect x="1285.5" y="1019.2" width="1.5" height="2" fill="#0060ff"/>
<rect x="1322.1" y="1011.9" width="1.5" height="2" fill="#0060ff"/>
<rect x="1282.4" y="1110.6" width="1.5" height="2" fill="#b0ff50"/>
<rect x="1321.2" y="1033.0" width="1.5" height="2" fill="#0060ff"/>
<rect x="1281.7" y="1104.7" width="1.5" height="2" fill="#b0ff50"/>
<rect x="1322.7" y="1028.8" width="1.5" height="2" fill="#0060ff"/>
<rect x="1290.8" y="1083.4" width="1.5" height="2" fill="#40ffc0"/>
<rect x="1324.3" y="1053.8" width="1.5" height="2" fill="#00c0ff"/>
<rect x="1280.7" y="1068.4" width="1.5" height="2" fill="#00c0ff"/>
<rect x="1324.9" y="1109.4" width="1.5" height="2" fill="#b0ff50"/>
<rect x="1290.8" y="1091.7" width="1.5" height="2" fill="#40ffc0"/>
<rect x="1322.8" y="1075.7" width="1.5" height="2" fill="#00c0ff"/>
<rect x="1285.5" y="1105.1" width="1.5" height="2" fill="#b0ff50"/>
<rect x="1318.5" y="1099.4" width="1.5" height="2" fill="#40ffc0"/>
<rect x="1279.1" y="1037.3" width="1.5" height="2" fill="#0060ff"/>
<rect x="1320.6" y="1106.0" width="1.5" height="2" fill="#b0ff50"/>
<rect x="1288.7" y="1110.8" width="1.5" height="2" fill="#b0ff50"/>
<rect x="1321.3" y="1011.0" width="1.5" height="2" fill="#0060ff"/>
<rect x="1287.0" y="1091.9" width="1.5" height="2" fill="#40ffc0"/>
<rect x="1319.9" y="1094.4" width="1.5" height="2" fill="#40ffc0"/>
<rect x="1281.8" y="1036.6" width="1.5" height="2" fill="#0060ff"/>
<rect x="1314.3" y="1083.0" width="1.5" height="2" fill="#40ffc0"/>
<rect x="1286.6" y="1028.3" width="1.5" height="2" fill="#0060ff"/>
<rect x="1319.7" y="1055.5" width="1.5" height="2" fill="#00c0ff"/>
<rect x="1289.9" y="1110.9" width="1.5" height="2" fill="#b0ff50"/>
<rect x="1318.3" y="1094.5" width="1.5" height="2" fill="#40ffc0"/>
<rect x="1285.8" y="1103.5" width="1.5" height="2" fill="#b0ff50"/>
<rect x="1318.2" y="1033.3" width="1.5" height="2" fill="#0060ff"/>
<rect x="1283.7" y="1107.0" width="1.5" height="2" fill="#b0ff50"/>
<rect x="1326.0" y="1050.2" width="1.5" height="2" fill="#00c0ff"/>
<rect x="1281.3" y="1089.3" width="1.5" height="2" fill="#40ffc0"/>
<rect x="1321.3" y="1034.5" width="1.5" height="2" fill="#0060ff"/>
<rect x="1288.7" y="1114.9" width="1.5" height="2" fill="#b0ff50"/>
<rect x="1322.2" y="1040.7" width="1.5" height="2" fill="#00c0ff"/>
<rect x="1284.1" y="1107.9" width="1.5" height="2" fill="#b0ff50"/>
<rect x="1320.5" y="1115.1" width="1.5" height="2" fill="#b0ff50"/>
<rect x="1289.9" y="1036.6" width="1.5" height="2" fill="#0060ff"/>
<rect x="1321.7" y="1020.9" width="1.5" height="2" fill="#0060ff"/>
<rect x="1288.9" y="1095.1" width="1.5" height="2" fill="#40ffc0"/>
<rect x="1317.8" y="1102.9" width="1.5" height="2" fill="#b0ff50"/>
<rect x="1288.9" y="1109.0" width="1.5" height="2" fill="#b0ff50"/>
<rect x="1320.4" y="1115.0" width="1.5" height="2" fill="#b0ff50"/>
<rect x="1280.6" y="1109.1" width="1.5" height="2" fill="#b0ff50"/>
<rect x="1316.3" y="1047.1" width="1.5" height="2" fill="#00c0ff"/>
<rect x="1279.3" y="1020.5" width="1.5" height="2" fill="#0060ff"/>
<rect x="1319.1" y="1115.4" width="1.5" height="2" fill="#b0ff50"/>
<rect x="1280.5" y="1065.9" width="1.5" height="2" fill="#00c0ff"/>
<rect x="1320.5" y="1052.8" width="1.5" height="2" fill="#00c0ff"/>
<rect x="1288.1" y="1072.3" width="1.5" height="2" fill="#00c0ff"/>
<rect x="1321.9" y="1095.7" width="1.5" height="2" fill="#40ffc0"/>
<rect x="1289.4" y="1026.8" width="1.5" height="2" fill="#0060ff"/>
<rect x="1314.2" y="1028.2" width="1.5" height="2" fill="#0060ff"/>
<rect x="1282.1" y="1074.8" width="1.5" height="2" fill="#00c0ff"/>
<rect x="1321.0" y="1048.6" width="1.5" height="2" fill="#00c0ff"/>
<rect x="1287.1" y="1074.5" width="1.5" height="2" fill="#00c0ff"/>
<rect x="1315.7" y="1018.0" width="1.5" height="2" fill="#0060ff"/>
<rect x="1286.9" y="1089.6" width="1.5" height="2" fill="#40ffc0"/>
<rect x="1315.6" y="1010.0" width="1.5" height="2" fill="#0060ff"/>
<rect x="1282.5" y="1031.0" width="1.5" height="2" fill="#0060ff"/>
<rect x="1319.6" y="1021.9" width="1.5" height="2" fill="#0060ff"/>
<rect x="1291.9" y="1094.6" width="1.5" height="2" fill="#40ffc0"/>
<rect x="1323.1" y="1020.3" width="1.5" height="2" fill="#0060ff"/>
<rect x="1281.7" y="1052.7" width="1.5" height="2" fill="#00c0ff"/>
<rect x="1321.8" y="1081.1" width="1.5" height="2" fill="#40ffc0"/>
<rect x="1284.7" y="1066.6" width="1.5" height="2" fill="#00c0ff"/>
<rect x="1316.3" y="1065.2" width="1.5" height="2" fill="#00c0ff"/>
<rect x="1283.6" y="1016.3" width="1.5" height="2" fill="#0060ff"/>
<rect x="1320.0" y="1020.2" width="1.5" height="2" fill="#0060ff"/>
<rect x="1290.3" y="1023.0" width="1.5" height="2" fill="#0060ff"/>
<rect x="1314.1" y="1059.9" width="1.5" height="2" fill="#00c0ff"/>
<rect x="1284.1" y="1107.0" width="1.5" height="2" fill="#b0ff50"/>
<rect x="1317.8" y="1079.3" width="1.5" height="2" fill="#40ffc0"/>
<rect x="1279.4" y="1045.5" width="1.5" height="2" fill="#00c0ff"/>
<rect x="1320.8" y="1022.1" width="1.5" height="2" fill="#0060ff"/>
<rect x="1288.1" y="1041.8" width="1.5" height="2" fill="#0060ff"/>
<rect x="1318.8" y="1056.0" width="1.5" height="2" fill="#00c0ff"/>
<rect x="1281.6" y="1112.7" width="1.5" height="2" fill="#b0ff50"/>
<rect x="1323.2" y="1075.6" width="1.5" height="2" fill="#00c0ff"/>
<rect x="1291.0" y="1051.3" width="1.5" height="2" fill="#00c0ff"/>
<rect x="1324.4" y="1070.1" width="1.5" height="2" fill="#00c0ff"/>
<rect x="1283.6" y="1023.2" width="1.5" height="2" fill="#0060ff"/>
<rect x="1317.7" y="1027.3" width="1.5" height="2" fill="#0060ff"/>
<rect x="1285.6" y="1064.2" width="1.5" height="2" fill="#00c0ff"/>
<rect x="1322.9" y="1096.0" width="1.5" height="2" fill="#40ffc0"/>
<rect x="1289.5" y="1101.5" width="1.5" height="2" fill="#40ffc0"/>
<rect x="1324.6" y="1110.8" width="1.5" height="2" fill="#b0ff50"/>
<rect x="1292.6" y="1070.9" width="1.5" height="2" fill="#00c0ff"/>
<rect x="1315.5" y="1105.3" width="1.5" height="2" fill="#b0ff50"/>
<rect x="1282.1" y="1017.9" width="1.5" height="2" fill="#0060ff"/>
<rect x="1318.1" y="1022.1" width="1.5" height="2" fill="#0060ff"/>
<rect x="1290.4" y="1063.8" width="1.5" height="2" fill="#00c0ff"/>
<rect x="1317.4" y="1078.1" width="1.5" height="2" fill="#40ffc0"/>
<rect x="1289.2" y="1110.5" width="1.5" height="2" fill="#b0ff50"/>
<rect x="1317.4" y="1070.9" width="1.5" height="2" fill="#00c0ff"/>
<rect x="1291.2" y="1040.3" width="1.5" height="2" fill="#0060ff"/>
<rect x="1319.0" y="1057.8" width="1.5" height="2" fill="#00c0ff"/>
<rect x="1291.1" y="1107.5" width="1.5" height="2" fill="#b0ff50"/>
<rect x="1316.5" y="1024.0" width="1.5" height="2" fill="#0060ff"/>
<rect x="1286.0" y="1066.3" width="1.5" height="2" fill="#00c0ff"/>
<rect x="1314.5" y="1055.3" width="1.5" height="2" fill="#00c0ff"/>
<rect x="1290.1" y="1034.2" width="1.5" height="2" fill="#0060ff"/>
<rect x="1321.0" y="1101.3" width="1.5" height="2" fill="#b0ff50"/>
<rect x="1290.9" y="1099.1" width="1.5" height="2" fill="#40ffc0"/>
<rect x="1318.8" y="1048.8" width="1.5" height="2" fill="#00c0ff"/>
<rect x="1284.1" y="1037.2" width="1.5" height="2" fill="#0060ff"/>
<rect x="1321.0" y="1044.8" width="1.5" height="2" fill="#00c0ff"/>
<rect x="1290.9" y="1068.6" width="1.5" height="2" fill="#00c0ff"/>
<rect x="1320.1" y="1022.1" width="1.5" height="2" fill="#0060ff"/>
<rect x="1291.4" y="1020.7" width="1.5" height="2" fill="#0060ff"/>
<rect x="1323.8" y="1062.4" width="1.5" height="2" fill="#00c0ff"/>
<rect x="1291.5" y="1114.5" width="1.5" height="2" fill="#b0ff50"/>
<rect x="1321.4" y="1085.6" width="1.5" height="2" fill="#40ffc0"/>
<rect x="1279.3" y="1095.8" width="1.5" height="2" fill="#40ffc0"/>
<rect x="1322.8" y="1018.3" width="1.5" height="2" fill="#0060ff"/>
<rect x="1282.0" y="1041.2" width="1.5" height="2" fill="#0060ff"/>
<rect x="1319.1" y="1114.3" width="1.5" height="2" fill="#b0ff50"/>
<rect x="1292.4" y="1060.9" width="1.5" height="2" fill="#00c0ff"/>
<rect x="1316.6" y="1021.9" width="1.5" height="2" fill="#0060ff"/>
<rect x="1279.5" y="1079.8" width="1.5" height="2" fill="#40ffc0"/>
<rect x="1317.6" y="1073.7" width="1.5" height="2" fill="#00c0ff"/>
<rect x="1291.1" y="1074.8" width="1.5" height="2" fill="#00c0ff"/>
<rect x="1314.9" y="1084.3" width="1.5" height="2" fill="#40ffc0"/>
<rect x="1284.2" y="1092.1" width="1.5" height="2" fill="#40ffc0"/>
<rect x="1322.2" y="1091.2" width="1.5" height="2" fill="#40ffc0"/>
<rect x="1283.3" y="1046.7" width="1.5" height="2" fill="#00c0ff"/>
<rect x="1318.9" y="1030.7" width="1.5" height="2" fill="#0060ff"/>
<rect x="1285.5" y="1022.0" width="1.5" height="2" fill="#0060ff"/>
<rect x="1322.6" y="1095.7" width="1.5" height="2" fill="#40ffc0"/>
<rect x="1280.6" y="1045.3" width="1.5" height="2" fill="#00c0ff"/>
<rect x="1318.9" y="1030.6" width="1.5" height="2" fill="#0060ff"/>
<rect x="1287.8" y="1050.3" width="1.5" height="2" fill="#00c0ff"/>
<rect x="1323.7" y="1100.5" width="1.5" height="2" fill="#40ffc0"/>
<rect x="1285.5" y="1030" width="0.8" height="91.5" fill="#0000c0" opacity="0.7"/>
<rect x="1291" y="1030" width="0.8" height="91.5" fill="#0000c0" opacity="0.7"/>
<rect x="1319.5" y="1030" width="0.8" height="91.5" fill="#0000c0" opacity="0.7"/>
<rect x="873.9" y="1011.8" width="1.5" height="2" fill="#20e0ff"/>
<rect x="861.8" y="1023.1" width="1.5" height="2" fill="#20e0ff"/>
<rect x="860.1" y="1032.3" width="1.5" height="2" fill="#0090ff"/>
<rect x="879.2" y="1018.2" width="1.5" height="2" fill="#0060ff"/>
<rect x="861.7" y="1020.9" width="1.5" height="2" fill="#20e0ff"/>
<rect x="864.1" y="1046.1" width="1.5" height="2" fill="#20e0ff"/>
<rect x="868.2" y="1030.7" width="1.5" height="2" fill="#00c0ff"/>
<rect x="880.9" y="1042.5" width="1.5" height="2" fill="#0060ff"/>
<rect x="863.3" y="1034.4" width="1.5" height="2" fill="#0090ff"/>
<rect x="879.1" y="1049.1" width="1.5" height="2" fill="#0060ff"/>
<rect x="868.2" y="1009.8" width="1.5" height="2" fill="#00c0ff"/>
<rect x="865.3" y="1048.5" width="1.5" height="2" fill="#00c0ff"/>
<rect x="863.5" y="1025.2" width="1.5" height="2" fill="#00c0ff"/>
<rect x="879.1" y="1042.6" width="1.5" height="2" fill="#00c0ff"/>
<rect x="877.3" y="1004.1" width="1.5" height="2" fill="#0090ff"/>
<rect x="872.2" y="1046.7" width="1.5" height="2" fill="#00c0ff"/>
<rect x="883.2" y="1036.7" width="1.5" height="2" fill="#0060ff"/>
<rect x="879.5" y="1034.9" width="1.5" height="2" fill="#0060ff"/>
<rect x="882.5" y="1033.8" width="1.5" height="2" fill="#20e0ff"/>
<rect x="860.3" y="1037.8" width="1.5" height="2" fill="#0090ff"/>
<rect x="880.2" y="994.2" width="1.5" height="2" fill="#0090ff"/>
<rect x="866.0" y="1039.7" width="1.5" height="2" fill="#00c0ff"/>
<rect x="873.9" y="1021.1" width="1.5" height="2" fill="#20e0ff"/>
<rect x="883.4" y="989.1" width="1.5" height="2" fill="#0090ff"/>
<rect x="864.9" y="1031.0" width="1.5" height="2" fill="#0060ff"/>
<rect x="875.2" y="1041.2" width="1.5" height="2" fill="#0060ff"/>
<rect x="861.5" y="1017.4" width="1.5" height="2" fill="#00c0ff"/>
<rect x="879.5" y="1024.4" width="1.5" height="2" fill="#0090ff"/>
<rect x="861.9" y="1017.5" width="1.5" height="2" fill="#0060ff"/>
<rect x="867.4" y="1049.3" width="1.5" height="2" fill="#0090ff"/>
<rect x="874.0" y="1021.6" width="1.5" height="2" fill="#00c0ff"/>
<rect x="866.9" y="1036.6" width="1.5" height="2" fill="#0060ff"/>
<rect x="877.2" y="1035.9" width="1.5" height="2" fill="#20e0ff"/>
<rect x="875.8" y="1025.5" width="1.5" height="2" fill="#20e0ff"/>
<rect x="866.1" y="1010.8" width="1.5" height="2" fill="#0090ff"/>
<rect x="880.7" y="1011.2" width="1.5" height="2" fill="#0090ff"/>
<rect x="863.3" y="1022.4" width="1.5" height="2" fill="#0090ff"/>
<rect x="864.3" y="1024.5" width="1.5" height="2" fill="#20e0ff"/>
<rect x="869.8" y="1011.2" width="1.5" height="2" fill="#0060ff"/>
<rect x="870.5" y="1028.2" width="1.5" height="2" fill="#20e0ff"/>
<rect x="859.1" y="1032.2" width="1.5" height="2" fill="#20e0ff"/>
<rect x="867.5" y="1008.9" width="1.5" height="2" fill="#00c0ff"/>
<rect x="869.9" y="1045.3" width="1.5" height="2" fill="#00c0ff"/>
<rect x="878.1" y="1034.8" width="1.5" height="2" fill="#0090ff"/>
<rect x="878.9" y="1030.5" width="1.5" height="2" fill="#20e0ff"/>
<rect x="873.6" y="1036.7" width="1.5" height="2" fill="#00c0ff"/>
<rect x="864.7" y="1049.4" width="1.5" height="2" fill="#0090ff"/>
<rect x="868.4" y="1022.5" width="1.5" height="2" fill="#0060ff"/>
<rect x="872.1" y="1007.5" width="1.5" height="2" fill="#0060ff"/>
<rect x="876.5" y="1019.6" width="1.5" height="2" fill="#0060ff"/>
<rect x="866.9" y="1012.9" width="1.5" height="2" fill="#0090ff"/>
<rect x="864.5" y="1036.4" width="1.5" height="2" fill="#0060ff"/>
<rect x="860.8" y="1019.6" width="1.5" height="2" fill="#20e0ff"/>
<rect x="868.5" y="1012.9" width="1.5" height="2" fill="#0060ff"/>
<rect x="868.4" y="1031.2" width="1.5" height="2" fill="#0090ff"/>
<rect x="867.8" y="1017.9" width="1.5" height="2" fill="#00c0ff"/>
<rect x="879.8" y="1026.0" width="1.5" height="2" fill="#20e0ff"/>
<rect x="878.3" y="1010.0" width="1.5" height="2" fill="#0090ff"/>
<rect x="868.0" y="1020.6" width="1.5" height="2" fill="#00c0ff"/>
<rect x="882.0" y="993.0" width="1.5" height="2" fill="#00c0ff"/>
<rect x="871.6" y="1027.4" width="1.5" height="2" fill="#00c0ff"/>
<rect x="874.6" y="1023.8" width="1.5" height="2" fill="#0090ff"/>
<rect x="881.9" y="994.1" width="1.5" height="2" fill="#0060ff"/>
<rect x="880.4" y="988.2" width="1.5" height="2" fill="#0090ff"/>
<rect x="871.7" y="1022.8" width="1.5" height="2" fill="#20e0ff"/>
<rect x="873.3" y="1027.4" width="1.5" height="2" fill="#20e0ff"/>
<rect x="880.5" y="1036.6" width="1.5" height="2" fill="#0090ff"/>
<rect x="865.0" y="1016.4" width="1.5" height="2" fill="#00c0ff"/>
<rect x="879.3" y="1013.0" width="1.5" height="2" fill="#20e0ff"/>
<rect x="861.3" y="1020.9" width="1.5" height="2" fill="#00c0ff"/>
<rect x="870.8" y="1027.6" width="1.5" height="2" fill="#0090ff"/>
<rect x="871.7" y="1005.5" width="1.5" height="2" fill="#00c0ff"/>
<rect x="875.2" y="1029.1" width="1.5" height="2" fill="#20e0ff"/>
<rect x="861.9" y="1026.9" width="1.5" height="2" fill="#0060ff"/>
<rect x="869.4" y="1027.4" width="1.5" height="2" fill="#0090ff"/>
<rect x="875.7" y="1035.1" width="1.5" height="2" fill="#0090ff"/>
<rect x="866.7" y="1044.8" width="1.5" height="2" fill="#20e0ff"/>
<rect x="866.2" y="1028.6" width="1.5" height="2" fill="#0090ff"/>
<rect x="873.0" y="1026.2" width="1.5" height="2" fill="#00c0ff"/>
<rect x="860.1" y="1041.4" width="1.5" height="2" fill="#0090ff"/>
<rect x="874.9" y="1017.7" width="1.5" height="2" fill="#20e0ff"/>
<rect x="879.4" y="991.8" width="1.5" height="2" fill="#0090ff"/>
<rect x="880.3" y="998.5" width="1.5" height="2" fill="#0090ff"/>
<rect x="881.0" y="1029.6" width="1.5" height="2" fill="#20e0ff"/>
<rect x="863.4" y="1043.2" width="1.5" height="2" fill="#20e0ff"/>
<rect x="875.0" y="1045.9" width="1.5" height="2" fill="#20e0ff"/>
<rect x="875.7" y="1050.0" width="1.5" height="2" fill="#0090ff"/>
<rect x="860.1" y="1048.7" width="1.5" height="2" fill="#00c0ff"/>
<rect x="871.9" y="1044.0" width="1.5" height="2" fill="#00c0ff"/>
<rect x="874.5" y="1038.6" width="1.5" height="2" fill="#0060ff"/>
<rect x="880.5" y="989.1" width="1.5" height="2" fill="#0060ff"/>
<rect x="880.5" y="1023.9" width="1.5" height="2" fill="#0060ff"/>
<rect x="879.9" y="1041.8" width="1.5" height="2" fill="#0060ff"/>
<rect x="866.2" y="1025.4" width="1.5" height="2" fill="#0060ff"/>
<rect x="877.1" y="1022.0" width="1.5" height="2" fill="#0090ff"/>
<rect x="860.1" y="1022.6" width="1.5" height="2" fill="#00c0ff"/>
<rect x="859.4" y="1042.7" width="1.5" height="2" fill="#0060ff"/>
<rect x="859.4" y="1025.1" width="1.5" height="2" fill="#00c0ff"/>
<rect x="880.7" y="995.4" width="1.5" height="2" fill="#0060ff"/>
<rect x="880.1" y="988.8" width="1.5" height="2" fill="#20e0ff"/>
<rect x="872.7" y="1012.8" width="1.5" height="2" fill="#0060ff"/>
<rect x="882.2" y="998.0" width="1.5" height="2" fill="#00c0ff"/>
<rect x="862.5" y="1049.9" width="1.5" height="2" fill="#00c0ff"/>
<rect x="870.0" y="1046.2" width="1.5" height="2" fill="#20e0ff"/>
<rect x="879.5" y="1038.1" width="1.5" height="2" fill="#20e0ff"/>
<rect x="862.8" y="1043.9" width="1.5" height="2" fill="#00c0ff"/>
<rect x="871.6" y="1018.1" width="1.5" height="2" fill="#0060ff"/>
<rect x="874.4" y="1049.2" width="1.5" height="2" fill="#0090ff"/>
<rect x="872.2" y="1043.7" width="1.5" height="2" fill="#20e0ff"/>
<rect x="866.6" y="1048.8" width="1.5" height="2" fill="#0090ff"/>
<rect x="865.5" y="1014.3" width="1.5" height="2" fill="#0090ff"/>
<rect x="861.2" y="1030.7" width="1.5" height="2" fill="#20e0ff"/>
<rect x="876.2" y="1026.3" width="1.5" height="2" fill="#00c0ff"/>
<rect x="862.8" y="1050.0" width="1.5" height="2" fill="#00c0ff"/>
<rect x="868.9" y="1045.4" width="1.5" height="2" fill="#0060ff"/>
<rect x="863.9" y="1020.0" width="1.5" height="2" fill="#0060ff"/>
<rect x="876.6" y="1030.6" width="1.5" height="2" fill="#00c0ff"/>
<rect x="873.1" y="1014.8" width="1.5" height="2" fill="#20e0ff"/>
<rect x="880.7" y="1016.3" width="1.5" height="2" fill="#0090ff"/>
<rect x="882.1" y="1001.1" width="1.5" height="2" fill="#0090ff"/>
<rect x="869.7" y="1023.1" width="1.5" height="2" fill="#0090ff"/>
<rect x="861.7" y="1021.0" width="1.5" height="2" fill="#20e0ff"/>
<rect x="865.1" y="1033.6" width="1.5" height="2" fill="#0090ff"/>
<rect x="878.9" y="1024.1" width="1.5" height="2" fill="#0090ff"/>
<rect x="882.0" y="1044.1" width="1.5" height="2" fill="#20e0ff"/>
<rect x="866.4" y="1019.8" width="1.5" height="2" fill="#0060ff"/>
<rect x="877.5" y="1010.6" width="1.5" height="2" fill="#0060ff"/>
<rect x="873.6" y="1041.5" width="1.5" height="2" fill="#20e0ff"/>
<rect x="882.3" y="1043.0" width="1.5" height="2" fill="#20e0ff"/>
<rect x="866.4" y="1047.3" width="1.5" height="2" fill="#20e0ff"/>
<rect x="870.1" y="1013.4" width="1.5" height="2" fill="#0090ff"/>
<rect x="862.7" y="1014.7" width="1.5" height="2" fill="#0090ff"/>
<rect x="869.0" y="1007.4" width="1.5" height="2" fill="#0060ff"/>
<rect x="870.8" y="1030.6" width="1.5" height="2" fill="#0060ff"/>
<rect x="872.8" y="1006.5" width="1.5" height="2" fill="#0060ff"/>
<rect x="867.6" y="1037.7" width="1.5" height="2" fill="#0060ff"/>
<rect x="859.4" y="1041.1" width="1.5" height="2" fill="#0060ff"/>
<rect x="864.9" y="1028.3" width="1.5" height="2" fill="#0060ff"/>
<rect x="872.3" y="1049.2" width="1.5" height="2" fill="#0060ff"/>
<rect x="866.6" y="1027.2" width="1.5" height="2" fill="#0090ff"/>
<rect x="877.4" y="1041.5" width="1.5" height="2" fill="#0090ff"/>
<rect x="868.8" y="1012.4" width="1.5" height="2" fill="#20e0ff"/>
<rect x="874.5" y="1016.7" width="1.5" height="2" fill="#0060ff"/>
<rect x="862.6" y="1046.5" width="1.5" height="2" fill="#0090ff"/>
<rect x="870.8" y="1022.4" width="1.5" height="2" fill="#0090ff"/>
<rect x="867.9" y="1049.4" width="1.5" height="2" fill="#0090ff"/>
<rect x="880.1" y="997.1" width="1.5" height="2" fill="#00c0ff"/>
<rect x="868.9" y="1023.5" width="1.5" height="2" fill="#0060ff"/>
<rect x="864.8" y="1017.8" width="1.5" height="2" fill="#0090ff"/>
<rect x="861.5" y="1016.5" width="1.5" height="2" fill="#0090ff"/>
<rect x="868.5" y="1041.7" width="1.5" height="2" fill="#00c0ff"/>
<rect x="860.9" y="1041.9" width="1.5" height="2" fill="#00c0ff"/>
<rect x="868.8" y="1043.4" width="1.5" height="2" fill="#00c0ff"/>
<rect x="862.8" y="1047.7" width="1.5" height="2" fill="#0090ff"/>
<rect x="877.2" y="994.1" width="1.5" height="2" fill="#00c0ff"/>
<rect x="871.2" y="1016.1" width="1.5" height="2" fill="#20e0ff"/>
<rect x="877.4" y="1015.7" width="1.5" height="2" fill="#20e0ff"/>
<rect x="871.3" y="1049.6" width="1.5" height="2" fill="#00c0ff"/>
<rect x="866.7" y="1035.3" width="1.5" height="2" fill="#20e0ff"/>
<rect x="876.3" y="1012.2" width="1.5" height="2" fill="#0090ff"/>
<rect x="863.3" y="1000" width="0.9" height="121.5" fill="#0000a0"/>
<rect x="870" y="1000" width="0.9" height="121.5" fill="#0000a0"/>
<rect x="875" y="1000" width="0.9" height="121.5" fill="#0000a0"/>
<rect x="869" y="1086" width="3" height="22" fill="#ff8000"/>
<rect x="877" y="1090" width="2.5" height="18" fill="#f07000"/>
<rect x="861" y="1085" width="2.5" height="35" fill="#e0ff30"/>
<rect x="587" y="998" width="5.7" height="1.3" fill="#2a70ff" opacity="0.75"/>
<rect x="596.5" y="998" width="5.5" height="1.3" fill="#2a70ff" opacity="0.75"/>
<rect x="606.0" y="998" width="3.0" height="1.3" fill="#2a70ff" opacity="0.75"/>
<rect x="611.3" y="998" width="4.2" height="1.3" fill="#2a70ff" opacity="0.75"/>
<rect x="617.6" y="998" width="6.8" height="1.3" fill="#2a70ff" opacity="0.75"/>
<rect x="626.3" y="998" width="2.8" height="1.3" fill="#2a70ff" opacity="0.75"/>
<rect x="631.2" y="998" width="6.3" height="1.3" fill="#2a70ff" opacity="0.75"/>
<rect x="640.4" y="998" width="2.2" height="1.3" fill="#2a70ff" opacity="0.75"/>
<rect x="647.1" y="998" width="5.1" height="1.3" fill="#2a70ff" opacity="0.75"/>
<rect x="655.3" y="998" width="6.3" height="1.3" fill="#2a70ff" opacity="0.75"/>
<rect x="940" y="998" width="3.6" height="1.3" fill="#2a70ff" opacity="0.75"/>
<rect x="945.8" y="998" width="6.4" height="1.3" fill="#2a70ff" opacity="0.75"/>
<rect x="956.3" y="998" width="4.8" height="1.3" fill="#2a70ff" opacity="0.75"/>
<rect x="966.6" y="998" width="3.4" height="1.3" fill="#2a70ff" opacity="0.75"/>
<rect x="971.2" y="998" width="4.7" height="1.3" fill="#2a70ff" opacity="0.75"/>
<rect x="977.4" y="998" width="3.9" height="1.3" fill="#2a70ff" opacity="0.75"/>
<rect x="986.9" y="998" width="6.6" height="1.3" fill="#2a70ff" opacity="0.75"/>
<rect x="996.1" y="998" width="6.4" height="1.3" fill="#2a70ff" opacity="0.75"/>
<rect x="1006.2" y="998" width="4.8" height="1.3" fill="#2a70ff" opacity="0.75"/>
<rect x="1013.7" y="998" width="3.7" height="1.3" fill="#2a70ff" opacity="0.75"/>
<rect x="1020.3" y="998" width="3.6" height="1.3" fill="#2a70ff" opacity="0.75"/>
<rect x="1024.9" y="998" width="5.5" height="1.3" fill="#2a70ff" opacity="0.75"/>
<rect x="1033.6" y="998" width="4.1" height="1.3" fill="#2a70ff" opacity="0.75"/>
<rect x="1040.2" y="998" width="5.3" height="1.3" fill="#2a70ff" opacity="0.75"/>
<rect x="1049.6" y="998" width="3.6" height="1.3" fill="#2a70ff" opacity="0.75"/>
<rect x="1055.1" y="998" width="6.2" height="1.3" fill="#2a70ff" opacity="0.75"/>
<rect x="1062.5" y="998" width="6.8" height="1.3" fill="#2a70ff" opacity="0.75"/>
<rect x="1070.5" y="998" width="3.6" height="1.3" fill="#2a70ff" opacity="0.75"/>
<rect x="1078.2" y="998" width="4.3" height="1.3" fill="#2a70ff" opacity="0.75"/>
<rect x="1086.9" y="998" width="5.3" height="1.3" fill="#2a70ff" opacity="0.75"/>
<rect x="1094.8" y="998" width="2.5" height="1.3" fill="#2a70ff" opacity="0.75"/>
<rect x="1101.5" y="998" width="5.6" height="1.3" fill="#2a70ff" opacity="0.75"/>
<rect x="1110.0" y="998" width="4.2" height="1.3" fill="#2a70ff" opacity="0.75"/>
<rect x="1135" y="998" width="6.2" height="1.3" fill="#2a70ff" opacity="0.75"/>
<rect x="1143.9" y="998" width="5.6" height="1.3" fill="#2a70ff" opacity="0.75"/>
<rect x="1276" y="983" width="2.3" height="1.3" fill="#2a70ff" opacity="0.75"/>
<rect x="1283.4" y="983" width="6.2" height="1.3" fill="#2a70ff" opacity="0.75"/>
<rect x="1293.4" y="983" width="5.7" height="1.3" fill="#2a70ff" opacity="0.75"/>
<rect x="1303.1" y="983" width="5.2" height="1.3" fill="#2a70ff" opacity="0.75"/>
<rect x="1311.0" y="983" width="3.0" height="1.3" fill="#2a70ff" opacity="0.75"/>
<rect x="1315.2" y="983" width="3.6" height="1.3" fill="#2a70ff" opacity="0.75"/>
<rect x="1323.5" y="983" width="4.1" height="1.3" fill="#2a70ff" opacity="0.75"/>
<rect x="1328.7" y="983" width="2.8" height="1.3" fill="#2a70ff" opacity="0.75"/>
<rect x="1333.0" y="983" width="5.6" height="1.3" fill="#2a70ff" opacity="0.75"/>
<rect x="1343.5" y="983" width="5.7" height="1.3" fill="#2a70ff" opacity="0.75"/>
<rect x="259.5" y="969.5" width="1550" height="153" fill="none" stroke="#000" stroke-width="1"/>
<line x1="265" y1="1179.5" x2="1810" y2="1179.5" stroke="#000" stroke-width="1" stroke-dasharray="1 4"/>
<line x1="265" y1="1244.5" x2="1810" y2="1244.5" stroke="#000" stroke-width="1" stroke-dasharray="1 4"/>
<line x1="265" y1="1309.5" x2="1810" y2="1309.5" stroke="#000" stroke-width="1" stroke-dasharray="1 4"/>
<line x1="440.5" y1="1138" x2="440.5" y2="1355" stroke="#000" stroke-width="1" stroke-dasharray="1 4"/>
<line x1="621.5" y1="1138" x2="621.5" y2="1355" stroke="#000" stroke-width="1" stroke-dasharray="1 4"/>
<line x1="801.5" y1="1138" x2="801.5" y2="1355" stroke="#000" stroke-width="1" stroke-dasharray="1 4"/>
<line x1="981.5" y1="1138" x2="981.5" y2="1355" stroke="#000" stroke-width="1" stroke-dasharray="1 4"/>
<line x1="1162.5" y1="1138" x2="1162.5" y2="1355" stroke="#000" stroke-width="1" stroke-dasharray="1 4"/>
<line x1="1446.5" y1="1138" x2="1446.5" y2="1355" stroke="#000" stroke-width="1" stroke-dasharray="1 4"/>
<line x1="1628.5" y1="1138" x2="1628.5" y2="1355" stroke="#000" stroke-width="1" stroke-dasharray="1 4"/>
<defs><clipPath id="mapclip"><rect x="260" y="1133" width="1550" height="222"/></clipPath></defs>
<g clip-path="url(#mapclip)">
<path d="M365.1,1134.2 L367.9,1140.5 L373.6,1147.6 L375,1158.9 L379.2,1165.9 L383.4,1173 L384.9,1178.6 L390.5,1182.2 L396.1,1185.7 L401.8,1189.9 L400.4,1194.2 L406,1199.8 L411.7,1197.7 L424.4,1195.6 L431.4,1192.7 L434.3,1194.2 L433.5,1201.2 L430,1208.3 L425.8,1215.3 L421.5,1223.8 L413.1,1233.7 L403.2,1242.1 L393.3,1249.2 L387.7,1254.9 L384.9,1261.9 L380.6,1270.4 L383.4,1276 L383.4,1284.5 L388.4,1290.1 L389.1,1302.8 L389.8,1311.3 L387.7,1314.8 L382,1317.7 L376.4,1321.2 L370.7,1326.8 L363.7,1332.5 L366.5,1340.9 L367.9,1350.8 L366.5,1355.3" fill="none" stroke="#000" stroke-width="2.0" stroke-linejoin="round" stroke-linecap="round"/>
<path d="M373.6,1134.2 L379.2,1139.1 L382,1144.8 L382,1151.8 L387.7,1156.1 L391.9,1161.7 L396.1,1168.8 L399,1173.7 L400.4,1181.5 L402.5,1189.2 L410.3,1187.1 L424.4,1182.9 L434.3,1177.2 L442.7,1171.6 L452.6,1168.8 L458.2,1161.7 L463.9,1156.1 L466.7,1150.4 L471.7,1145.5 L465.3,1139.1 L458.2,1134.2" fill="none" stroke="#000" stroke-width="2.0" stroke-linejoin="round" stroke-linecap="round"/>
<path d="M435.7,1135.6 L438.5,1137.7 L445.5,1137 L451.2,1134.2" fill="none" stroke="#000" stroke-width="2.0" stroke-linejoin="round" stroke-linecap="round"/>
<path d="M502,1134.2 L509.1,1140.5 L513.3,1146.2 L515,1148.3" fill="none" stroke="#000" stroke-width="2.0" stroke-linejoin="round" stroke-linecap="round"/>
<path d="M260.6,1259.1 L266.3,1266.1 L270.5,1277.4 L273.3,1291.5 L269.1,1301.4 L264.9,1315.5 L266.3,1326.8 L271.9,1336.7 L276.2,1345.2 L277.6,1355.3" fill="none" stroke="#000" stroke-width="2.0" stroke-linejoin="round" stroke-linecap="round"/>
<path d="M271.2,1182.2 L274.8,1182.9 L280.4,1187.1 L276.2,1189.9 L272.6,1185.7Z" fill="none" stroke="#000" stroke-width="2.0" stroke-linejoin="round" stroke-linecap="round"/>
<path d="M351,1243.6 L359.4,1242.1 L361.6,1247.8 L359.4,1254.9 L351,1256.3Z" fill="none" stroke="#000" stroke-width="2.0" stroke-linejoin="round" stroke-linecap="round"/>
<path d="M339.7,1258.4 L341.1,1269 L345.3,1277.4 L346.7,1281.7" fill="none" stroke="#000" stroke-width="3.82" stroke-linejoin="round" stroke-linecap="round"/>
<path d="M360.9,1285.9 L362.3,1294.4 L365.1,1307.1" fill="none" stroke="#000" stroke-width="3.82" stroke-linejoin="round" stroke-linecap="round"/>
<path d="M403.2,1355.3 L400.4,1340.9 L406,1332.5 L401.8,1322.6 L403.2,1314.1 L410.3,1311.3 L418.7,1307.1 L424.4,1297.2 L427.2,1297.2 L431.4,1308.5 L430,1314.1 L425.8,1325.4 L421.5,1339.5 L417.3,1355.3" fill="none" stroke="#000" stroke-width="2.0" stroke-linejoin="round" stroke-linecap="round"/>
<path d="M444.1,1189.9 L449.8,1189.9" fill="none" stroke="#000" stroke-width="2.73" stroke-linejoin="round" stroke-linecap="round"/>
<path d="M452.6,1336.7 L454,1337.4" fill="none" stroke="#000" stroke-width="2.73" stroke-linejoin="round" stroke-linecap="round"/>
<path d="M461.1,1333.2 L461.8,1333.6" fill="none" stroke="#000" stroke-width="2.73" stroke-linejoin="round" stroke-linecap="round"/>
<path d="M505,1137 L512.1,1143.3 L514.9,1149 L520.5,1152.5 L526.2,1151.8 L526.2,1146.2 L527.6,1161.7 L530.4,1171.6 L536.1,1184.3 L541.7,1197 L545.2,1208.3 L548.8,1209.7 L552.3,1205.5 L557.9,1198.4 L558.6,1187.1 L560.8,1175.1 L568.5,1170.2 L578.4,1161.7 L588.3,1155.3 L591.1,1147.6 L601,1147.6 L608,1144.1 L612.3,1153.2 L617.9,1158.9 L620.7,1164.5 L620.7,1173.7 L626.4,1174.4 L632.7,1170.9" fill="none" stroke="#000" stroke-width="2.0" stroke-linejoin="round" stroke-linecap="round"/>
<path d="M632.5,1171 L634.9,1178.1 L639.6,1189.2 L638,1195.6 L637.2,1205.9 L641.2,1212.3 L646,1218.6 L648.4,1227.4 L651.5,1233.7 L657.9,1236.9 L663.5,1237.7 L659.5,1222.6 L652.3,1215.5 L646.8,1212.3 L641.5,1206 L640.4,1201.2 L645.9,1185.6 L655.5,1191.6 L659.5,1198.8 L665.8,1202 L666.6,1206 L672.2,1202.7 L683.3,1194.8 L684.1,1179.7 L669,1160.7 L682.5,1147.9 L686.5,1149.5 L688.1,1153.5 L705,1144.8 L713.9,1137.7 L723.8,1134.2" fill="none" stroke="#000" stroke-width="2.0" stroke-linejoin="round" stroke-linecap="round"/>
<path d="M681.7,1157.5 L688,1155.5 L693,1157 L691,1163 L685,1165 L681,1161Z" fill="none" stroke="#000" stroke-width="2.0" stroke-linejoin="round" stroke-linecap="round"/>
<path d="M623.7,1220.2 L634.9,1221 L650,1234.5 L661.9,1250.4 L670.6,1257.6 L670.6,1268.7 L663.5,1268.7 L649.2,1252.8 L638.8,1240.1 L625.3,1222.6Z" fill="none" stroke="#000" stroke-width="2.0" stroke-linejoin="round" stroke-linecap="round"/>
<path d="M628,1232.5 L629,1233.5" fill="none" stroke="#000" stroke-width="2.73" stroke-linejoin="round" stroke-linecap="round"/>
<path d="M633.5,1238.5 L635,1240.5" fill="none" stroke="#000" stroke-width="2.73" stroke-linejoin="round" stroke-linecap="round"/>
<path d="M640,1249 L641,1251" fill="none" stroke="#000" stroke-width="2.73" stroke-linejoin="round" stroke-linecap="round"/>
<path d="M678,1255 L680.5,1255 L680.5,1257.5 L678,1257.5Z" fill="none" stroke="#000" stroke-width="1.64" stroke-linejoin="round" stroke-linecap="round"/>
<path d="M558.6,1201.2 L561.5,1203.3 L565.7,1209.7 L567.1,1215.3 L561.5,1218.9 L557.9,1216.7 L557.2,1209.7Z" fill="none" stroke="#000" stroke-width="2.0" stroke-linejoin="round" stroke-linecap="round"/>
<path d="M613.7,1186.4 L613.4,1192.7" fill="none" stroke="#000" stroke-width="2.73" stroke-linejoin="round" stroke-linecap="round"/>
<path d="M668.7,1271.8 L681.4,1273.2 L702.6,1274.6 L716.7,1278.8 L730.8,1280.3 L744.9,1278.8 L759.1,1277.4 L753.4,1281.7 L730.8,1283.8 L716.7,1283.1 L702.6,1278.8 L681.4,1277.4 L668.7,1273.9Z" fill="none" stroke="#000" stroke-width="2.0" stroke-linejoin="round" stroke-linecap="round"/>
<path d="M726.6,1283.1 L730.8,1287.3 L735.1,1288.7" fill="none" stroke="#000" stroke-width="2.0" stroke-linejoin="round" stroke-linecap="round"/>
<path d="M746.4,1288.7 L753.4,1283.1 L761.9,1278.8" fill="none" stroke="#000" stroke-width="2.0" stroke-linejoin="round" stroke-linecap="round"/>
<path d="M682.8,1237.9 L688.5,1235.1 L695.5,1229.4 L708.2,1223.8 L719.5,1215.3 L728,1222.4 L722.4,1232.3 L725.2,1240.7 L719.5,1252 L712.5,1260.5 L708.2,1261.9 L697,1257.7 L688.5,1254.9 L685.7,1246.4Z" fill="none" stroke="#000" stroke-width="2.0" stroke-linejoin="round" stroke-linecap="round"/>
<path d="M730.9,1141.3 L733.2,1135.6 L738.9,1134.7 L738,1142.2 L735.1,1147 L731.8,1144.1Z" fill="none" stroke="#000" stroke-width="2.0" stroke-linejoin="round" stroke-linecap="round"/>
<path d="M732.3,1163.4 L742.2,1163.4 L742.2,1170.5 L738.9,1176.1 L736.1,1182.7 L734.2,1190.3 L730.4,1180.8 L730.4,1172.4Z" fill="none" stroke="#000" stroke-width="2.0" stroke-linejoin="round" stroke-linecap="round"/>
<path d="M737,1182.7 L744.5,1182.7 L754,1190.3 L755.8,1197.8 L759.6,1205.3 L755.8,1206.3 L748.3,1205.3 L740.8,1197.8 L737,1190.3Z" fill="none" stroke="#000" stroke-width="2.0" stroke-linejoin="round" stroke-linecap="round"/>
<path d="M739,1194 L752,1196" fill="none" stroke="#000" stroke-width="1.82" stroke-linejoin="round" stroke-linecap="round"/>
<path d="M742,1201 L756,1202" fill="none" stroke="#000" stroke-width="1.82" stroke-linejoin="round" stroke-linecap="round"/>
<path d="M748.3,1212.9 L755.8,1211 L759.6,1214.7 L757.7,1219.5 L753,1220.4 L748.3,1216.6Z" fill="none" stroke="#000" stroke-width="2.0" stroke-linejoin="round" stroke-linecap="round"/>
<path d="M719.1,1207.2 L729.5,1195.9" fill="none" stroke="#000" stroke-width="2.73" stroke-linejoin="round" stroke-linecap="round"/>
<path d="M728.8,1268.4 L727.6,1257.1 L731.4,1241.1 L737,1238.3 L753,1237.3 L749.3,1241.1 L738,1243 L735.1,1245.8 L746.4,1247.2 L738,1251.4 L736.1,1254.3 L744.5,1266.5 L741.7,1268.4 L735.1,1258.1 L733.2,1268.4" fill="none" stroke="#000" stroke-width="2.0" stroke-linejoin="round" stroke-linecap="round"/>
<path d="M762.4,1235.5 L767.1,1237.3 L768.1,1243 L765.3,1250.5 L762.4,1241.1Z" fill="none" stroke="#000" stroke-width="2.0" stroke-linejoin="round" stroke-linecap="round"/>
<path d="M767,1256 L774,1258 L777,1262 L770,1261Z" fill="none" stroke="#000" stroke-width="2.0" stroke-linejoin="round" stroke-linecap="round"/>
<path d="M757,1259 L759,1260" fill="none" stroke="#000" stroke-width="2.73" stroke-linejoin="round" stroke-linecap="round"/>
<path d="M759.1,1259.1 L759.8,1259.8" fill="none" stroke="#000" stroke-width="2.73" stroke-linejoin="round" stroke-linecap="round"/>
<path d="M763.3,1240.7 L765,1246.4" fill="none" stroke="#000" stroke-width="2.73" stroke-linejoin="round" stroke-linecap="round"/>
<path d="M702.6,1355.3 L704,1342.4 L713.9,1338.1 L728,1332.5 L737.9,1328.2 L742.1,1319.8 L753.4,1311.3 L761.9,1305.7 L765,1304.3" fill="none" stroke="#000" stroke-width="2.0" stroke-linejoin="round" stroke-linecap="round"/>
<path d="M774.9,1245.7 L780.2,1244.1 L787.1,1245.7 L791.7,1249.5 L796.3,1257.9 L800.9,1252.5 L808.6,1250.2 L820,1254.8 L831.5,1259.4 L839.2,1263.3 L841.5,1267.1 L849.1,1270.9 L846,1274.7 L854.5,1283.1 L860.6,1287.7 L862.1,1290 L850.6,1287.7 L843,1280.1 L836.1,1275.5 L828.5,1284.7 L821.6,1283.1 L816.2,1278.6 L807.8,1280.1 L810.1,1274 L804.7,1266.3 L794.8,1262.5 L785.6,1257.9 L781,1252.5Z" fill="none" stroke="#000" stroke-width="2.0" stroke-linejoin="round" stroke-linecap="round"/>
<path d="M863.6,1255.6 L872,1260 L873.6,1262.7 L867.5,1267.8 L854.5,1270.9" fill="none" stroke="#000" stroke-width="2.73" stroke-linejoin="round" stroke-linecap="round"/>
<path d="M755,1305.3 L766.5,1310 L772.6,1309.2 L780,1306 L790,1303 L797.8,1308.4 L802.4,1313.8 L817.7,1322.9 L822.3,1317.6 L824.6,1307.6 L826,1297 L827.7,1290.8 L830.7,1293.9 L833,1301.5 L839.2,1307.6 L841.5,1318.3 L846.8,1326 L854.5,1333.6 L862.1,1342.8 L869.8,1353.5 L871,1356" fill="none" stroke="#000" stroke-width="2.0" stroke-linejoin="round" stroke-linecap="round"/>
<path d="M763,1234 L767,1236 L766,1243 L763,1248 L767,1251" fill="none" stroke="#000" stroke-width="2.73" stroke-linejoin="round" stroke-linecap="round"/>
<path d="M765,1256 L775,1256 L777,1259 L768,1260Z" fill="none" stroke="#000" stroke-width="2.0" stroke-linejoin="round" stroke-linecap="round"/>
<path d="M756.5,1257 L759,1258 L757,1260Z" fill="none" stroke="#000" stroke-width="2.27" stroke-linejoin="round" stroke-linecap="round"/>
<path d="M791,1268 L794,1270 L792,1274 L790,1272Z" fill="none" stroke="#000" stroke-width="2.27" stroke-linejoin="round" stroke-linecap="round"/>
<path d="M779.5,1275 L781,1278" fill="none" stroke="#000" stroke-width="2.73" stroke-linejoin="round" stroke-linecap="round"/>
<path d="M755,1277 L760,1279 L758,1283 L755,1283Z" fill="none" stroke="#000" stroke-width="2.27" stroke-linejoin="round" stroke-linecap="round"/>
<path d="M799,1248 L800,1249" fill="none" stroke="#000" stroke-width="2.73" stroke-linejoin="round" stroke-linecap="round"/>
<path d="M845,1252.5 L847,1252.5" fill="none" stroke="#000" stroke-width="2.73" stroke-linejoin="round" stroke-linecap="round"/>
<path d="M766,1308 L772,1310" fill="none" stroke="#000" stroke-width="2.73" stroke-linejoin="round" stroke-linecap="round"/>
<path d="M879.2,1266.8 L887.7,1271.8 L893.3,1276 L896.1,1278.8" fill="none" stroke="#000" stroke-width="2.27" stroke-linejoin="round" stroke-linecap="round"/>
<path d="M900.4,1284.5 L907.4,1281.7 L910.3,1287.3" fill="none" stroke="#000" stroke-width="2.73" stroke-linejoin="round" stroke-linecap="round"/>
<path d="M931.4,1308.5 L937.1,1317" fill="none" stroke="#000" stroke-width="2.73" stroke-linejoin="round" stroke-linecap="round"/>
<path d="M921.5,1333.9 L934.3,1342.4 L928.6,1340.9Z" fill="none" stroke="#000" stroke-width="2.0" stroke-linejoin="round" stroke-linecap="round"/>
<path d="M978,1321.2 L983.7,1317 L989.3,1315.5" fill="none" stroke="#000" stroke-width="2.27" stroke-linejoin="round" stroke-linecap="round"/>
<path d="M1073.5,1147.6 L1077.7,1145.9" fill="none" stroke="#000" stroke-width="2.73" stroke-linejoin="round" stroke-linecap="round"/>
<path d="M1082.6,1149 L1089.7,1151.8 L1092.5,1154.6 L1098.2,1158.9 L1093.9,1161.7 L1092.5,1157.5" fill="none" stroke="#000" stroke-width="2.73" stroke-linejoin="round" stroke-linecap="round"/>
<path d="M1019.1,1301.4 L1027.6,1305" fill="none" stroke="#000" stroke-width="2.73" stroke-linejoin="round" stroke-linecap="round"/>
<path d="M1120.7,1320.5 L1121.4,1321.9" fill="none" stroke="#000" stroke-width="2.73" stroke-linejoin="round" stroke-linecap="round"/>
<path d="M1280.4,1134.2 L1293.1,1141.2 L1291,1144.1 L1283.2,1136.3Z" fill="none" stroke="#000" stroke-width="2.0" stroke-linejoin="round" stroke-linecap="round"/>
<path d="M1298.8,1134.2 L1308.6,1144.8 L1310,1153.2 L1308.6,1156.1 L1314.3,1160.3 L1322.7,1165.9 L1334,1170.2 L1345.3,1174.4 L1353.8,1174.4 L1362.3,1177.2 L1367.9,1182.9 L1379.2,1185.7 L1387.7,1189.9 L1394.7,1198.4 L1399,1204 L1407.4,1209.7 L1415.9,1212.5 L1418.7,1209.7 L1424.4,1204 L1431.4,1206.9 L1430,1212.5 L1425.8,1209.7 L1431.4,1216.7 L1431.4,1229.4 L1427.2,1233.7 L1418.7,1240.7 L1415.9,1249.2 L1418.7,1256.3 L1413.1,1263.3 L1415.9,1271.8 L1423,1278.8 L1427.2,1287.3 L1432.8,1297.2 L1435.7,1305.7 L1441.3,1312.7 L1452.6,1318.4 L1461.1,1325.4 L1462.5,1342.4 L1459.7,1355.3" fill="none" stroke="#000" stroke-width="2.0" stroke-linejoin="round" stroke-linecap="round"/>
<path d="M1343.9,1134.2 L1342.5,1146.2 L1346.7,1156.1 L1358,1164.5 L1370.7,1161.7 L1375,1151.8 L1389.1,1149 L1390.5,1153.2 L1386.3,1164.5 L1383.4,1174.4 L1400.4,1175.8 L1406,1184.3 L1404.6,1195.6 L1408.8,1204 L1417.3,1206.9 L1424.4,1202.6 L1430,1205.5 L1432.8,1209.7 L1438.5,1198.4 L1445.5,1194.2 L1455.4,1189.9 L1459.7,1192.7 L1466.7,1192.7 L1475.2,1198.4 L1487.9,1198.4 L1494.9,1199.8 L1502,1205.5 L1511.9,1213.9 L1515,1215.3" fill="none" stroke="#000" stroke-width="2.0" stroke-linejoin="round" stroke-linecap="round"/>
<path d="M1399,1147.6 L1410.3,1141.9 L1424.4,1144.8 L1438.5,1153.2 L1448.4,1157.5 L1437.1,1156.1 L1424.4,1147.6 L1410.3,1144.8 L1401.8,1148.3Z" fill="none" stroke="#000" stroke-width="2.0" stroke-linejoin="round" stroke-linecap="round"/>
<path d="M1444.1,1163.1 L1452.6,1157.5 L1459.7,1158.9 L1468.1,1163.1 L1455.4,1165.9 L1445.5,1165.2Z" fill="none" stroke="#000" stroke-width="2.0" stroke-linejoin="round" stroke-linecap="round"/>
<path d="M1427.2,1164.5 L1435.7,1165.2 L1430,1166.6Z" fill="none" stroke="#000" stroke-width="2.0" stroke-linejoin="round" stroke-linecap="round"/>
<path d="M1475.2,1163.8 L1482.2,1164.5 L1478,1165.9Z" fill="none" stroke="#000" stroke-width="2.0" stroke-linejoin="round" stroke-linecap="round"/>
<path d="M1427.2,1134.9 L1430,1137.7" fill="none" stroke="#000" stroke-width="2.73" stroke-linejoin="round" stroke-linecap="round"/>
<path d="M1438.5,1134.2 L1444.1,1141.9 L1455.4,1149" fill="none" stroke="#000" stroke-width="2.73" stroke-linejoin="round" stroke-linecap="round"/>
<path d="M1499.2,1173.7 L1501.3,1180" fill="none" stroke="#000" stroke-width="2.73" stroke-linejoin="round" stroke-linecap="round"/>
<path d="M1371.4,1245.7 L1372.1,1247.8" fill="none" stroke="#000" stroke-width="2.73" stroke-linejoin="round" stroke-linecap="round"/>
<path d="M1454,1191.3 L1455.4,1204" fill="none" stroke="#000" stroke-width="2.73" stroke-linejoin="round" stroke-linecap="round"/>
<path d="M1505,1206.9 L1512.1,1212.5 L1519.1,1218.2 L1526.2,1218.2 L1536.1,1222.4 L1544.5,1228 L1548.8,1237.9 L1547.3,1243.6 L1544.5,1246.4 L1543.1,1250.6 L1554.4,1245 L1558.6,1247.8 L1565.7,1249.2 L1572.7,1253.4 L1578.4,1254.9 L1589.7,1256.3 L1601,1264.7 L1610.9,1266.1 L1613.7,1273.2 L1612.3,1281.7 L1603.8,1293 L1596.7,1302.8 L1595.3,1319.8 L1592.5,1331.1 L1586.9,1340.9 L1575.6,1345.2 L1564.3,1350.8 L1560,1355.3" fill="none" stroke="#000" stroke-width="2.0" stroke-linejoin="round" stroke-linecap="round"/>
<path d="M1699.8,1134.2 L1692.7,1140.5 L1691.3,1150.4 L1694.1,1157.5 L1692.7,1168.8 L1689.9,1180 L1692.7,1189.9 L1697,1194.2 L1705.4,1201.2 L1708.2,1209.7 L1719.5,1218.2 L1730.8,1225.2 L1744.9,1221 L1756.2,1222.4 L1765,1219.6" fill="none" stroke="#000" stroke-width="2.0" stroke-linejoin="round" stroke-linecap="round"/>
<path d="M1705.6,1202.6 L1708.5,1209.7 L1716.9,1215.3 L1728.2,1225.2 L1732.5,1226.6 L1746.6,1221 L1756.5,1223.8 L1770.6,1218.2 L1779,1215.3 L1784.7,1218.2 L1788.9,1225.2 L1801.6,1225.2 L1805.9,1232.3 L1804.4,1246.4 L1803,1249.2 L1810.4,1259.1" fill="none" stroke="#000" stroke-width="2.0" stroke-linejoin="round" stroke-linecap="round"/>
<path d="M260,1203.3 L264,1204 L268,1204.7 L272,1205.4 L276,1206.1 L280,1206.9 L284,1207.6 L288,1208.4 L292,1209.1 L296,1209.9 L300,1210.7 L304,1211.5 L308,1212.4 L312,1213.2 L316,1214 L320,1214.9 L324,1215.7 L328,1216.6 L332,1217.5 L336,1218.3 L340,1219.2 L344,1220.1 L348,1221 L352,1221.9 L356,1222.9 L360,1223.8 L364,1224.7 L368,1225.7 L372,1226.6 L376,1227.5 L380,1228.5 L384,1229.4 L388,1230.4 L392,1231.4 L396,1232.3 L400,1233.3 L404,1234.3 L408,1235.3 L412,1236.3 L416,1237.2 L420,1238.2 L424,1239.2 L428,1240.2 L432,1241.2 L436,1242.2 L440,1243.2 L444,1244.2 L448,1245.2 L452,1246.2 L456,1247.2 L460,1248.2 L464,1249.2 L468,1250.1 L472,1251.1 L476,1252.1 L480,1253.1 L484,1254.1 L488,1255.1 L492,1256 L496,1257 L500,1258 L504,1258.9 L508,1259.9 L512,1260.8 L516,1261.8 L520,1262.7 L524,1263.7 L528,1264.6 L532,1265.5 L536,1266.4 L540,1267.4 L544,1268.3 L548,1269.2 L552,1270 L556,1270.9 L560,1271.8 L564,1272.7 L568,1273.5 L572,1274.4 L576,1275.2 L580,1276 L584,1276.9 L588,1277.7 L592,1278.5 L596,1279.3 L600,1280 L604,1280.8 L608,1281.6 L612,1282.3 L616,1283 L620,1283.8 L624,1284.5 L628,1285.2 L632,1285.8 L636,1286.5 L640,1287.2 L644,1287.8 L648,1288.5 L652,1289.1 L656,1289.7 L660,1290.3 L664,1290.9 L668,1291.4 L672,1292 L676,1292.5 L680,1293 L684,1293.5 L688,1294 L692,1294.5 L696,1294.9 L700,1295.4 L704,1295.8 L708,1296.2 L712,1296.6 L716,1297 L720,1297.4 L724,1297.7 L728,1298.1 L732,1298.4 L736,1298.7 L740,1299 L744,1299.2 L748,1299.5 L752,1299.7 L756,1299.9 L760,1300.1 L764,1300.3 L768,1300.5 L772,1300.6 L776,1300.8 L780,1300.9 L784,1301 L788,1301 L792,1301.1 L796,1301.2 L800,1301.2 L804,1301.2 L808,1301.2 L812,1301.2 L816,1301.1 L820,1301.1 L824,1301 L828,1300.9 L832,1300.8 L836,1300.7 L840,1300.5 L844,1300.4 L848,1300.2 L852,1300 L856,1299.8 L860,1299.6 L864,1299.3 L868,1299.1 L872,1298.8 L876,1298.5 L880,1298.2 L884,1297.9 L888,1297.5 L892,1297.2 L896,1296.8 L900,1296.4 L904,1296 L908,1295.6 L912,1295.1 L916,1294.7 L920,1294.2 L924,1293.7 L928,1293.2 L932,1292.7 L936,1292.2 L940,1291.7 L944,1291.1 L948,1290.5 L952,1289.9 L956,1289.4 L960,1288.7 L964,1288.1 L968,1287.5 L972,1286.8 L976,1286.2 L980,1285.5 L984,1284.8 L988,1284.1 L992,1283.4 L996,1282.7 L1000,1281.9 L1004,1281.2 L1008,1280.4 L1012,1279.7 L1016,1278.9 L1020,1278.1 L1024,1277.3 L1028,1276.5 L1032,1275.7 L1036,1274.9 L1040,1274 L1044,1273.2 L1048,1272.3 L1052,1271.5 L1056,1270.6 L1060,1269.7 L1064,1268.8 L1068,1267.9 L1072,1267 L1076,1266.1 L1080,1265.2 L1084,1264.3 L1088,1263.4 L1092,1262.4 L1096,1261.5 L1100,1260.5 L1104,1259.6 L1108,1258.6 L1112,1257.7 L1116,1256.7 L1120,1255.8 L1124,1254.8 L1128,1253.8 L1132,1252.9 L1136,1251.9 L1140,1250.9 L1144,1249.9 L1148,1248.9 L1152,1248 L1156,1247 L1160,1246 L1164,1245 L1168.7,1243.8" fill="none" stroke="#c80000" stroke-width="1.1"/>
<path d="M1274.8,1243.5 L1278.8,1242.5 L1282.8,1241.5 L1286.8,1240.5 L1290.8,1239.5 L1294.8,1238.6 L1298.8,1237.6 L1302.8,1236.6 L1306.8,1235.6 L1310.8,1234.6 L1314.8,1233.7 L1318.8,1232.7 L1322.8,1231.7 L1326.8,1230.8 L1330.8,1229.8 L1334.8,1228.9 L1338.8,1227.9 L1342.8,1227 L1346.8,1226 L1350.8,1225.1 L1354.8,1224.2 L1358.8,1223.3 L1362.8,1222.4 L1366.8,1221.4 L1370.8,1220.5 L1374.8,1219.7 L1378.8,1218.8 L1382.8,1217.9 L1386.8,1217 L1390.8,1216.2 L1394.8,1215.3 L1398.8,1214.5 L1402.8,1213.6 L1406.8,1212.8 L1410.8,1212 L1414.8,1211.2 L1418.8,1210.4 L1422.8,1209.6 L1426.8,1208.8 L1430.8,1208 L1434.8,1207.3 L1438.8,1206.5 L1442.8,1205.8 L1446.8,1205.1 L1450.8,1204.4 L1454.8,1203.7 L1458.8,1203 L1462.8,1202.3 L1466.8,1201.7 L1470.8,1201 L1474.8,1200.4 L1478.8,1199.7 L1482.8,1199.1 L1486.8,1198.5 L1490.8,1198 L1494.8,1197.4 L1498.8,1196.8 L1502.8,1196.3 L1506.8,1195.8 L1510.8,1195.3 L1514.8,1194.8 L1518.8,1194.3 L1522.8,1193.8 L1526.8,1193.4 L1530.8,1192.9 L1534.8,1192.5 L1538.8,1192.1 L1542.8,1191.7 L1546.8,1191.3 L1550.8,1191 L1554.8,1190.6 L1558.8,1190.3 L1562.8,1190 L1566.8,1189.7 L1570.8,1189.4 L1574.8,1189.2 L1578.8,1188.9 L1582.8,1188.7 L1586.8,1188.5 L1590.8,1188.3 L1594.8,1188.1 L1598.8,1188 L1602.8,1187.8 L1606.8,1187.7 L1610.8,1187.6 L1614.8,1187.5 L1618.8,1187.4 L1622.8,1187.4 L1626.8,1187.3 L1630.8,1187.3 L1634.8,1187.3 L1638.8,1187.3 L1642.8,1187.4 L1646.8,1187.4 L1650.8,1187.5 L1654.8,1187.6 L1658.8,1187.7 L1662.8,1187.8 L1666.8,1187.9 L1670.8,1188.1 L1674.8,1188.2 L1678.8,1188.4 L1682.8,1188.6 L1686.8,1188.8 L1690.8,1189.1 L1694.8,1189.3 L1698.8,1189.6 L1702.8,1189.9 L1706.8,1190.2 L1710.8,1190.5 L1714.8,1190.8 L1718.8,1191.2 L1722.8,1191.5 L1726.8,1191.9 L1730.8,1192.3 L1734.8,1192.7 L1738.8,1193.2 L1742.8,1193.6 L1746.8,1194.1 L1750.8,1194.5 L1754.8,1195 L1758.8,1195.5 L1762.8,1196.1 L1766.8,1196.6 L1770.8,1197.1 L1774.8,1197.7 L1778.8,1198.3 L1782.8,1198.9 L1786.8,1199.5 L1790.8,1200.1 L1794.8,1200.7 L1798.8,1201.4 L1802.8,1202 L1806.8,1202.7 L1810,1203.3" fill="none" stroke="#c80000" stroke-width="1.1"/>
<path d="M259.2,1198.4 L283.2,1199.8 L325.6,1204 L367.9,1208.3 L407.4,1212.5 L438.5,1213.2 L480.8,1213.9 L505,1211.8 L521.9,1210.4 L550.2,1209.7 L586.9,1208.3 L646.1,1207.6 L702.6,1208.3 L755,1209.7 L801.6,1208.3 L853.8,1209.7 L896.1,1216.7 L938.5,1223.8 L980.8,1232.3 L1010,1234.5 L1075.6,1243.6 L1153.2,1254.9 L1265,1270.4 L1311.5,1276 L1375,1290.1 L1434.3,1297.2 L1441.3,1298.6 L1509,1278.8 L1547.3,1259.1 L1589.7,1236.5 L1634.9,1215.3 L1694.1,1198.4 L1765,1196.3 L1810,1198" fill="none" stroke="#10f010" stroke-width="6" stroke-linejoin="round" stroke-linecap="round"/>
<rect x="-5.5" y="-6.5" width="11" height="13" fill="#ff0000" transform="translate(740,1298.5) rotate(2.9)"/>
<rect x="-5.5" y="-6.5" width="11" height="13" fill="#ff0000" transform="translate(754,1299.2) rotate(3)"/>
<rect x="-5.5" y="-6.5" width="11" height="13" fill="#ff0000" transform="translate(768.4,1300) rotate(1.6)"/>
<rect x="-5.5" y="-6.5" width="11" height="13" fill="#ff0000" transform="translate(781.8,1300) rotate(1.5)"/>
<rect x="-5.5" y="-6.5" width="11" height="13" fill="#ff0000" transform="translate(795.9,1300.7) rotate(1.4)"/>
<rect x="-5.5" y="-6.5" width="11" height="13" fill="#ff0000" transform="translate(810,1300.7) rotate(0)"/>
<rect x="-5.5" y="-6.5" width="11" height="13" fill="#ff0000" transform="translate(824.2,1300.7) rotate(0)"/>
<rect x="-5.5" y="-6.5" width="11" height="13" fill="#ff0000" transform="translate(838.3,1300.7) rotate(-1.5)"/>
<rect x="-5.5" y="-6.5" width="11" height="13" fill="#ff0000" transform="translate(851.7,1300) rotate(-3)"/>
<rect x="-5.5" y="-6.5" width="11" height="13" fill="#ff0000" transform="translate(865.1,1299.3) rotate(-4.4)"/>
<rect x="-5.5" y="-6.5" width="11" height="13" fill="#ff0000" transform="translate(879.2,1297.9) rotate(-5.7)"/>
<rect x="-5.5" y="-6.5" width="11" height="13" fill="#ff0000" transform="translate(893.3,1296.5) rotate(-5.7)"/>
<rect x="-5.5" y="-6.5" width="11" height="13" fill="#ff0000" transform="translate(907.4,1295.1) rotate(-5.7)"/>
<rect x="-5.5" y="-6.5" width="11" height="13" fill="#ff0000" transform="translate(921.6,1293.7) rotate(-5.9)"/>
<rect x="-5.5" y="-6.5" width="11" height="13" fill="#ff0000" transform="translate(935.7,1292.2) rotate(-7.3)"/>
<rect x="-5.5" y="-6.5" width="11" height="13" fill="#ff0000" transform="translate(949.8,1290.1) rotate(-8.5)"/>
<rect x="-5.5" y="-6.5" width="11" height="13" fill="#ff0000" transform="translate(963.9,1288) rotate(-9.9)"/>
<rect x="-5.5" y="-6.5" width="11" height="13" fill="#ff0000" transform="translate(978,1285.2) rotate(-11)"/>
<rect x="-5.5" y="-6.5" width="11" height="13" fill="#ff0000" transform="translate(992.8,1282.4) rotate(-8.2)"/>
<rect x="-5.5" y="-6.5" width="11" height="13" fill="#ff0000" transform="translate(1007.1,1281) rotate(-8.8)"/>
<rect x="-5.5" y="-6.5" width="11" height="13" fill="#ff0000" transform="translate(1020.5,1278.1) rotate(-11.7)"/>
<rect x="-5.5" y="-6.5" width="11" height="13" fill="#ff0000" transform="translate(1034.6,1275.3) rotate(-11.2)"/>
<rect x="-5.5" y="-6.5" width="11" height="13" fill="#ff0000" transform="translate(1048.8,1272.5) rotate(-11.2)"/>
<rect x="-5.5" y="-6.5" width="11" height="13" fill="#ff0000" transform="translate(1062.9,1269.7) rotate(-13.1)"/>
<rect x="-5.5" y="-6.5" width="11" height="13" fill="#ff0000" transform="translate(1076.3,1266.1) rotate(-14.5)"/>
<rect x="-5.5" y="-6.5" width="11" height="13" fill="#ff0000" transform="translate(1090.4,1262.6) rotate(-13.9)"/>
<rect x="-5.5" y="-6.5" width="11" height="13" fill="#ff0000" transform="translate(1104.5,1259.1) rotate(-12.6)"/>
<rect x="-5.5" y="-6.5" width="11" height="13" fill="#ff0000" transform="translate(1118.6,1256.3) rotate(-14.1)"/>
<rect x="-5.5" y="-6.5" width="11" height="13" fill="#ff0000" transform="translate(1132.7,1252) rotate(-14.1)"/>
<rect x="-5.5" y="-6.5" width="11" height="13" fill="#ff0000" transform="translate(1146.8,1249.2) rotate(-14.2)"/>
<rect x="-5.5" y="-6.5" width="11" height="13" fill="#ff0000" transform="translate(1160.3,1245) rotate(-17.3)"/>
<rect x="-5.5" y="-6.5" width="11" height="13" fill="#ff0000" transform="translate(1283.2,1241.4) rotate(-16.6)"/>
<rect x="-5.5" y="-6.5" width="11" height="13" fill="#ff0000" transform="translate(1297.3,1237.2) rotate(-13.9)"/>
<rect x="-5.5" y="-6.5" width="11" height="13" fill="#ff0000" transform="translate(1311.5,1234.4) rotate(-12.6)"/>
<rect x="-5.5" y="-6.5" width="11" height="13" fill="#ff0000" transform="translate(1325.6,1230.9) rotate(-14.1)"/>
<rect x="-5.5" y="-6.5" width="11" height="13" fill="#ff0000" transform="translate(1339.7,1227.3) rotate(-14.3)"/>
<line x1="1350" y1="1221" x2="1351.5" y2="1231" stroke="#cc0000" stroke-width="1.2"/>
</g>
<path d="M838.3,1177.6 L840.1,1182.7 L845.4,1182.8 L841.2,1186 L842.7,1191.2 L838.3,1188.1 L833.9,1191.2 L835.4,1186 L831.2,1182.8 L836.5,1182.7Z" fill="none" stroke="#cc00cc" stroke-width="1"/>
<path d="M935,1195.9 L936.8,1201 L942.1,1201.1 L937.9,1204.3 L939.4,1209.5 L935,1206.4 L930.6,1209.5 L932.1,1204.3 L927.9,1201.1 L933.2,1201Z" fill="none" stroke="#cc00cc" stroke-width="1"/>
<path d="M1086.2,1227.7 L1088,1232.8 L1093.3,1232.9 L1089.1,1236.1 L1090.6,1241.3 L1086.2,1238.2 L1081.8,1241.3 L1083.3,1236.1 L1079.1,1232.9 L1084.4,1232.8Z" fill="none" stroke="#cc00cc" stroke-width="1"/>
<path d="M1432.8,1289.1 L1434.6,1294.2 L1439.9,1294.3 L1435.7,1297.5 L1437.2,1302.7 L1432.8,1299.6 L1428.4,1302.7 L1429.9,1297.5 L1425.7,1294.3 L1431,1294.2Z" fill="none" stroke="#cc00cc" stroke-width="1"/>
<path d="M1572.7,1248.2 L1574.5,1253.3 L1579.8,1253.4 L1575.6,1256.6 L1577.1,1261.8 L1572.7,1258.7 L1568.3,1261.8 L1569.8,1256.6 L1565.6,1253.4 L1570.9,1253.3Z" fill="none" stroke="#cc00cc" stroke-width="1"/>
<path d="M1810.1,1245.4 L1811.9,1250.5 L1817.2,1250.6 L1813,1253.8 L1814.5,1259 L1810.1,1255.9 L1805.7,1259 L1807.2,1253.8 L1803,1250.6 L1808.3,1250.5Z" fill="none" stroke="#cc00cc" stroke-width="1"/>
<path d="M1810.1,1256.7 L1811.9,1261.8 L1817.2,1261.9 L1813,1265.1 L1814.5,1270.3 L1810.1,1267.2 L1805.7,1270.3 L1807.2,1265.1 L1803,1261.9 L1808.3,1261.8Z" fill="none" stroke="#cc00cc" stroke-width="1"/>
<line x1="260" y1="1179.5" x2="276" y2="1179.5" stroke="#000" stroke-width="1"/>
<line x1="1794" y1="1179.5" x2="1810" y2="1179.5" stroke="#000" stroke-width="1"/>
<line x1="260" y1="1244.5" x2="276" y2="1244.5" stroke="#000" stroke-width="1"/>
<line x1="1794" y1="1244.5" x2="1810" y2="1244.5" stroke="#000" stroke-width="1"/>
<line x1="260" y1="1309.5" x2="276" y2="1309.5" stroke="#000" stroke-width="1"/>
<line x1="1794" y1="1309.5" x2="1810" y2="1309.5" stroke="#000" stroke-width="1"/>
<line x1="440.5" y1="1133" x2="440.5" y2="1149" stroke="#000" stroke-width="1"/>
<line x1="440.5" y1="1339" x2="440.5" y2="1355" stroke="#000" stroke-width="1"/>
<line x1="621.5" y1="1133" x2="621.5" y2="1149" stroke="#000" stroke-width="1"/>
<line x1="621.5" y1="1339" x2="621.5" y2="1355" stroke="#000" stroke-width="1"/>
<line x1="801.5" y1="1133" x2="801.5" y2="1149" stroke="#000" stroke-width="1"/>
<line x1="801.5" y1="1339" x2="801.5" y2="1355" stroke="#000" stroke-width="1"/>
<line x1="981.5" y1="1133" x2="981.5" y2="1149" stroke="#000" stroke-width="1"/>
<line x1="981.5" y1="1339" x2="981.5" y2="1355" stroke="#000" stroke-width="1"/>
<line x1="1162.5" y1="1133" x2="1162.5" y2="1149" stroke="#000" stroke-width="1"/>
<line x1="1162.5" y1="1339" x2="1162.5" y2="1355" stroke="#000" stroke-width="1"/>
<line x1="1446.5" y1="1133" x2="1446.5" y2="1149" stroke="#000" stroke-width="1"/>
<line x1="1446.5" y1="1339" x2="1446.5" y2="1355" stroke="#000" stroke-width="1"/>
<line x1="1628.5" y1="1133" x2="1628.5" y2="1149" stroke="#000" stroke-width="1"/>
<line x1="1628.5" y1="1339" x2="1628.5" y2="1355" stroke="#000" stroke-width="1"/>
<rect x="260.5" y="1133.5" width="1550" height="222" fill="none" stroke="#000" stroke-width="1"/>
<text x="1033.5" y="113.5" font-size="28" font-weight="bold" text-anchor="middle" transform="translate(1033.5,0) scale(1.027,1) translate(-1033.5,0)">Day 260  17-Sep-2011 10:38:05   orbit 18562</text>
<text x="208" y="145.7" font-size="28" text-anchor="start" fill="#000" font-weight="normal" >10</text>
<text x="240.5" y="128.7" font-size="17" text-anchor="start" fill="#000" font-weight="normal" >7</text>
<text x="208" y="349.7" font-size="28" text-anchor="start" fill="#000" font-weight="normal" >10</text>
<text x="240.5" y="332.7" font-size="17" text-anchor="start" fill="#000" font-weight="normal" >6</text>
<text x="208" y="553.7" font-size="28" text-anchor="start" fill="#000" font-weight="normal" >10</text>
<text x="240.5" y="536.7" font-size="17" text-anchor="start" fill="#000" font-weight="normal" >5</text>
<text x="208" y="757.7" font-size="28" text-anchor="start" fill="#000" font-weight="normal" >10</text>
<text x="240.5" y="740.7" font-size="17" text-anchor="start" fill="#000" font-weight="normal" >4</text>
<text x="208" y="961.7" font-size="28" text-anchor="start" fill="#000" font-weight="normal" >10</text>
<text x="240.5" y="944.7" font-size="17" text-anchor="start" fill="#000" font-weight="normal" >3</text>
<text transform="translate(1816.5,920.3) scale(1.035,1)" font-size="28" text-anchor="start" fill="#1010d8" font-weight="normal" >400</text>
<text transform="translate(1816.5,838.7) scale(1.035,1)" font-size="28" text-anchor="start" fill="#1010d8" font-weight="normal" >450</text>
<text transform="translate(1816.5,757.1) scale(1.035,1)" font-size="28" text-anchor="start" fill="#1010d8" font-weight="normal" >500</text>
<text transform="translate(1816.5,675.5) scale(1.035,1)" font-size="28" text-anchor="start" fill="#1010d8" font-weight="normal" >550</text>
<text transform="translate(1816.5,593.9) scale(1.035,1)" font-size="28" text-anchor="start" fill="#1010d8" font-weight="normal" >600</text>
<text transform="translate(1816.5,512.3) scale(1.035,1)" font-size="28" text-anchor="start" fill="#1010d8" font-weight="normal" >650</text>
<text transform="translate(1816.5,430.7) scale(1.035,1)" font-size="28" text-anchor="start" fill="#1010d8" font-weight="normal" >700</text>
<text transform="translate(1816.5,349.1) scale(1.035,1)" font-size="28" text-anchor="start" fill="#1010d8" font-weight="normal" >750</text>
<text transform="translate(1816.5,267.5) scale(1.035,1)" font-size="28" text-anchor="start" fill="#1010d8" font-weight="normal" >800</text>
<text transform="translate(1816.5,185.9) scale(1.035,1)" font-size="28" text-anchor="start" fill="#1010d8" font-weight="normal" >850</text>
<text transform="translate(177.9,599.3) rotate(-90)" font-size="28" fill="#000">N<tspan font-size="20" dy="14">i</tspan><tspan dy="-14"> (cm</tspan><tspan font-size="22" dy="-11.6">-3</tspan><tspan dy="11.6">)</tspan></text>
<text transform="translate(1900,591) rotate(-90)" font-size="28" fill="#1010d8">alt (km)</text>
<text x="1500" y="843.5" font-size="28" text-anchor="start" fill="#1010d8" font-weight="normal" >Eclipse</text>
<rect x="1612" y="828" width="9.5" height="13" fill="#1010d8"/>
<rect x="1626" y="828" width="9.5" height="13" fill="#1010d8"/>
<rect x="1640" y="828" width="9.5" height="13" fill="#1010d8"/>
<rect x="1654" y="828" width="9.5" height="13" fill="#1010d8"/>
<rect x="1668" y="828" width="9.5" height="13" fill="#1010d8"/>
<rect x="1682" y="828" width="9.5" height="13" fill="#1010d8"/>
<rect x="1696" y="828" width="9.5" height="13" fill="#1010d8"/>
<rect x="1710" y="828" width="9.5" height="13" fill="#1010d8"/>
<rect x="1724" y="828" width="9.5" height="13" fill="#1010d8"/>
<rect x="1738" y="828" width="9.5" height="13" fill="#1010d8"/>
<rect x="1752" y="828" width="9.5" height="13" fill="#1010d8"/>
<text x="1500" y="884.5" font-size="28" text-anchor="start" fill="#000" font-weight="normal" >One Minute Average</text>
<text x="1500" y="926" font-size="28" text-anchor="start" fill="#10f010" font-weight="normal" >One Second Average</text>
<text transform="translate(183.8,1153.3) rotate(-90)" font-size="28" fill="#000">Wavelength (km)</text>
<text x="203" y="1005" font-size="28" text-anchor="start" fill="#000" font-weight="normal" >10</text>
<text x="233.5" y="987.8" font-size="17" text-anchor="start" fill="#000" font-weight="normal" >-1</text>
<text x="203" y="1055.7" font-size="28" text-anchor="start" fill="#000" font-weight="normal" >10</text>
<text x="235.5" y="1038.6" font-size="17" text-anchor="start" fill="#000" font-weight="normal" >0</text>
<text x="203" y="1106.5" font-size="28" text-anchor="start" fill="#000" font-weight="normal" >10</text>
<text x="234.5" y="1090" font-size="17" text-anchor="start" fill="#000" font-weight="normal" >1</text>
<text x="186" y="1192.5" font-size="28" text-anchor="start" fill="#000" font-weight="normal" >15</text>
<text x="219.5" y="1178.5" font-size="17" text-anchor="start" fill="#000" font-weight="normal" >o</text>
<text x="231.5" y="1192.5" font-size="28" text-anchor="start" fill="#000" font-weight="normal" >N</text>
<text x="215.3" y="1257.5" font-size="28" text-anchor="start" fill="#000" font-weight="normal" >0</text>
<text x="232" y="1244.5" font-size="17" text-anchor="start" fill="#000" font-weight="normal" >o</text>
<text x="187" y="1322.5" font-size="28" text-anchor="start" fill="#000" font-weight="normal" >15</text>
<text x="219.5" y="1308.5" font-size="17" text-anchor="start" fill="#000" font-weight="normal" >o</text>
<text x="232.5" y="1322.5" font-size="28" text-anchor="start" fill="#000" font-weight="normal" >S</text>
<text transform="translate(254.5,1410) scale(1.03,1)" font-size="28" text-anchor="middle" fill="#000" font-weight="normal" >GLON</text>
<text transform="translate(440,1410) scale(1.035,1)" font-size="28" text-anchor="middle" fill="#000" font-weight="normal" >052.6</text>
<text transform="translate(621,1410) scale(1.035,1)" font-size="28" text-anchor="middle" fill="#000" font-weight="normal" >094.5</text>
<text transform="translate(801,1410) scale(1.035,1)" font-size="28" text-anchor="middle" fill="#000" font-weight="normal" >136.4</text>
<text transform="translate(981,1410) scale(1.035,1)" font-size="28" text-anchor="middle" fill="#000" font-weight="normal" >178.3</text>
<text transform="translate(1162,1410) scale(1.035,1)" font-size="28" text-anchor="middle" fill="#000" font-weight="normal" >220.1</text>
<text transform="translate(1446,1410) scale(1.035,1)" font-size="28" text-anchor="middle" fill="#000" font-weight="normal" >286.2</text>
<text transform="translate(1628,1410) scale(1.035,1)" font-size="28" text-anchor="middle" fill="#000" font-weight="normal" >328.4</text>
<text transform="translate(1809,1410) scale(1.035,1)" font-size="28" text-anchor="middle" fill="#000" font-weight="normal" >010.6</text>
<text transform="translate(254.5,1450.8) scale(1.03,1)" font-size="28" text-anchor="middle" fill="#000" font-weight="normal" >GLAT</text>
<text transform="translate(440,1450.8) scale(1.035,1)" font-size="28" text-anchor="middle" fill="#000" font-weight="normal" >+00.4</text>
<text transform="translate(621,1450.8) scale(1.035,1)" font-size="28" text-anchor="middle" fill="#000" font-weight="normal" >-09.1</text>
<text transform="translate(801,1450.8) scale(1.035,1)" font-size="28" text-anchor="middle" fill="#000" font-weight="normal" >-13.1</text>
<text transform="translate(981,1450.8) scale(1.035,1)" font-size="28" text-anchor="middle" fill="#000" font-weight="normal" >-09.6</text>
<text transform="translate(1162,1450.8) scale(1.035,1)" font-size="28" text-anchor="middle" fill="#000" font-weight="normal" >-00.3</text>
<text transform="translate(1446,1450.8) scale(1.035,1)" font-size="28" text-anchor="middle" fill="#000" font-weight="normal" >+09.0</text>
<text transform="translate(1628,1450.8) scale(1.035,1)" font-size="28" text-anchor="middle" fill="#000" font-weight="normal" >+13.1</text>
<text transform="translate(1809,1450.8) scale(1.035,1)" font-size="28" text-anchor="middle" fill="#000" font-weight="normal" >+09.6</text>
<text transform="translate(254.5,1491.6) scale(1.03,1)" font-size="28" text-anchor="middle" fill="#000" font-weight="normal" > GALT</text>
<text transform="translate(440,1491.6) scale(1.035,1)" font-size="28" text-anchor="middle" fill="#000" font-weight="normal" > 556</text>
<text transform="translate(621,1491.6) scale(1.035,1)" font-size="28" text-anchor="middle" fill="#000" font-weight="normal" > 714</text>
<text transform="translate(801,1491.6) scale(1.035,1)" font-size="28" text-anchor="middle" fill="#000" font-weight="normal" > 804</text>
<text transform="translate(981,1491.6) scale(1.035,1)" font-size="28" text-anchor="middle" fill="#000" font-weight="normal" > 773</text>
<text transform="translate(1162,1491.6) scale(1.035,1)" font-size="28" text-anchor="middle" fill="#000" font-weight="normal" > 638</text>
<text transform="translate(1446,1491.6) scale(1.035,1)" font-size="28" text-anchor="middle" fill="#000" font-weight="normal" > 483</text>
<text transform="translate(1628,1491.6) scale(1.035,1)" font-size="28" text-anchor="middle" fill="#000" font-weight="normal" > 403</text>
<text transform="translate(1809,1491.6) scale(1.035,1)" font-size="28" text-anchor="middle" fill="#000" font-weight="normal" > 430</text>
<text transform="translate(254.5,1532.4) scale(1.03,1)" font-size="28" text-anchor="middle" fill="#000" font-weight="normal" >MLON</text>
<text transform="translate(440,1532.4) scale(1.035,1)" font-size="28" text-anchor="middle" fill="#000" font-weight="normal" >123.9</text>
<text transform="translate(621,1532.4) scale(1.035,1)" font-size="28" text-anchor="middle" fill="#000" font-weight="normal" >164.8</text>
<text transform="translate(801,1532.4) scale(1.035,1)" font-size="28" text-anchor="middle" fill="#000" font-weight="normal" >208.0</text>
<text transform="translate(981,1532.4) scale(1.035,1)" font-size="28" text-anchor="middle" fill="#000" font-weight="normal" >251.3</text>
<text transform="translate(1162,1532.4) scale(1.035,1)" font-size="28" text-anchor="middle" fill="#000" font-weight="normal" >290.6</text>
<text transform="translate(1446,1532.4) scale(1.035,1)" font-size="28" text-anchor="middle" fill="#000" font-weight="normal" >357.6</text>
<text transform="translate(1628,1532.4) scale(1.035,1)" font-size="28" text-anchor="middle" fill="#000" font-weight="normal" >045.7</text>
<text transform="translate(1809,1532.4) scale(1.035,1)" font-size="28" text-anchor="middle" fill="#000" font-weight="normal" >082.1</text>
<text transform="translate(254.5,1573.2) scale(1.03,1)" font-size="28" text-anchor="middle" fill="#000" font-weight="normal" >MLAT</text>
<text transform="translate(440,1573.2) scale(1.035,1)" font-size="28" text-anchor="middle" fill="#000" font-weight="normal" >-08.8</text>
<text transform="translate(621,1573.2) scale(1.035,1)" font-size="28" text-anchor="middle" fill="#000" font-weight="normal" >-19.8</text>
<text transform="translate(801,1573.2) scale(1.035,1)" font-size="28" text-anchor="middle" fill="#000" font-weight="normal" >-22.4</text>
<text transform="translate(981,1573.2) scale(1.035,1)" font-size="28" text-anchor="middle" fill="#000" font-weight="normal" >-12.6</text>
<text transform="translate(1162,1573.2) scale(1.035,1)" font-size="28" text-anchor="middle" fill="#000" font-weight="normal" >+02.9</text>
<text transform="translate(1446,1573.2) scale(1.035,1)" font-size="28" text-anchor="middle" fill="#000" font-weight="normal" >+21.6</text>
<text transform="translate(1628,1573.2) scale(1.035,1)" font-size="28" text-anchor="middle" fill="#000" font-weight="normal" >+09.7</text>
<text transform="translate(1809,1573.2) scale(1.035,1)" font-size="28" text-anchor="middle" fill="#000" font-weight="normal" >-03.7</text>
<text transform="translate(254.5,1613) scale(1.03,1)" font-size="28" text-anchor="middle" fill="#000" font-weight="normal" >UT</text>
<text transform="translate(440,1613) scale(1.035,1)" font-size="28" text-anchor="middle" fill="#000" font-weight="normal" >11:24</text>
<text transform="translate(621,1613) scale(1.035,1)" font-size="28" text-anchor="middle" fill="#000" font-weight="normal" >11:36</text>
<text transform="translate(801,1613) scale(1.035,1)" font-size="28" text-anchor="middle" fill="#000" font-weight="normal" >11:48</text>
<text transform="translate(981,1613) scale(1.035,1)" font-size="28" text-anchor="middle" fill="#000" font-weight="normal" >12:01</text>
<text transform="translate(1162,1613) scale(1.035,1)" font-size="28" text-anchor="middle" fill="#000" font-weight="normal" >12:14</text>
<text transform="translate(1446,1613) scale(1.035,1)" font-size="28" text-anchor="middle" fill="#000" font-weight="normal" >10:49</text>
<text transform="translate(1628,1613) scale(1.035,1)" font-size="28" text-anchor="middle" fill="#000" font-weight="normal" >11:00</text>
<text transform="translate(1809,1613) scale(1.035,1)" font-size="28" text-anchor="middle" fill="#000" font-weight="normal" >11:12</text>
<text transform="translate(254.5,1653.7) scale(1.03,1)" font-size="28" text-anchor="middle" fill="#000" font-weight="normal" >SLT </text>
<text transform="translate(440,1653.7) scale(1.035,1)" font-size="28" text-anchor="middle" fill="#000" font-weight="normal" >15:00</text>
<text transform="translate(621,1653.7) scale(1.035,1)" font-size="28" text-anchor="middle" fill="#000" font-weight="normal" >18:00</text>
<text transform="translate(801,1653.7) scale(1.035,1)" font-size="28" text-anchor="middle" fill="#000" font-weight="normal" >21:00</text>
<text transform="translate(981,1653.7) scale(1.035,1)" font-size="28" text-anchor="middle" fill="#000" font-weight="normal" >00:00</text>
<text transform="translate(1162,1653.7) scale(1.035,1)" font-size="28" text-anchor="middle" fill="#000" font-weight="normal" >03:00</text>
<text transform="translate(1446,1653.7) scale(1.035,1)" font-size="28" text-anchor="middle" fill="#000" font-weight="normal" >06:00</text>
<text transform="translate(1628,1653.7) scale(1.035,1)" font-size="28" text-anchor="middle" fill="#000" font-weight="normal" >09:00</text>
<text transform="translate(1809,1653.7) scale(1.035,1)" font-size="28" text-anchor="middle" fill="#000" font-weight="normal" >12:00</text>
<text transform="translate(1900,1637.5) rotate(-90) scale(0.968,1)" font-size="21" fill="#000">Preliminary corrected calibration, 2/11/09</text>
<text transform="translate(1924.8,1637.5) rotate(-90) scale(0.95,1)" font-size="21" fill="#000">Produced 19-Sep-2011 13:06:59</text>
</svg></body></html>
